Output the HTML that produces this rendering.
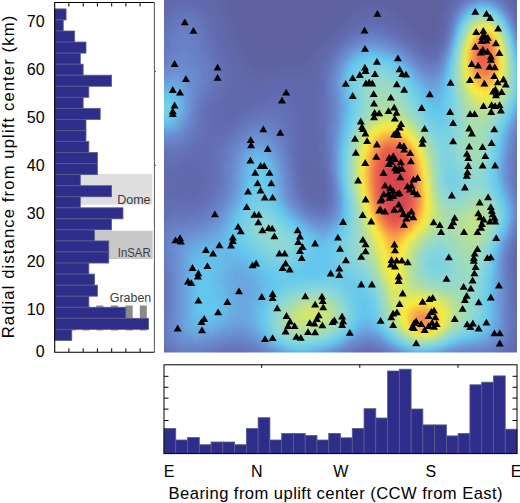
<!DOCTYPE html>
<html><head><meta charset="utf-8"><style>
html,body{margin:0;padding:0;background:#fff;}
svg{display:block;}
text{font-family:"Liberation Sans",sans-serif;fill:#000;}
.tk{font-size:16px;}
.ax{font-size:16.6px;}
.dir{font-size:16px;}
.rg{font-size:13px;fill:#3c3c3c;}
</style></head><body>
<svg width="520" height="503" viewBox="0 0 520 503">
<rect width="520" height="503" fill="#fff"/>
<clipPath id="hc"><rect x="164" y="0" width="353" height="352.5"/></clipPath>
<filter id="bl" x="-0.05" y="-0.05" width="1.1" height="1.1"><feGaussianBlur stdDeviation="1.6"/></filter>
<g clip-path="url(#hc)"><g shape-rendering="crispEdges" filter="url(#bl)">
<rect x="158.0" y="-6.0" width="366" height="366" fill="#5e609e"/>
<g transform="translate(158.0 -6.0)">
<path fill="#5f62a1" d="M0 0m60 0h12v3h-12zm147 0h18v3h-18zm78 0h6v3h-6zm69 0h3v3h-3zm-291 3h12v3h-12zm138 0h30v3h-30zm84 0h3v3h-3zm72 0h3v3h-3zm-291 3h9v3h-9zm129 0h39v3h-39zm87 0h6v3h-6zm75 0h3v3h-3zm-288 3h9v3h-9zm123 0h15v3h-15zm33 0h12v3h-12zm57 0h3v3h-3zm-213 3h9v3h-9zm120 0h12v3h-12zm42 0h9v3h-9zm51 0h3v3h-3zm78 0h3v3h-3zm-288 3h9v3h-9zm114 0h9v3h-9zm48 0h9v3h-9zm48 0h3v3h-3zm78 0h3v3h-3zm-288 3h9v3h-9zm111 0h9v3h-9zm54 0h9v3h-9zm42 0h6v3h-6zm-207 3h9v3h-9zm108 0h9v3h-9zm60 0h9v3h-9zm39 0h3v3h-3zm-204 3h9v3h-9zm102 0h9v3h-9zm66 0h9v3h-9zm36 0h3v3h-3zm84 0h3v3h-3zm-288 3h9v3h-9zm99 0h9v3h-9zm72 0h9v3h-9zm33 0h3v3h-3zm84 0h3v3h-3zm-288 3h9v3h-9zm96 0h9v3h-9zm78 0h9v3h-9zm30 0h3v3h-3zm-204 3h9v3h-9zm93 0h9v3h-9zm87 0h6v3h-6zm24 0h3v3h-3zm-201 3h9v3h-9zm87 0h9v3h-9zm93 0h6v3h-6zm18 0h6v3h-6zm-198 3h9v3h-9zm84 0h9v3h-9zm99 0h6v3h-6zm15 0h3v3h-3zm-198 3h9v3h-9zm81 0h9v3h-9zm105 0h15v3h-15zm-186 3h12v3h-12zm78 0h9v3h-9zm111 0h9v3h-9zm-186 3h9v3h-9zm72 0h9v3h-9zm-72 3h9v3h-9zm69 0h9v3h-9zm-66 3h9v3h-9zm63 0h12v3h-12zm-63 3h12v3h-12zm60 0h12v3h-12zm-57 3h12v3h-12zm48 0h18v3h-18zm-45 3h15v3h-15zm24 0h39v3h-39zm-24 3h60v3h-60zm3 3h51v3h-51zm3 3h21v3h-21zm267 186h3v3h-3zm0 3h3v3h-3zm0 3h3v3h-3zm0 3h3v3h-3zm0 3h3v3h-3zm0 3h3v3h-3zm0 87h3v3h-3zm0 3h3v3h-3z"/>
<path fill="#6065a5" d="M0 0m0 0h9v3h-9zm51 0h9v3h-9zm240 0h3v3h-3zm60 0h3v3h-3zm-351 3h6v3h-6zm54 0h9v3h-9zm234 0h3v3h-3zm66 0h3v3h-3zm-354 3h3v3h-3zm57 0h9v3h-9zm231 0h3v3h-3zm66 0h3v3h-3zm-294 3h9v3h-9zm147 0h18v3h-18zm78 0h3v3h-3zm72 0h3v3h-3zm-294 3h6v3h-6zm138 0h30v3h-30zm84 0h3v3h-3zm72 0h3v3h-3zm-294 3h9v3h-9zm132 0h12v3h-12zm27 0h12v3h-12zm63 0h3v3h-3zm-219 3h6v3h-6zm126 0h9v3h-9zm36 0h9v3h-9zm132 0h3v3h-3zm-294 3h6v3h-6zm123 0h6v3h-6zm42 0h9v3h-9zm51 0h3v3h-3zm78 0h3v3h-3zm-294 3h9v3h-9zm120 0h6v3h-6zm51 0h6v3h-6zm45 0h3v3h-3zm-213 3h6v3h-6zm114 0h6v3h-6zm57 0h6v3h-6zm42 0h3v3h-3zm-213 3h6v3h-6zm111 0h6v3h-6zm63 0h6v3h-6zm39 0h3v3h-3zm81 0h3v3h-3zm-294 3h6v3h-6zm108 0h6v3h-6zm72 0h6v3h-6zm-180 3h9v3h-9zm105 0h6v3h-6zm78 0h6v3h-6zm-180 3h6v3h-6zm99 0h6v3h-6zm84 0h6v3h-6zm24 0h3v3h-3zm-207 3h6v3h-6zm96 0h6v3h-6zm90 0h6v3h-6zm21 0h3v3h-3zm-207 3h6v3h-6zm93 0h6v3h-6zm96 0h6v3h-6zm15 0h3v3h-3zm-201 3h6v3h-6zm87 0h6v3h-6zm105 0h9v3h-9zm-192 3h6v3h-6zm84 0h6v3h-6zm-81 3h6v3h-6zm81 0h6v3h-6zm-81 3h6v3h-6zm78 0h6v3h-6zm-75 3h6v3h-6zm72 0h6v3h-6zm-72 3h9v3h-9zm72 0h6v3h-6zm-69 3h6v3h-6zm66 0h6v3h-6zm-66 3h9v3h-9zm60 0h12v3h-12zm-57 3h9v3h-9zm30 0h36v3h-36zm-30 3h63v3h-63zm3 3h57v3h-57zm3 3h18v3h-18zm63 105h3v3h-3zm0 3h3v3h-3zm207 60h3v3h-3zm0 3h3v3h-3zm0 3h3v3h-3zm-3 3h3v3h-3zm0 3h3v3h-3zm0 3h3v3h-3zm0 3h3v3h-3zm0 3h3v3h-3zm0 3h3v3h-3zm3 3h3v3h-3zm0 3h3v3h-3zm0 3h3v3h-3zm0 3h3v3h-3zm0 3h3v3h-3zm0 63h3v3h-3zm0 3h3v3h-3zm-3 3h6v3h-6zm0 3h3v3h-3zm-3 3h6v3h-6z"/>
<path fill="#6167a8" d="M0 0m9 0h12v3h-12zm30 0h12v3h-12zm255 0h3v3h-3zm54 0h3v3h-3zm-342 3h9v3h-9zm39 0h9v3h-9zm246 0h3v3h-3zm60 0h3v3h-3zm-348 3h6v3h-6zm48 0h6v3h-6zm240 0h3v3h-3zm-291 3h6v3h-6zm54 0h6v3h-6zm234 0h3v3h-3zm66 0h3v3h-3zm-354 3h3v3h-3zm57 0h6v3h-6zm231 0h3v3h-3zm-231 3h6v3h-6zm150 0h15v3h-15zm150 0h3v3h-3zm-297 3h6v3h-6zm141 0h27v3h-27zm84 0h3v3h-3zm-225 3h6v3h-6zm135 0h9v3h-9zm27 0h9v3h-9zm63 0h3v3h-3zm-222 3h3v3h-3zm129 0h6v3h-6zm36 0h9v3h-9zm57 0h3v3h-3zm75 0h3v3h-3zm-297 3h6v3h-6zm126 0h6v3h-6zm45 0h6v3h-6zm-171 3h6v3h-6zm123 0h3v3h-3zm51 0h6v3h-6zm-174 3h6v3h-6zm120 0h3v3h-3zm60 0h6v3h-6zm39 0h3v3h-3zm81 0h3v3h-3zm-297 3h3v3h-3zm114 0h3v3h-3zm66 0h6v3h-6zm36 0h3v3h-3zm81 0h3v3h-3zm-297 3h6v3h-6zm111 0h3v3h-3zm72 0h6v3h-6zm33 0h3v3h-3zm-216 3h6v3h-6zm108 0h3v3h-3zm81 0h3v3h-3zm-189 3h6v3h-6zm105 0h3v3h-3zm87 0h3v3h-3zm21 0h3v3h-3zm-210 3h6v3h-6zm99 0h3v3h-3zm93 0h6v3h-6zm15 0h3v3h-3zm-207 3h6v3h-6zm96 0h6v3h-6zm99 0h15v3h-15zm-192 3h6v3h-6zm93 0h3v3h-3zm-93 3h6v3h-6zm90 0h3v3h-3zm-87 3h6v3h-6zm84 0h6v3h-6zm-84 3h6v3h-6zm84 0h3v3h-3zm-81 3h6v3h-6zm78 0h6v3h-6zm-78 3h6v3h-6zm78 0h3v3h-3zm-75 3h6v3h-6zm72 0h6v3h-6zm-72 3h6v3h-6zm69 0h6v3h-6zm-69 3h9v3h-9zm66 0h9v3h-9zm-63 3h9v3h-9zm27 0h42v3h-42zm-27 3h69v3h-69zm3 3h27v3h-27zm51 0h12v3h-12zm-51 3h18v3h-18zm3 3h6v3h-6zm60 66h6v3h-6zm0 3h6v3h-6zm-3 3h12v3h-12zm0 3h12v3h-12zm0 3h12v3h-12zm0 3h15v3h-15zm-147 3h3v3h-3zm147 0h15v3h-15zm-147 3h3v3h-3zm147 0h15v3h-15zm-147 3h3v3h-3zm147 0h15v3h-15zm-147 3h3v3h-3zm150 0h6v3h-6zm9 0h6v3h-6zm-159 3h3v3h-3zm150 0h6v3h-6zm9 0h6v3h-6zm-159 3h3v3h-3zm150 0h15v3h-15zm-150 3h3v3h-3zm150 0h15v3h-15zm-150 3h3v3h-3zm153 0h12v3h-12zm-153 3h3v3h-3zm156 0h6v3h-6zm207 45h3v3h-3zm-3 6h3v3h-3zm0 3h3v3h-3zm0 21h3v3h-3zm0 3h3v3h-3zm0 3h3v3h-3zm0 3h3v3h-3zm3 6h3v3h-3zm0 3h3v3h-3zm0 3h3v3h-3zm0 3h3v3h-3zm0 3h3v3h-3zm0 3h3v3h-3zm0 3h3v3h-3zm0 3h3v3h-3zm0 3h3v3h-3zm0 3h3v3h-3zm0 3h3v3h-3zm0 3h3v3h-3zm0 3h3v3h-3zm0 3h3v3h-3zm0 3h3v3h-3zm0 3h3v3h-3zm0 3h3v3h-3zm0 3h3v3h-3zm0 3h3v3h-3zm-3 3h6v3h-6zm0 3h3v3h-3zm0 3h3v3h-3zm-3 3h3v3h-3zm-3 3h6v3h-6zm-3 3h6v3h-6z"/>
<path fill="#6169ac" d="M0 0m21 0h18v3h-18zm276 0h3v3h-3zm48 0h3v3h-3zm-330 3h30v3h-30zm279 0h3v3h-3zm54 0h3v3h-3zm-339 3h9v3h-9zm33 0h9v3h-9zm252 0h3v3h-3zm57 0h3v3h-3zm-345 3h6v3h-6zm39 0h9v3h-9zm246 0h3v3h-3zm-288 3h6v3h-6zm48 0h6v3h-6zm303 0h3v3h-3zm-354 3h6v3h-6zm51 0h6v3h-6zm237 0h3v3h-3zm-288 3h3v3h-3zm54 0h6v3h-6zm234 0h3v3h-3zm69 0h3v3h-3zm-357 3h3v3h-3zm57 0h3v3h-3zm147 0h18v3h-18zm153 0h3v3h-3zm-300 3h6v3h-6zm141 0h12v3h-12zm18 0h12v3h-12zm-159 3h6v3h-6zm138 0h6v3h-6zm30 0h9v3h-9zm60 0h3v3h-3zm75 0h3v3h-3zm-300 3h3v3h-3zm129 0h6v3h-6zm42 0h6v3h-6zm54 0h3v3h-3zm75 0h3v3h-3zm-300 3h3v3h-3zm126 0h6v3h-6zm51 0h6v3h-6zm48 0h3v3h-3zm-225 3h6v3h-6zm123 0h6v3h-6zm57 0h6v3h-6zm-180 3h6v3h-6zm120 0h3v3h-3zm66 0h3v3h-3zm117 0h3v3h-3zm-300 3h3v3h-3zm114 0h3v3h-3zm72 0h6v3h-6zm33 0h3v3h-3zm-219 3h3v3h-3zm111 0h6v3h-6zm81 0h3v3h-3zm27 0h3v3h-3zm-219 3h6v3h-6zm108 0h6v3h-6zm87 0h3v3h-3zm21 0h3v3h-3zm-213 3h3v3h-3zm105 0h3v3h-3zm90 0h3v3h-3zm18 0h3v3h-3zm-213 3h6v3h-6zm102 0h3v3h-3zm96 0h15v3h-15zm-195 3h3v3h-3zm96 0h3v3h-3zm105 0h3v3h-3zm-201 3h6v3h-6zm96 0h3v3h-3zm-93 3h3v3h-3zm90 0h3v3h-3zm-90 3h6v3h-6zm90 0h3v3h-3zm-87 3h3v3h-3zm84 0h3v3h-3zm-84 3h6v3h-6zm84 0h3v3h-3zm-84 3h6v3h-6zm81 0h6v3h-6zm-78 3h3v3h-3zm78 0h3v3h-3zm-78 3h6v3h-6zm75 0h6v3h-6zm-75 3h6v3h-6zm75 0h6v3h-6zm-75 3h9v3h-9zm36 0h24v3h-24zm36 0h9v3h-9zm-72 3h9v3h-9zm27 0h51v3h-51zm-27 3h12v3h-12zm18 0h18v3h-18zm36 0h24v3h-24zm-54 3h30v3h-30zm60 0h18v3h-18zm-63 3h27v3h-27zm66 0h15v3h-15zm-66 3h21v3h-21zm66 0h15v3h-15zm-69 3h18v3h-18zm72 0h12v3h-12zm-75 3h15v3h-15zm75 0h12v3h-12zm-75 3h12v3h-12zm75 0h12v3h-12zm-78 3h9v3h-9zm78 0h12v3h-12zm-78 3h6v3h-6zm78 0h12v3h-12zm0 3h12v3h-12zm0 3h9v3h-9zm0 3h9v3h-9zm0 3h12v3h-12zm0 3h12v3h-12zm0 3h12v3h-12zm0 3h12v3h-12zm0 3h12v3h-12zm0 3h12v3h-12zm0 3h15v3h-15zm0 3h15v3h-15zm0 3h15v3h-15zm0 3h15v3h-15zm0 3h6v3h-6zm12 0h6v3h-6zm207 0h3v3h-3zm-219 3h6v3h-6zm12 0h6v3h-6zm207 0h3v3h-3zm-363 3h3v3h-3zm144 0h3v3h-3zm15 0h3v3h-3zm204 0h3v3h-3zm-363 3h3v3h-3zm144 0h3v3h-3zm15 0h3v3h-3zm204 0h3v3h-3zm-363 3h3v3h-3zm144 0h3v3h-3zm15 0h6v3h-6zm204 0h3v3h-3zm-363 3h6v3h-6zm144 0h3v3h-3zm18 0h3v3h-3zm201 0h3v3h-3zm-360 3h3v3h-3zm141 0h3v3h-3zm18 0h3v3h-3zm201 0h3v3h-3zm-360 3h3v3h-3zm24 0h9v3h-9zm117 0h3v3h-3zm18 0h3v3h-3zm201 0h3v3h-3zm-360 3h3v3h-3zm21 0h15v3h-15zm120 0h3v3h-3zm18 0h3v3h-3zm201 0h3v3h-3zm-360 3h3v3h-3zm21 0h15v3h-15zm120 0h6v3h-6zm-141 3h3v3h-3zm21 0h12v3h-12zm123 0h3v3h-3zm18 0h3v3h-3zm-162 3h3v3h-3zm21 0h12v3h-12zm123 0h3v3h-3zm18 0h3v3h-3zm-162 3h3v3h-3zm24 0h6v3h-6zm120 0h3v3h-3zm18 0h3v3h-3zm-162 3h3v3h-3zm147 0h3v3h-3zm15 0h3v3h-3zm-162 3h3v3h-3zm147 0h6v3h-6zm12 0h6v3h-6zm-162 3h6v3h-6zm153 0h12v3h-12zm-153 3h3v3h-3zm0 3h3v3h-3zm0 3h3v3h-3zm363 27h3v3h-3zm0 3h3v3h-3zm-3 3h3v3h-3zm0 3h3v3h-3zm-3 6h3v3h-3zm0 3h3v3h-3zm0 3h3v3h-3zm0 3h3v3h-3zm0 3h3v3h-3zm0 3h3v3h-3zm0 3h3v3h-3zm0 3h3v3h-3zm0 3h3v3h-3zm0 3h3v3h-3zm3 6h3v3h-3zm0 3h3v3h-3zm0 3h3v3h-3zm0 3h3v3h-3zm0 3h3v3h-3zm0 3h3v3h-3zm0 3h3v3h-3zm0 3h3v3h-3zm0 3h3v3h-3zm0 3h3v3h-3zm0 3h3v3h-3zm0 3h3v3h-3zm0 3h3v3h-3zm0 3h3v3h-3zm0 3h3v3h-3zm0 3h3v3h-3zm0 3h3v3h-3zm0 3h3v3h-3zm0 3h3v3h-3zm0 3h3v3h-3zm-3 3h3v3h-3zm0 3h3v3h-3zm-3 3h6v3h-6zm0 3h3v3h-3zm-354 3h3v3h-3zm351 0h3v3h-3zm-351 3h6v3h-6zm198 0h27v3h-27zm147 0h6v3h-6z"/>
<path fill="#626baf" d="M0 0m300 0h3v3h-3zm42 0h3v3h-3zm-45 3h3v3h-3zm-279 3h24v3h-24zm330 0h3v3h-3zm-336 3h9v3h-9zm24 0h9v3h-9zm258 0h3v3h-3zm57 0h3v3h-3zm-342 3h6v3h-6zm33 0h9v3h-9zm249 0h3v3h-3zm-285 3h6v3h-6zm42 0h3v3h-3zm243 0h3v3h-3zm63 0h3v3h-3zm-351 3h6v3h-6zm45 0h6v3h-6zm-45 3h3v3h-3zm48 0h6v3h-6zm237 0h3v3h-3zm-288 3h6v3h-6zm54 0h3v3h-3zm156 0h6v3h-6zm78 0h3v3h-3zm69 0h3v3h-3zm-357 3h3v3h-3zm54 0h3v3h-3zm147 0h24v3h-24zm-201 3h3v3h-3zm54 0h6v3h-6zm141 0h9v3h-9zm30 0h6v3h-6zm-171 3h6v3h-6zm138 0h6v3h-6zm39 0h6v3h-6zm129 0h3v3h-3zm-303 3h3v3h-3zm132 0h3v3h-3zm48 0h3v3h-3zm48 0h3v3h-3zm-228 3h3v3h-3zm126 0h6v3h-6zm57 0h6v3h-6zm45 0h3v3h-3zm-228 3h6v3h-6zm123 0h6v3h-6zm66 0h3v3h-3zm117 0h3v3h-3zm-306 3h6v3h-6zm123 0h3v3h-3zm69 0h6v3h-6zm-189 3h3v3h-3zm117 0h3v3h-3zm78 0h3v3h-3zm27 0h3v3h-3zm-222 3h6v3h-6zm114 0h3v3h-3zm84 0h3v3h-3zm-195 3h3v3h-3zm108 0h3v3h-3zm90 0h3v3h-3zm18 0h3v3h-3zm-216 3h6v3h-6zm105 0h3v3h-3zm96 0h6v3h-6zm9 0h6v3h-6zm-207 3h3v3h-3zm102 0h3v3h-3zm-102 3h6v3h-6zm99 0h3v3h-3zm-96 3h3v3h-3zm96 0h3v3h-3zm-96 3h6v3h-6zm93 0h3v3h-3zm-93 3h6v3h-6zm93 0h3v3h-3zm-90 3h3v3h-3zm90 0h3v3h-3zm-90 3h6v3h-6zm87 0h3v3h-3zm-87 3h6v3h-6zm87 0h3v3h-3zm-87 3h6v3h-6zm87 0h3v3h-3zm-87 3h6v3h-6zm87 0h3v3h-3zm-87 3h6v3h-6zm84 0h6v3h-6zm-87 3h9v3h-9zm45 0h18v3h-18zm42 0h6v3h-6zm-87 3h9v3h-9zm39 0h30v3h-30zm48 0h6v3h-6zm-90 3h9v3h-9zm36 0h15v3h-15zm24 0h15v3h-15zm30 0h6v3h-6zm-93 3h12v3h-12zm33 0h15v3h-15zm36 0h9v3h-9zm24 0h6v3h-6zm-96 3h12v3h-12zm30 0h15v3h-15zm42 0h12v3h-12zm24 0h6v3h-6zm-96 3h9v3h-9zm24 0h15v3h-15zm51 0h9v3h-9zm21 0h6v3h-6zm-99 3h12v3h-12zm24 0h12v3h-12zm54 0h9v3h-9zm21 0h6v3h-6zm-102 3h12v3h-12zm21 0h15v3h-15zm60 0h9v3h-9zm21 0h6v3h-6zm-102 3h12v3h-12zm18 0h12v3h-12zm66 0h6v3h-6zm18 0h6v3h-6zm-102 3h27v3h-27zm84 0h6v3h-6zm18 0h6v3h-6zm-102 3h24v3h-24zm84 0h6v3h-6zm15 0h9v3h-9zm-99 3h21v3h-21zm84 0h6v3h-6zm15 0h9v3h-9zm-99 3h15v3h-15zm84 0h6v3h-6zm18 0h6v3h-6zm-102 3h12v3h-12zm84 0h6v3h-6zm18 0h6v3h-6zm-18 3h6v3h-6zm18 0h6v3h-6zm-18 3h6v3h-6zm18 0h6v3h-6zm-18 3h6v3h-6zm18 0h6v3h-6zm-18 3h6v3h-6zm18 0h6v3h-6zm-18 3h6v3h-6zm21 0h3v3h-3zm204 0h3v3h-3zm-225 3h6v3h-6zm21 0h3v3h-3zm204 0h3v3h-3zm-225 3h6v3h-6zm21 0h3v3h-3zm204 0h3v3h-3zm-225 3h6v3h-6zm21 0h3v3h-3zm204 0h3v3h-3zm-363 3h3v3h-3zm138 0h6v3h-6zm24 0h3v3h-3zm-162 3h3v3h-3zm141 0h3v3h-3zm21 0h3v3h-3zm-159 3h3v3h-3zm27 0h9v3h-9zm111 0h3v3h-3zm21 0h3v3h-3zm-159 3h3v3h-3zm21 0h18v3h-18zm117 0h3v3h-3zm21 0h3v3h-3zm198 0h3v3h-3zm-357 3h6v3h-6zm18 0h24v3h-24zm120 0h3v3h-3zm219 0h3v3h-3zm-354 3h6v3h-6zm12 0h27v3h-27zm123 0h3v3h-3zm24 0h3v3h-3zm195 0h3v3h-3zm-354 3h42v3h-42zm135 0h3v3h-3zm24 0h3v3h-3zm195 0h3v3h-3zm-354 3h21v3h-21zm30 0h12v3h-12zm105 0h3v3h-3zm24 0h3v3h-3zm-159 3h18v3h-18zm33 0h9v3h-9zm102 0h3v3h-3zm24 0h3v3h-3zm-159 3h18v3h-18zm33 0h9v3h-9zm102 0h3v3h-3zm24 0h3v3h-3zm198 0h3v3h-3zm-357 3h18v3h-18zm30 0h12v3h-12zm108 0h3v3h-3zm219 0h3v3h-3zm-357 3h18v3h-18zm30 0h9v3h-9zm108 0h3v3h-3zm219 0h3v3h-3zm-357 3h21v3h-21zm27 0h12v3h-12zm111 0h3v3h-3zm-138 3h36v3h-36zm141 0h3v3h-3zm-141 3h33v3h-33zm141 0h3v3h-3zm-141 3h3v3h-3zm15 0h15v3h-15zm129 0h3v3h-3zm15 0h3v3h-3zm-162 3h6v3h-6zm150 0h15v3h-15zm-150 3h3v3h-3zm156 0h3v3h-3zm-156 3h3v3h-3zm-3 3h3v3h-3zm0 3h3v3h-3zm0 3h3v3h-3zm363 12h3v3h-3zm0 3h3v3h-3zm-3 6h3v3h-3zm-3 6h3v3h-3zm0 3h3v3h-3zm-3 9h3v3h-3zm0 3h3v3h-3zm0 3h3v3h-3zm0 3h3v3h-3zm0 3h3v3h-3zm0 3h3v3h-3zm3 9h3v3h-3zm0 3h3v3h-3zm0 3h3v3h-3zm0 3h3v3h-3zm0 3h3v3h-3zm0 3h3v3h-3zm0 3h3v3h-3zm0 3h3v3h-3zm0 3h3v3h-3zm0 3h3v3h-3zm0 27h3v3h-3zm0 3h3v3h-3zm0 3h3v3h-3zm-3 3h3v3h-3zm0 3h3v3h-3zm-354 3h3v3h-3zm351 0h3v3h-3zm-351 3h3v3h-3zm348 0h6v3h-6zm-345 3h3v3h-3zm195 0h24v3h-24zm147 0h6v3h-6zm-339 3h3v3h-3zm54 0h30v3h-30zm132 0h6v3h-6zm33 0h3v3h-3zm114 0h6v3h-6z"/>
<path fill="#636eb2" d="M0 0m303 0h3v3h-3zm-3 3h3v3h-3zm45 0h3v3h-3zm-48 3h3v3h-3zm-276 3h15v3h-15zm-6 3h12v3h-12zm18 0h9v3h-9zm261 0h3v3h-3zm57 0h3v3h-3zm-339 3h6v3h-6zm27 0h9v3h-9zm-30 3h6v3h-6zm36 0h3v3h-3zm246 0h3v3h-3zm63 0h3v3h-3zm-348 3h6v3h-6zm39 0h6v3h-6zm-39 3h3v3h-3zm42 0h6v3h-6zm-45 3h3v3h-3zm48 0h3v3h-3zm237 0h3v3h-3zm69 0h3v3h-3zm-354 3h3v3h-3zm48 0h3v3h-3zm153 0h21v3h-21zm84 0h3v3h-3zm-288 3h3v3h-3zm51 0h3v3h-3zm147 0h6v3h-6zm27 0h6v3h-6zm-225 3h3v3h-3zm51 0h6v3h-6zm141 0h6v3h-6zm39 0h6v3h-6zm129 0h3v3h-3zm-360 3h3v3h-3zm54 0h3v3h-3zm135 0h3v3h-3zm48 0h3v3h-3zm-237 3h3v3h-3zm54 0h3v3h-3zm132 0h3v3h-3zm57 0h3v3h-3zm42 0h3v3h-3zm-231 3h3v3h-3zm129 0h3v3h-3zm63 0h3v3h-3zm117 0h3v3h-3zm-309 3h6v3h-6zm126 0h3v3h-3zm72 0h3v3h-3zm-195 3h3v3h-3zm120 0h3v3h-3zm78 0h3v3h-3zm27 0h3v3h-3zm-225 3h6v3h-6zm117 0h3v3h-3zm84 0h3v3h-3zm-198 3h3v3h-3zm111 0h3v3h-3zm90 0h3v3h-3zm18 0h3v3h-3zm-219 3h6v3h-6zm111 0h3v3h-3zm93 0h15v3h-15zm-201 3h3v3h-3zm105 0h3v3h-3zm-105 3h6v3h-6zm105 0h3v3h-3zm-105 3h6v3h-6zm102 0h3v3h-3zm-99 3h3v3h-3zm99 0h3v3h-3zm-99 3h6v3h-6zm99 0h3v3h-3zm-99 3h6v3h-6zm96 0h3v3h-3zm-96 3h6v3h-6zm96 0h3v3h-3zm-96 3h6v3h-6zm96 0h3v3h-3zm-96 3h6v3h-6zm96 0h3v3h-3zm-96 3h6v3h-6zm96 0h3v3h-3zm-99 3h6v3h-6zm99 0h3v3h-3zm-102 3h9v3h-9zm102 0h3v3h-3zm-102 3h6v3h-6zm57 0h9v3h-9zm45 0h3v3h-3zm-105 3h6v3h-6zm54 0h21v3h-21zm51 0h3v3h-3zm-108 3h6v3h-6zm51 0h27v3h-27zm57 0h3v3h-3zm-111 3h9v3h-9zm48 0h12v3h-12zm24 0h12v3h-12zm39 0h3v3h-3zm-111 3h6v3h-6zm42 0h12v3h-12zm33 0h9v3h-9zm36 0h3v3h-3zm-111 3h3v3h-3zm39 0h9v3h-9zm39 0h6v3h-6zm33 0h3v3h-3zm-114 3h6v3h-6zm36 0h9v3h-9zm45 0h9v3h-9zm33 0h3v3h-3zm-114 3h6v3h-6zm33 0h9v3h-9zm51 0h6v3h-6zm30 0h3v3h-3zm-114 3h6v3h-6zm30 0h6v3h-6zm54 0h6v3h-6zm30 0h3v3h-3zm-114 3h6v3h-6zm27 0h6v3h-6zm57 0h6v3h-6zm30 0h3v3h-3zm-114 3h6v3h-6zm21 0h9v3h-9zm63 0h6v3h-6zm30 0h3v3h-3zm-114 3h6v3h-6zm18 0h9v3h-9zm66 0h6v3h-6zm30 0h3v3h-3zm-114 3h24v3h-24zm84 0h6v3h-6zm30 0h3v3h-3zm-114 3h21v3h-21zm87 0h3v3h-3zm27 0h3v3h-3zm-117 3h18v3h-18zm90 0h3v3h-3zm27 0h3v3h-3zm201 0h3v3h-3zm-318 3h15v3h-15zm90 0h3v3h-3zm27 0h3v3h-3zm201 0h3v3h-3zm-318 3h12v3h-12zm90 0h3v3h-3zm27 0h3v3h-3zm-120 3h12v3h-12zm93 0h3v3h-3zm27 0h3v3h-3zm-123 3h15v3h-15zm96 0h3v3h-3zm27 0h3v3h-3zm198 0h3v3h-3zm-360 3h3v3h-3zm33 0h21v3h-21zm102 0h3v3h-3zm27 0h3v3h-3zm198 0h3v3h-3zm-357 3h3v3h-3zm24 0h27v3h-27zm108 0h3v3h-3zm225 0h3v3h-3zm-357 3h6v3h-6zm21 0h30v3h-30zm114 0h3v3h-3zm27 0h3v3h-3zm195 0h3v3h-3zm-354 3h6v3h-6zm12 0h12v3h-12zm21 0h15v3h-15zm99 0h3v3h-3zm27 0h3v3h-3zm195 0h3v3h-3zm-354 3h18v3h-18zm36 0h12v3h-12zm96 0h3v3h-3zm27 0h3v3h-3zm-156 3h12v3h-12zm36 0h9v3h-9zm93 0h3v3h-3zm27 0h3v3h-3zm-153 3h6v3h-6zm33 0h9v3h-9zm93 0h3v3h-3zm-90 3h6v3h-6zm90 0h3v3h-3zm-90 3h6v3h-6zm90 0h3v3h-3zm222 0h3v3h-3zm-312 3h6v3h-6zm120 0h3v3h-3zm192 0h3v3h-3zm-312 3h6v3h-6zm120 0h3v3h-3zm192 0h3v3h-3zm-312 3h6v3h-6zm93 0h3v3h-3zm27 0h3v3h-3zm192 0h3v3h-3zm-315 3h6v3h-6zm96 0h3v3h-3zm27 0h3v3h-3zm-123 3h6v3h-6zm96 0h3v3h-3zm27 0h3v3h-3zm195 0h3v3h-3zm-321 3h6v3h-6zm102 0h3v3h-3zm24 0h3v3h-3zm195 0h3v3h-3zm-324 3h9v3h-9zm105 0h3v3h-3zm24 0h3v3h-3zm195 0h3v3h-3zm-354 3h12v3h-12zm27 0h9v3h-9zm111 0h3v3h-3zm21 0h3v3h-3zm-159 3h33v3h-33zm141 0h3v3h-3zm18 0h3v3h-3zm-162 3h33v3h-33zm147 0h6v3h-6zm9 0h6v3h-6zm-156 3h6v3h-6zm153 0h3v3h-3zm-156 3h6v3h-6zm0 3h3v3h-3zm0 3h3v3h-3zm-3 3h3v3h-3zm0 3h3v3h-3zm363 3h3v3h-3zm-3 9h3v3h-3zm-3 6h3v3h-3zm-3 9h3v3h-3zm0 3h3v3h-3zm-354 15h3v3h-3zm0 3h3v3h-3zm0 3h3v3h-3zm354 0h3v3h-3zm-354 3h3v3h-3zm354 0h3v3h-3zm-354 3h3v3h-3zm354 0h3v3h-3zm-354 3h3v3h-3zm354 0h3v3h-3zm-354 3h3v3h-3zm354 0h3v3h-3zm-354 3h3v3h-3zm354 0h3v3h-3zm-354 3h3v3h-3zm0 3h3v3h-3zm0 3h3v3h-3zm0 3h3v3h-3zm0 3h3v3h-3zm0 3h3v3h-3zm0 3h3v3h-3zm357 0h3v3h-3zm-357 3h3v3h-3zm357 0h3v3h-3zm0 3h3v3h-3zm0 3h3v3h-3zm0 3h3v3h-3zm0 3h3v3h-3zm0 3h3v3h-3zm0 3h3v3h-3zm-3 6h3v3h-3zm-354 3h3v3h-3zm354 0h3v3h-3zm-354 3h3v3h-3zm0 3h3v3h-3zm351 0h3v3h-3zm-348 3h3v3h-3zm345 0h3v3h-3zm-345 3h6v3h-6zm198 0h18v3h-18zm144 0h3v3h-3zm-339 3h6v3h-6zm54 0h30v3h-30zm132 0h6v3h-6zm30 0h6v3h-6zm117 0h6v3h-6zm-330 3h6v3h-6zm39 0h12v3h-12zm42 0h9v3h-9zm96 0h6v3h-6zm42 0h6v3h-6zm102 0h9v3h-9z"/>
<path fill="#6470b6" d="M0 0m306 0h6v3h-6zm33 0h3v3h-3zm-36 3h3v3h-3zm39 0h3v3h-3zm-42 3h3v3h-3zm45 0h3v3h-3zm-48 3h3v3h-3zm51 0h3v3h-3zm-321 3h6v3h-6zm-9 3h21v3h-21zm276 0h3v3h-3zm57 0h3v3h-3zm-336 3h6v3h-6zm21 0h9v3h-9zm-24 3h3v3h-3zm30 0h3v3h-3zm249 0h3v3h-3zm63 0h3v3h-3zm-345 3h3v3h-3zm33 0h6v3h-6zm249 0h3v3h-3zm-285 3h6v3h-6zm39 0h6v3h-6zm-39 3h3v3h-3zm39 0h6v3h-6zm312 0h3v3h-3zm-354 3h6v3h-6zm45 0h3v3h-3zm156 0h21v3h-21zm84 0h3v3h-3zm-285 3h3v3h-3zm45 0h3v3h-3zm150 0h6v3h-6zm27 0h6v3h-6zm63 0h3v3h-3zm-285 3h3v3h-3zm45 0h6v3h-6zm144 0h6v3h-6zm39 0h6v3h-6zm129 0h3v3h-3zm-357 3h3v3h-3zm45 0h6v3h-6zm141 0h3v3h-3zm48 0h6v3h-6zm-237 3h6v3h-6zm51 0h3v3h-3zm135 0h3v3h-3zm57 0h3v3h-3zm42 0h3v3h-3zm-285 3h3v3h-3zm51 0h3v3h-3zm132 0h3v3h-3zm63 0h6v3h-6zm39 0h3v3h-3zm78 0h3v3h-3zm-363 3h3v3h-3zm51 0h6v3h-6zm129 0h3v3h-3zm72 0h3v3h-3zm-252 3h3v3h-3zm54 0h3v3h-3zm123 0h3v3h-3zm78 0h3v3h-3zm27 0h3v3h-3zm-282 3h3v3h-3zm54 0h6v3h-6zm120 0h3v3h-3zm84 0h3v3h-3zm-204 3h6v3h-6zm207 0h3v3h-3zm18 0h3v3h-3zm-222 3h6v3h-6zm114 0h3v3h-3zm96 0h12v3h-12zm-210 3h6v3h-6zm3 3h3v3h-3zm108 0h3v3h-3zm-108 3h6v3h-6zm108 0h3v3h-3zm-105 3h3v3h-3zm0 3h3v3h-3zm102 0h3v3h-3zm-102 3h3v3h-3zm102 0h3v3h-3zm-102 3h3v3h-3zm102 0h3v3h-3zm-105 3h6v3h-6zm105 0h3v3h-3zm-105 3h6v3h-6zm105 0h3v3h-3zm-108 3h6v3h-6zm108 0h3v3h-3zm-111 3h6v3h-6zm111 0h3v3h-3zm-111 3h6v3h-6zm111 0h3v3h-3zm-114 3h6v3h-6zm114 0h3v3h-3zm-114 3h3v3h-3zm114 0h3v3h-3zm-117 3h3v3h-3zm63 0h12v3h-12zm54 0h3v3h-3zm-117 3h3v3h-3zm57 0h21v3h-21zm60 0h3v3h-3zm-120 3h6v3h-6zm54 0h30v3h-30zm66 0h3v3h-3zm-120 3h3v3h-3zm48 0h9v3h-9zm30 0h6v3h-6zm42 0h3v3h-3zm-120 3h3v3h-3zm45 0h6v3h-6zm33 0h9v3h-9zm42 0h3v3h-3zm-120 3h3v3h-3zm39 0h6v3h-6zm42 0h6v3h-6zm39 0h3v3h-3zm-123 3h6v3h-6zm39 0h6v3h-6zm45 0h6v3h-6zm39 0h3v3h-3zm-123 3h6v3h-6zm36 0h6v3h-6zm51 0h3v3h-3zm36 0h3v3h-3zm-123 3h6v3h-6zm33 0h3v3h-3zm54 0h3v3h-3zm36 0h3v3h-3zm-123 3h6v3h-6zm30 0h3v3h-3zm57 0h3v3h-3zm36 0h3v3h-3zm198 0h3v3h-3zm-321 3h6v3h-6zm27 0h3v3h-3zm60 0h6v3h-6zm36 0h3v3h-3zm198 0h3v3h-3zm-324 3h6v3h-6zm24 0h9v3h-9zm69 0h3v3h-3zm33 0h3v3h-3zm-126 3h6v3h-6zm21 0h9v3h-9zm72 0h3v3h-3zm33 0h3v3h-3zm195 0h3v3h-3zm-324 3h9v3h-9zm21 0h9v3h-9zm75 0h3v3h-3zm33 0h3v3h-3zm195 0h3v3h-3zm-327 3h9v3h-9zm21 0h9v3h-9zm78 0h3v3h-3zm33 0h3v3h-3zm195 0h3v3h-3zm-360 3h3v3h-3zm27 0h12v3h-12zm27 0h9v3h-9zm78 0h3v3h-3zm33 0h3v3h-3zm-162 3h3v3h-3zm21 0h9v3h-9zm30 0h6v3h-6zm78 0h3v3h-3zm33 0h3v3h-3zm-159 3h6v3h-6zm12 0h9v3h-9zm36 0h6v3h-6zm111 0h3v3h-3zm-156 3h15v3h-15zm45 0h6v3h-6zm81 0h3v3h-3zm222 0h3v3h-3zm-345 3h6v3h-6zm42 0h6v3h-6zm81 0h3v3h-3zm222 0h3v3h-3zm-303 3h6v3h-6zm81 0h3v3h-3zm222 0h3v3h-3zm-303 3h6v3h-6zm81 0h3v3h-3zm33 0h3v3h-3zm189 0h3v3h-3zm-303 3h6v3h-6zm81 0h3v3h-3zm33 0h3v3h-3zm189 0h3v3h-3zm-303 3h6v3h-6zm114 0h3v3h-3zm189 0h3v3h-3zm-303 3h6v3h-6zm114 0h3v3h-3zm189 0h3v3h-3zm-303 3h6v3h-6zm84 0h3v3h-3zm219 0h3v3h-3zm-303 3h6v3h-6zm84 0h3v3h-3zm-84 3h3v3h-3zm84 0h3v3h-3zm-87 3h6v3h-6zm87 0h3v3h-3zm222 0h3v3h-3zm-309 3h6v3h-6zm120 0h3v3h-3zm189 0h3v3h-3zm-312 3h6v3h-6zm93 0h3v3h-3zm30 0h3v3h-3zm-123 3h6v3h-6zm93 0h3v3h-3zm30 0h3v3h-3zm-126 3h6v3h-6zm99 0h3v3h-3zm219 0h3v3h-3zm-321 3h6v3h-6zm105 0h3v3h-3zm216 0h3v3h-3zm-324 3h6v3h-6zm111 0h3v3h-3zm18 0h3v3h-3zm195 0h3v3h-3zm-351 3h30v3h-30zm141 0h6v3h-6zm9 0h6v3h-6zm201 0h3v3h-3zm-354 3h27v3h-27zm-3 3h6v3h-6zm357 0h3v3h-3zm-357 3h3v3h-3zm357 0h3v3h-3zm-360 3h3v3h-3zm360 0h3v3h-3zm-360 3h3v3h-3zm360 0h3v3h-3zm-363 3h3v3h-3zm0 3h3v3h-3zm360 0h3v3h-3zm-360 3h3v3h-3zm360 0h3v3h-3zm-3 6h3v3h-3zm-3 6h3v3h-3zm0 3h3v3h-3zm-354 6h3v3h-3zm0 3h3v3h-3zm351 0h3v3h-3zm-351 3h3v3h-3zm351 0h3v3h-3zm-351 3h3v3h-3zm351 0h3v3h-3zm-351 3h3v3h-3zm351 0h3v3h-3zm0 3h3v3h-3zm0 3h3v3h-3zm-348 3h3v3h-3zm348 0h3v3h-3zm-348 3h3v3h-3zm0 3h3v3h-3zm0 3h3v3h-3zm0 3h3v3h-3zm0 3h3v3h-3zm0 3h3v3h-3zm351 0h3v3h-3zm-351 3h3v3h-3zm351 0h3v3h-3zm-351 3h3v3h-3zm351 0h3v3h-3zm-351 3h3v3h-3zm351 0h3v3h-3zm-351 3h3v3h-3zm351 0h3v3h-3zm-351 3h3v3h-3zm351 0h3v3h-3zm-351 3h3v3h-3zm351 0h3v3h-3zm0 3h3v3h-3zm-354 3h3v3h-3zm354 0h3v3h-3zm-354 3h3v3h-3zm354 0h3v3h-3zm-354 3h3v3h-3zm354 0h3v3h-3zm-354 3h3v3h-3zm354 0h3v3h-3zm-354 3h3v3h-3zm354 0h3v3h-3zm-354 3h3v3h-3zm354 0h3v3h-3zm-354 3h3v3h-3zm354 0h3v3h-3zm-354 3h3v3h-3zm351 3h3v3h-3zm-348 3h3v3h-3zm348 0h3v3h-3zm-348 3h3v3h-3zm345 0h3v3h-3zm-342 3h3v3h-3zm198 0h12v3h-12zm141 0h3v3h-3zm-336 3h3v3h-3zm51 0h30v3h-30zm135 0h6v3h-6zm24 0h6v3h-6zm123 0h3v3h-3zm-330 3h3v3h-3zm39 0h9v3h-9zm39 0h9v3h-9zm99 0h3v3h-3zm39 0h3v3h-3zm105 0h6v3h-6zm-318 3h9v3h-9zm21 0h12v3h-12zm63 0h6v3h-6zm81 0h6v3h-6zm54 0h3v3h-3zm66 0h30v3h-30z"/>
<path fill="#6574ba" d="M0 0m312 0h3v3h-3zm21 0h6v3h-6zm-27 3h3v3h-3zm33 0h3v3h-3zm-39 6h3v3h-3zm-3 3h3v3h-3zm51 0h3v3h-3zm-327 6h15v3h-15zm273 0h3v3h-3zm-279 3h12v3h-12zm15 0h12v3h-12zm-18 3h6v3h-6zm24 0h6v3h-6zm318 0h3v3h-3zm-342 3h3v3h-3zm27 0h6v3h-6zm252 0h3v3h-3zm-282 3h6v3h-6zm33 0h3v3h-3zm-33 3h3v3h-3zm33 0h6v3h-6zm-36 3h6v3h-6zm39 0h3v3h-3zm159 0h21v3h-21zm-198 3h3v3h-3zm39 0h3v3h-3zm153 0h3v3h-3zm27 0h6v3h-6zm63 0h3v3h-3zm-282 3h3v3h-3zm39 0h3v3h-3zm147 0h3v3h-3zm42 0h3v3h-3zm-228 3h3v3h-3zm39 0h6v3h-6zm144 0h3v3h-3zm51 0h3v3h-3zm-237 3h6v3h-6zm42 0h6v3h-6zm141 0h3v3h-3zm57 0h3v3h-3zm-240 3h3v3h-3zm45 0h3v3h-3zm135 0h3v3h-3zm66 0h3v3h-3zm36 0h3v3h-3zm78 0h3v3h-3zm-360 3h3v3h-3zm45 0h6v3h-6zm132 0h3v3h-3zm72 0h3v3h-3zm-249 3h3v3h-3zm45 0h6v3h-6zm129 0h3v3h-3zm78 0h3v3h-3zm27 0h3v3h-3zm-282 3h3v3h-3zm51 0h3v3h-3zm123 0h3v3h-3zm84 0h3v3h-3zm-258 3h3v3h-3zm51 0h6v3h-6zm123 0h3v3h-3zm90 0h3v3h-3zm15 0h3v3h-3zm-279 3h3v3h-3zm54 0h3v3h-3zm117 0h3v3h-3zm96 0h12v3h-12zm-213 3h6v3h-6zm117 0h3v3h-3zm-114 3h3v3h-3zm0 3h6v3h-6zm111 0h3v3h-3zm-111 3h6v3h-6zm111 0h3v3h-3zm-111 3h6v3h-6zm111 0h3v3h-3zm-111 3h6v3h-6zm-3 3h6v3h-6zm0 3h6v3h-6zm-3 3h6v3h-6zm0 3h3v3h-3zm-3 3h6v3h-6zm0 3h3v3h-3zm120 0h3v3h-3zm-123 3h6v3h-6zm123 0h3v3h-3zm-123 3h3v3h-3zm123 0h3v3h-3zm-123 3h3v3h-3zm123 0h3v3h-3zm-126 3h3v3h-3zm126 0h3v3h-3zm-126 3h3v3h-3zm60 0h21v3h-21zm66 0h3v3h-3zm-126 3h3v3h-3zm54 0h27v3h-27zm72 0h3v3h-3zm-126 3h3v3h-3zm48 0h9v3h-9zm27 0h9v3h-9zm51 0h3v3h-3zm-129 3h3v3h-3zm48 0h6v3h-6zm33 0h6v3h-6zm48 0h3v3h-3zm-129 3h3v3h-3zm45 0h3v3h-3zm39 0h6v3h-6zm240 0h3v3h-3zm-324 3h3v3h-3zm39 0h6v3h-6zm45 0h6v3h-6zm240 0h3v3h-3zm-324 3h3v3h-3zm36 0h6v3h-6zm51 0h3v3h-3zm-90 3h6v3h-6zm36 0h6v3h-6zm54 0h3v3h-3zm234 0h3v3h-3zm-327 3h6v3h-6zm39 0h3v3h-3zm54 0h6v3h-6zm234 0h3v3h-3zm-327 3h6v3h-6zm36 0h3v3h-3zm60 0h3v3h-3zm-99 3h6v3h-6zm36 0h6v3h-6zm63 0h3v3h-3zm-129 3h3v3h-3zm24 0h9v3h-9zm39 0h6v3h-6zm66 0h3v3h-3zm228 0h3v3h-3zm-354 3h3v3h-3zm18 0h6v3h-6zm42 0h3v3h-3zm66 0h3v3h-3zm228 0h3v3h-3zm-351 3h18v3h-18zm54 0h6v3h-6zm108 0h3v3h-3zm189 0h3v3h-3zm-345 3h6v3h-6zm48 0h6v3h-6zm72 0h3v3h-3zm36 0h3v3h-3zm189 0h3v3h-3zm-297 3h6v3h-6zm72 0h3v3h-3zm36 0h3v3h-3zm-108 3h3v3h-3zm72 0h3v3h-3zm36 0h3v3h-3zm-108 3h3v3h-3zm72 0h3v3h-3zm36 0h3v3h-3zm-108 3h3v3h-3zm0 3h3v3h-3zm0 3h3v3h-3zm75 0h3v3h-3zm-75 3h3v3h-3zm75 0h3v3h-3zm-75 3h3v3h-3zm75 0h3v3h-3zm36 0h3v3h-3zm-111 3h3v3h-3zm75 0h3v3h-3zm36 0h3v3h-3zm186 0h3v3h-3zm-300 3h6v3h-6zm78 0h3v3h-3zm36 0h3v3h-3zm186 0h3v3h-3zm-300 3h3v3h-3zm114 0h3v3h-3zm186 0h3v3h-3zm-300 3h3v3h-3zm81 0h3v3h-3zm-84 3h6v3h-6zm84 0h3v3h-3zm222 0h3v3h-3zm-306 3h3v3h-3zm306 0h3v3h-3zm-309 3h3v3h-3zm90 0h3v3h-3zm30 0h3v3h-3zm189 0h3v3h-3zm-312 3h6v3h-6zm96 0h3v3h-3zm27 0h3v3h-3zm-126 3h6v3h-6zm102 0h3v3h-3zm24 0h3v3h-3zm-129 3h6v3h-6zm108 0h3v3h-3zm18 0h3v3h-3zm-132 3h9v3h-9zm120 0h12v3h-12zm207 0h3v3h-3zm-351 3h27v3h-27zm-3 3h6v3h-6zm-3 3h3v3h-3zm0 3h3v3h-3zm-3 3h3v3h-3zm357 0h3v3h-3zm-357 3h3v3h-3zm-3 6h3v3h-3zm357 0h3v3h-3zm-357 3h3v3h-3zm0 3h3v3h-3zm354 0h3v3h-3zm-354 3h3v3h-3zm0 3h3v3h-3zm0 3h3v3h-3zm351 0h3v3h-3zm0 3h3v3h-3zm-348 6h3v3h-3zm0 3h3v3h-3zm0 3h3v3h-3zm0 3h3v3h-3zm0 3h3v3h-3zm348 6h3v3h-3zm-345 3h3v3h-3zm345 0h3v3h-3zm-345 3h3v3h-3zm345 0h3v3h-3zm-345 3h3v3h-3zm345 0h3v3h-3zm-345 3h3v3h-3zm345 0h3v3h-3zm-345 3h3v3h-3zm345 0h3v3h-3zm-345 3h3v3h-3zm345 0h3v3h-3zm-345 3h3v3h-3zm345 0h3v3h-3zm-345 3h3v3h-3zm345 0h3v3h-3zm-345 3h3v3h-3zm345 0h3v3h-3zm0 3h3v3h-3zm-348 6h3v3h-3zm0 3h3v3h-3zm0 3h3v3h-3zm0 3h3v3h-3zm0 3h3v3h-3zm0 3h3v3h-3zm348 0h3v3h-3zm-348 3h3v3h-3zm348 0h3v3h-3zm-348 3h3v3h-3zm348 0h3v3h-3zm-348 3h3v3h-3zm348 0h3v3h-3zm-348 3h3v3h-3zm345 0h3v3h-3zm-342 3h3v3h-3zm342 0h3v3h-3zm-342 3h3v3h-3zm339 0h3v3h-3zm-336 3h3v3h-3zm54 0h24v3h-24zm135 0h6v3h-6zm18 0h6v3h-6zm126 0h3v3h-3zm-330 3h6v3h-6zm39 0h9v3h-9zm39 0h6v3h-6zm102 0h3v3h-3zm33 0h3v3h-3zm111 0h6v3h-6zm-321 3h9v3h-9zm24 0h12v3h-12zm60 0h3v3h-3zm84 0h6v3h-6zm48 0h3v3h-3zm87 0h15v3h-15zm-294 3h12v3h-12zm81 0h6v3h-6zm69 0h6v3h-6zm63 0h6v3h-6zm54 0h9v3h-9z"/>
<path fill="#6679be" d="M0 0m315 0h6v3h-6zm12 0h6v3h-6zm-18 3h3v3h-3zm27 0h3v3h-3zm-33 3h3v3h-3zm39 0h3v3h-3zm3 3h3v3h-3zm-48 6h3v3h-3zm54 3h3v3h-3zm-324 3h3v3h-3zm267 0h3v3h-3zm-276 3h18v3h-18zm-3 3h9v3h-9zm15 0h9v3h-9zm-15 3h6v3h-6zm21 0h6v3h-6zm255 0h3v3h-3zm-279 3h6v3h-6zm24 0h6v3h-6zm255 0h3v3h-3zm66 0h3v3h-3zm-345 3h3v3h-3zm27 0h6v3h-6zm-30 3h6v3h-6zm30 0h6v3h-6zm162 0h9v3h-9zm15 0h9v3h-9zm-207 3h3v3h-3zm30 0h6v3h-6zm156 0h6v3h-6zm33 0h6v3h-6zm60 0h3v3h-3zm72 0h3v3h-3zm-351 3h3v3h-3zm33 0h3v3h-3zm150 0h3v3h-3zm42 0h6v3h-6zm54 0h3v3h-3zm-279 3h3v3h-3zm33 0h3v3h-3zm147 0h3v3h-3zm51 0h3v3h-3zm-234 3h6v3h-6zm36 0h6v3h-6zm204 0h3v3h-3zm-240 3h3v3h-3zm36 0h6v3h-6zm141 0h3v3h-3zm66 0h3v3h-3zm36 0h3v3h-3zm78 0h3v3h-3zm-357 3h3v3h-3zm39 0h3v3h-3zm135 0h3v3h-3zm72 0h3v3h-3zm-249 3h3v3h-3zm42 0h6v3h-6zm132 0h3v3h-3zm78 0h3v3h-3zm27 0h3v3h-3zm-279 3h3v3h-3zm45 0h3v3h-3zm213 0h3v3h-3zm-258 3h3v3h-3zm45 0h6v3h-6zm126 0h3v3h-3zm90 0h3v3h-3zm-264 3h3v3h-3zm51 0h3v3h-3zm216 0h9v3h-9zm-216 3h6v3h-6zm120 0h3v3h-3zm-120 3h6v3h-6zm120 0h3v3h-3zm-120 3h6v3h-6zm0 3h6v3h-6zm0 3h6v3h-6zm117 0h3v3h-3zm-117 3h3v3h-3zm117 0h3v3h-3zm-120 3h6v3h-6zm120 0h3v3h-3zm-120 3h3v3h-3zm120 0h3v3h-3zm-123 3h6v3h-6zm123 0h3v3h-3zm-123 3h3v3h-3zm123 0h3v3h-3zm-123 3h3v3h-3zm-3 3h3v3h-3zm0 3h3v3h-3zm0 3h3v3h-3zm-3 3h3v3h-3zm0 3h3v3h-3zm0 3h3v3h-3zm0 3h3v3h-3zm60 0h18v3h-18zm-6 3h9v3h-9zm18 0h9v3h-9zm252 0h3v3h-3zm-327 3h3v3h-3zm51 0h9v3h-9zm30 0h6v3h-6zm51 0h3v3h-3zm-132 3h3v3h-3zm48 0h6v3h-6zm36 0h3v3h-3zm48 0h3v3h-3zm-135 3h6v3h-6zm48 0h3v3h-3zm39 0h6v3h-6zm48 0h3v3h-3zm192 0h3v3h-3zm-327 3h3v3h-3zm45 0h3v3h-3zm45 0h3v3h-3zm45 0h3v3h-3zm-138 3h3v3h-3zm45 0h3v3h-3zm48 0h3v3h-3zm45 0h3v3h-3zm-141 3h6v3h-6zm45 0h6v3h-6zm54 0h3v3h-3zm42 0h3v3h-3zm189 0h3v3h-3zm-357 3h3v3h-3zm24 0h6v3h-6zm48 0h3v3h-3zm54 0h3v3h-3zm42 0h3v3h-3zm189 0h3v3h-3zm-354 3h6v3h-6zm18 0h3v3h-3zm48 0h3v3h-3zm57 0h3v3h-3zm42 0h3v3h-3zm-162 3h15v3h-15zm60 0h6v3h-6zm102 0h3v3h-3zm-102 3h3v3h-3zm63 0h3v3h-3zm-63 3h3v3h-3zm63 0h3v3h-3zm225 0h3v3h-3zm-288 3h3v3h-3zm63 0h3v3h-3zm225 0h3v3h-3zm-291 3h6v3h-6zm291 0h3v3h-3zm-291 3h3v3h-3zm291 0h3v3h-3zm-291 3h3v3h-3zm69 0h3v3h-3zm222 0h3v3h-3zm-291 3h3v3h-3zm69 0h3v3h-3zm39 0h3v3h-3zm183 0h3v3h-3zm-291 3h3v3h-3zm69 0h3v3h-3zm39 0h3v3h-3zm183 0h3v3h-3zm-291 3h3v3h-3zm69 0h3v3h-3zm39 0h3v3h-3zm183 0h3v3h-3zm-291 3h3v3h-3zm69 0h3v3h-3zm222 0h3v3h-3zm-291 3h3v3h-3zm291 0h3v3h-3zm-291 3h3v3h-3zm-3 3h3v3h-3zm75 0h3v3h-3zm-75 3h3v3h-3zm75 0h3v3h-3zm222 0h3v3h-3zm-297 3h3v3h-3zm297 0h3v3h-3zm-300 3h3v3h-3zm81 0h3v3h-3zm-84 3h6v3h-6zm84 0h3v3h-3zm-84 3h3v3h-3zm87 0h3v3h-3zm219 0h3v3h-3zm-309 3h3v3h-3zm93 0h3v3h-3zm216 0h3v3h-3zm-312 3h3v3h-3zm99 0h3v3h-3zm24 0h3v3h-3zm189 0h3v3h-3zm-315 3h3v3h-3zm105 0h6v3h-6zm18 0h3v3h-3zm-129 3h6v3h-6zm117 0h12v3h-12zm204 0h3v3h-3zm-345 3h27v3h-27zm345 0h3v3h-3zm-351 3h21v3h-21zm351 0h3v3h-3zm-351 3h3v3h-3zm351 0h3v3h-3zm-354 3h3v3h-3zm0 3h3v3h-3zm351 0h3v3h-3zm-354 3h3v3h-3zm354 0h3v3h-3zm-354 3h3v3h-3zm0 3h3v3h-3zm351 0h3v3h-3zm-351 3h3v3h-3zm0 3h3v3h-3zm348 0h3v3h-3zm-348 3h3v3h-3zm348 0h3v3h-3zm-348 3h3v3h-3zm0 3h3v3h-3zm0 3h3v3h-3zm345 0h3v3h-3zm0 3h3v3h-3zm-342 3h3v3h-3zm342 0h3v3h-3zm-342 3h3v3h-3zm342 0h3v3h-3zm-342 3h3v3h-3zm342 0h3v3h-3zm-342 3h3v3h-3zm342 0h3v3h-3zm-342 3h3v3h-3zm342 0h3v3h-3zm-342 3h3v3h-3zm342 0h3v3h-3zm0 3h3v3h-3zm-342 27h3v3h-3zm0 3h3v3h-3zm345 0h3v3h-3zm-345 3h3v3h-3zm345 0h3v3h-3zm-345 3h3v3h-3zm345 0h3v3h-3zm-345 3h3v3h-3zm345 0h3v3h-3zm-345 3h3v3h-3zm345 0h3v3h-3zm-345 3h3v3h-3zm345 0h3v3h-3zm-345 3h3v3h-3zm0 3h3v3h-3zm0 3h3v3h-3zm342 0h3v3h-3zm-342 3h3v3h-3zm342 0h3v3h-3zm-342 3h3v3h-3zm3 3h3v3h-3zm336 0h3v3h-3zm-336 3h6v3h-6zm57 0h21v3h-21zm135 0h18v3h-18zm141 0h3v3h-3zm-330 3h6v3h-6zm42 0h9v3h-9zm33 0h6v3h-6zm108 0h3v3h-3zm27 0h3v3h-3zm114 0h6v3h-6zm-318 3h6v3h-6zm24 0h9v3h-9zm54 0h6v3h-6zm90 0h6v3h-6zm42 0h3v3h-3zm99 0h9v3h-9zm-303 3h15v3h-15zm78 0h6v3h-6zm78 0h3v3h-3zm54 0h3v3h-3zm66 0h18v3h-18zm-189 3h6v3h-6zm60 0h3v3h-3zm72 0h3v3h-3zm42 0h6v3h-6z"/>
<path fill="#677dc2" d="M0 0m321 0h6v3h-6zm-9 3h3v3h-3zm21 0h3v3h-3zm-27 3h3v3h-3zm33 0h3v3h-3zm-36 3h3v3h-3zm-3 3h3v3h-3zm45 0h3v3h-3zm3 3h3v3h-3zm-51 3h3v3h-3zm54 3h3v3h-3zm-57 3h3v3h-3zm-270 3h6v3h-6zm330 0h3v3h-3zm-333 3h15v3h-15zm-3 3h18v3h-18zm-3 3h9v3h-9zm15 0h9v3h-9zm261 0h3v3h-3zm66 0h3v3h-3zm-342 3h6v3h-6zm18 0h6v3h-6zm177 0h6v3h-6zm-198 3h9v3h-9zm21 0h6v3h-6zm168 0h6v3h-6zm21 0h6v3h-6zm-210 3h6v3h-6zm21 0h9v3h-9zm162 0h3v3h-3zm36 0h3v3h-3zm129 0h3v3h-3zm-348 3h6v3h-6zm24 0h6v3h-6zm156 0h3v3h-3zm45 0h3v3h-3zm51 0h3v3h-3zm-276 3h3v3h-3zm24 0h6v3h-6zm150 0h3v3h-3zm57 0h3v3h-3zm-234 3h6v3h-6zm27 0h6v3h-6zm210 0h3v3h-3zm-237 3h3v3h-3zm30 0h6v3h-6zm210 0h3v3h-3zm36 0h3v3h-3zm78 0h3v3h-3zm-357 3h6v3h-6zm33 0h6v3h-6zm141 0h3v3h-3zm-174 3h3v3h-3zm36 0h6v3h-6zm135 0h3v3h-3zm81 0h3v3h-3zm24 0h3v3h-3zm-276 3h3v3h-3zm36 0h6v3h-6zm219 0h3v3h-3zm18 0h3v3h-3zm-276 3h3v3h-3zm42 0h6v3h-6zm129 0h3v3h-3zm90 0h3v3h-3zm12 0h3v3h-3zm-276 3h3v3h-3zm45 0h6v3h-6zm129 0h3v3h-3zm96 0h6v3h-6zm-270 3h3v3h-3zm45 0h6v3h-6zm0 3h6v3h-6zm126 0h3v3h-3zm-126 3h6v3h-6zm126 0h3v3h-3zm-126 3h6v3h-6zm126 0h3v3h-3zm-126 3h6v3h-6zm126 0h3v3h-3zm-126 3h3v3h-3zm126 0h3v3h-3zm-129 3h6v3h-6zm129 0h3v3h-3zm-129 3h3v3h-3zm129 0h3v3h-3zm-129 3h3v3h-3zm129 0h3v3h-3zm-132 3h6v3h-6zm132 0h3v3h-3zm-132 3h3v3h-3zm132 0h3v3h-3zm-132 3h3v3h-3zm132 0h3v3h-3zm-132 3h3v3h-3zm132 0h3v3h-3zm0 3h3v3h-3zm-135 3h3v3h-3zm135 0h3v3h-3zm-135 3h3v3h-3zm135 0h3v3h-3zm-135 3h3v3h-3zm135 0h3v3h-3zm192 0h3v3h-3zm-327 3h3v3h-3zm66 0h9v3h-9zm69 0h3v3h-3zm-138 3h3v3h-3zm63 0h21v3h-21zm75 0h3v3h-3zm189 0h3v3h-3zm-327 3h3v3h-3zm57 0h6v3h-6zm24 0h6v3h-6zm57 0h3v3h-3zm189 0h3v3h-3zm-330 3h3v3h-3zm54 0h6v3h-6zm33 0h3v3h-3zm54 0h3v3h-3zm-141 3h3v3h-3zm51 0h6v3h-6zm39 0h3v3h-3zm51 0h3v3h-3zm186 0h3v3h-3zm-330 3h3v3h-3zm51 0h6v3h-6zm42 0h3v3h-3zm51 0h3v3h-3zm186 0h3v3h-3zm-357 3h3v3h-3zm24 0h3v3h-3zm54 0h3v3h-3zm45 0h3v3h-3zm48 0h3v3h-3zm-168 3h3v3h-3zm15 0h6v3h-6zm57 0h3v3h-3zm48 0h3v3h-3zm48 0h3v3h-3zm-162 3h12v3h-12zm63 0h3v3h-3zm51 0h3v3h-3zm48 0h3v3h-3zm183 0h3v3h-3zm-282 3h3v3h-3zm54 0h3v3h-3zm45 0h3v3h-3zm183 0h3v3h-3zm-285 3h3v3h-3zm57 0h3v3h-3zm45 0h3v3h-3zm183 0h3v3h-3zm-285 3h3v3h-3zm57 0h3v3h-3zm45 0h3v3h-3zm-102 3h3v3h-3zm102 0h3v3h-3zm-102 3h3v3h-3zm60 0h3v3h-3zm42 0h3v3h-3zm-105 3h3v3h-3zm63 0h3v3h-3zm42 0h3v3h-3zm-105 3h3v3h-3zm63 0h3v3h-3zm42 0h3v3h-3zm-105 3h3v3h-3zm63 0h3v3h-3zm-63 3h3v3h-3zm0 3h3v3h-3zm0 3h3v3h-3zm0 3h3v3h-3zm66 0h3v3h-3zm-66 3h3v3h-3zm66 0h3v3h-3zm42 0h3v3h-3zm180 0h3v3h-3zm-291 3h3v3h-3zm69 0h3v3h-3zm42 0h3v3h-3zm180 0h3v3h-3zm-291 3h3v3h-3zm111 0h3v3h-3zm-111 3h3v3h-3zm72 0h3v3h-3zm39 0h3v3h-3zm-114 3h3v3h-3zm75 0h3v3h-3zm39 0h3v3h-3zm183 0h3v3h-3zm-297 3h3v3h-3zm114 0h3v3h-3zm183 0h3v3h-3zm-300 3h3v3h-3zm81 0h3v3h-3zm36 0h3v3h-3zm-120 3h6v3h-6zm87 0h3v3h-3zm33 0h3v3h-3zm-123 3h6v3h-6zm93 0h3v3h-3zm-96 3h6v3h-6zm99 0h3v3h-3zm24 0h3v3h-3zm189 0h3v3h-3zm-315 3h6v3h-6zm108 0h3v3h-3zm15 0h3v3h-3zm-126 3h6v3h-6zm117 0h6v3h-6zm-129 3h12v3h-12zm-18 3h21v3h-21zm-3 3h6v3h-6zm348 0h3v3h-3zm-348 3h3v3h-3zm-3 3h3v3h-3zm0 3h3v3h-3zm348 0h3v3h-3zm-348 3h3v3h-3zm0 3h3v3h-3zm345 0h3v3h-3zm-345 3h3v3h-3zm0 3h3v3h-3zm0 3h3v3h-3zm342 0h3v3h-3zm-342 3h3v3h-3zm342 0h3v3h-3zm-342 3h3v3h-3zm0 3h3v3h-3zm3 9h3v3h-3zm0 3h3v3h-3zm0 3h3v3h-3zm0 3h3v3h-3zm0 3h3v3h-3zm0 3h3v3h-3zm339 0h3v3h-3zm-339 3h3v3h-3zm339 0h3v3h-3zm-339 3h3v3h-3zm339 0h3v3h-3zm-339 3h3v3h-3zm339 0h3v3h-3zm-339 3h3v3h-3zm339 0h3v3h-3zm-339 3h3v3h-3zm339 0h3v3h-3zm-339 3h3v3h-3zm339 0h3v3h-3zm-339 3h3v3h-3zm339 0h3v3h-3zm-339 3h3v3h-3zm339 0h3v3h-3zm-339 3h3v3h-3zm339 0h3v3h-3zm-339 3h3v3h-3zm339 0h3v3h-3zm-339 3h3v3h-3zm339 0h3v3h-3zm-339 3h3v3h-3zm339 0h3v3h-3zm0 3h3v3h-3zm0 3h3v3h-3zm0 3h3v3h-3zm-339 3h3v3h-3zm339 0h3v3h-3zm-339 3h3v3h-3zm0 3h3v3h-3zm336 0h3v3h-3zm-336 3h3v3h-3zm336 0h3v3h-3zm-333 3h3v3h-3zm57 0h15v3h-15zm135 0h12v3h-12zm138 0h3v3h-3zm-327 3h3v3h-3zm42 0h9v3h-9zm30 0h6v3h-6zm111 0h3v3h-3zm21 0h3v3h-3zm120 0h3v3h-3zm-321 3h6v3h-6zm27 0h9v3h-9zm48 0h6v3h-6zm99 0h3v3h-3zm33 0h3v3h-3zm108 0h3v3h-3zm-309 3h18v3h-18zm78 0h3v3h-3zm81 0h3v3h-3zm48 0h3v3h-3zm81 0h15v3h-15zm-204 3h3v3h-3zm69 0h3v3h-3zm60 0h6v3h-6zm54 0h9v3h-9zm-174 3h3v3h-3zm48 0h6v3h-6zm81 0h6v3h-6zm33 0h6v3h-6z"/>
<path fill="#6882c6" d="M0 0m315 3h3v3h-3zm15 0h3v3h-3zm-21 3h3v3h-3zm33 3h3v3h-3zm-42 6h3v3h-3zm48 3h3v3h-3zm-54 9h3v3h-3zm60 3h3v3h-3zm-330 6h6v3h-6zm-3 3h12v3h-12zm270 0h3v3h-3zm66 0h3v3h-3zm-336 3h12v3h-12zm186 0h15v3h-15zm-189 3h15v3h-15zm180 0h6v3h-6zm27 0h6v3h-6zm-207 3h18v3h-18zm177 0h3v3h-3zm36 0h6v3h-6zm129 0h3v3h-3zm-345 3h21v3h-21zm174 0h3v3h-3zm48 0h6v3h-6zm51 0h3v3h-3zm-273 3h21v3h-21zm171 0h3v3h-3zm57 0h3v3h-3zm-231 3h9v3h-9zm15 0h12v3h-12zm156 0h3v3h-3zm-171 3h6v3h-6zm18 0h9v3h-9zm222 0h3v3h-3zm111 0h3v3h-3zm-354 3h6v3h-6zm24 0h9v3h-9zm147 0h3v3h-3zm75 0h3v3h-3zm-246 3h3v3h-3zm27 0h6v3h-6zm141 0h3v3h-3zm81 0h3v3h-3zm24 0h3v3h-3zm-276 3h3v3h-3zm30 0h9v3h-9zm141 0h3v3h-3zm84 0h3v3h-3zm18 0h3v3h-3zm-276 3h3v3h-3zm36 0h6v3h-6zm225 0h6v3h-6zm12 0h3v3h-3zm-273 3h3v3h-3zm36 0h6v3h-6zm135 0h3v3h-3zm96 0h6v3h-6zm-270 3h3v3h-3zm42 0h3v3h-3zm132 0h3v3h-3zm-132 3h3v3h-3zm0 3h3v3h-3zm0 3h3v3h-3zm-3 3h6v3h-6zm0 3h3v3h-3zm0 3h3v3h-3zm0 3h3v3h-3zm135 3h3v3h-3zm-138 3h3v3h-3zm138 0h3v3h-3zm-138 3h3v3h-3zm138 0h3v3h-3zm-138 3h3v3h-3zm138 0h3v3h-3zm-138 3h3v3h-3zm138 0h3v3h-3zm0 3h3v3h-3zm-141 3h3v3h-3zm141 0h3v3h-3zm189 0h3v3h-3zm-330 3h3v3h-3zm141 0h3v3h-3zm-141 3h3v3h-3zm141 0h3v3h-3zm186 0h3v3h-3zm-330 6h3v3h-3zm66 0h18v3h-18zm-69 3h3v3h-3zm63 0h6v3h-6zm21 0h6v3h-6zm246 0h3v3h-3zm-330 3h3v3h-3zm60 0h3v3h-3zm27 0h6v3h-6zm-114 3h3v3h-3zm24 0h3v3h-3zm60 0h3v3h-3zm33 0h3v3h-3zm-114 3h3v3h-3zm15 0h6v3h-6zm63 0h3v3h-3zm39 0h3v3h-3zm234 0h3v3h-3zm-348 3h12v3h-12zm72 0h3v3h-3zm42 0h3v3h-3zm234 0h3v3h-3zm-279 3h3v3h-3zm0 3h3v3h-3zm48 0h3v3h-3zm-51 3h3v3h-3zm51 0h3v3h-3zm-51 3h3v3h-3zm279 0h3v3h-3zm-279 3h3v3h-3zm54 0h3v3h-3zm225 0h3v3h-3zm-225 3h3v3h-3zm225 0h3v3h-3zm-282 3h3v3h-3zm57 0h3v3h-3zm225 0h3v3h-3zm-282 3h3v3h-3zm282 0h3v3h-3zm-282 3h3v3h-3zm282 0h3v3h-3zm-282 3h3v3h-3zm60 0h3v3h-3zm222 0h3v3h-3zm-282 3h3v3h-3zm60 0h3v3h-3zm45 0h3v3h-3zm177 0h3v3h-3zm-282 3h3v3h-3zm60 0h3v3h-3zm45 0h3v3h-3zm177 0h3v3h-3zm-282 3h3v3h-3zm60 0h3v3h-3zm45 0h3v3h-3zm177 0h3v3h-3zm-285 6h3v3h-3zm0 3h3v3h-3zm66 0h3v3h-3zm222 0h3v3h-3zm-288 3h3v3h-3zm66 0h3v3h-3zm222 0h3v3h-3zm-291 3h3v3h-3zm0 3h3v3h-3zm72 0h3v3h-3zm-75 3h3v3h-3zm297 0h3v3h-3zm-297 3h3v3h-3zm78 0h3v3h-3zm219 0h3v3h-3zm-300 3h3v3h-3zm84 0h3v3h-3zm33 0h3v3h-3zm-120 3h3v3h-3zm90 0h3v3h-3zm-93 3h3v3h-3zm99 0h3v3h-3zm21 0h3v3h-3zm-123 3h3v3h-3zm105 0h6v3h-6zm12 0h6v3h-6zm-123 3h6v3h-6zm315 0h3v3h-3zm-324 3h9v3h-9zm324 0h3v3h-3zm-342 3h18v3h-18zm-3 3h6v3h-6zm-3 3h6v3h-6zm345 0h3v3h-3zm-345 3h3v3h-3zm0 3h3v3h-3zm342 0h3v3h-3zm-342 3h3v3h-3zm339 6h3v3h-3zm-339 3h3v3h-3zm0 3h3v3h-3zm0 3h3v3h-3zm0 3h3v3h-3zm0 3h3v3h-3zm336 0h3v3h-3zm-336 3h3v3h-3zm336 0h3v3h-3zm0 3h3v3h-3zm0 3h3v3h-3zm-333 3h3v3h-3zm333 0h3v3h-3zm-333 3h3v3h-3zm333 0h3v3h-3zm-333 3h3v3h-3zm333 0h3v3h-3zm-333 3h3v3h-3zm0 3h3v3h-3zm0 3h3v3h-3zm0 3h3v3h-3zm0 3h3v3h-3zm0 3h3v3h-3zm0 3h3v3h-3zm0 3h3v3h-3zm0 3h3v3h-3zm0 3h3v3h-3zm-3 12h3v3h-3zm0 3h3v3h-3zm0 3h3v3h-3zm336 3h3v3h-3zm-333 3h3v3h-3zm333 0h3v3h-3zm-333 3h3v3h-3zm0 3h6v3h-6zm60 0h12v3h-12zm270 0h3v3h-3zm-327 3h3v3h-3zm42 0h12v3h-12zm27 0h9v3h-9zm117 0h3v3h-3zm15 0h3v3h-3zm123 0h3v3h-3zm-321 3h6v3h-6zm30 0h9v3h-9zm45 0h6v3h-6zm102 0h3v3h-3zm27 0h3v3h-3zm111 0h6v3h-6zm-309 3h21v3h-21zm75 0h3v3h-3zm87 0h6v3h-6zm42 0h3v3h-3zm96 0h9v3h-9zm-219 3h3v3h-3zm75 0h3v3h-3zm54 0h3v3h-3zm66 0h12v3h-12zm-189 3h6v3h-6zm60 0h6v3h-6zm72 0h3v3h-3zm45 0h3v3h-3zm-168 3h6v3h-6zm39 0h6v3h-6zm93 0h6v3h-6zm21 0h6v3h-6z"/>
<path fill="#6a87cb" d="M0 0m318 3h12v3h-12zm-6 3h3v3h-3zm24 0h3v3h-3zm-30 3h3v3h-3zm33 0h3v3h-3zm-36 3h3v3h-3zm42 3h3v3h-3zm-48 6h3v3h-3zm54 3h3v3h-3zm-57 6h3v3h-3zm-3 12h3v3h-3zm66 0h3v3h-3zm-153 3h21v3h-21zm-6 3h3v3h-3zm30 0h3v3h-3zm-36 3h3v3h-3zm42 0h3v3h-3zm126 0h3v3h-3zm-171 3h3v3h-3zm51 0h3v3h-3zm48 0h3v3h-3zm-267 3h6v3h-6zm165 0h3v3h-3zm60 0h3v3h-3zm-228 3h12v3h-12zm165 0h3v3h-3zm66 0h3v3h-3zm36 0h3v3h-3zm-270 3h18v3h-18zm237 0h3v3h-3zm111 0h3v3h-3zm-351 3h24v3h-24zm168 0h3v3h-3zm75 0h3v3h-3zm-246 3h6v3h-6zm18 0h9v3h-9zm231 0h3v3h-3zm24 0h3v3h-3zm-276 3h6v3h-6zm24 0h9v3h-9zm147 0h3v3h-3zm84 0h3v3h-3zm18 0h3v3h-3zm-273 3h3v3h-3zm27 0h6v3h-6zm231 0h6v3h-6zm12 0h3v3h-3zm-273 3h3v3h-3zm33 0h6v3h-6zm234 0h6v3h-6zm-270 3h3v3h-3zm36 0h6v3h-6zm138 0h3v3h-3zm-138 3h6v3h-6zm138 0h3v3h-3zm-138 3h6v3h-6zm138 0h3v3h-3zm-138 3h3v3h-3zm138 0h3v3h-3zm-138 3h3v3h-3zm138 0h3v3h-3zm-138 3h3v3h-3zm138 0h3v3h-3zm-138 3h3v3h-3zm138 0h3v3h-3zm-138 3h3v3h-3zm-3 9h3v3h-3zm0 3h3v3h-3zm330 0h3v3h-3zm-330 3h3v3h-3zm330 0h3v3h-3zm-3 6h3v3h-3zm-330 3h3v3h-3zm0 3h3v3h-3zm144 0h3v3h-3zm183 0h3v3h-3zm-330 3h3v3h-3zm147 0h3v3h-3zm183 0h3v3h-3zm-261 3h15v3h-15zm78 0h3v3h-3zm-150 3h3v3h-3zm66 0h9v3h-9zm18 0h6v3h-6zm66 0h3v3h-3zm180 0h3v3h-3zm-351 3h3v3h-3zm15 0h6v3h-6zm69 0h3v3h-3zm27 0h3v3h-3zm60 0h3v3h-3zm180 0h3v3h-3zm-348 3h12v3h-12zm78 0h3v3h-3zm33 0h3v3h-3zm57 0h3v3h-3zm-93 3h3v3h-3zm36 0h3v3h-3zm-39 3h3v3h-3zm42 0h3v3h-3zm231 0h3v3h-3zm-273 3h3v3h-3zm42 0h3v3h-3zm231 0h3v3h-3zm-276 3h3v3h-3zm276 0h3v3h-3zm-276 3h3v3h-3zm48 0h3v3h-3zm51 0h3v3h-3zm-51 3h3v3h-3zm51 0h3v3h-3zm-102 3h3v3h-3zm102 0h3v3h-3zm-102 3h3v3h-3zm102 0h3v3h-3zm-102 3h3v3h-3zm54 0h3v3h-3zm48 0h3v3h-3zm-102 3h3v3h-3zm54 0h3v3h-3zm48 0h3v3h-3zm-102 3h3v3h-3zm54 0h3v3h-3zm48 0h3v3h-3zm-102 3h3v3h-3zm0 3h3v3h-3zm-3 6h3v3h-3zm60 0h3v3h-3zm222 0h3v3h-3zm-282 3h3v3h-3zm60 0h3v3h-3zm222 0h3v3h-3zm-282 3h3v3h-3zm60 0h3v3h-3zm-60 3h3v3h-3zm108 0h3v3h-3zm-111 3h3v3h-3zm66 0h3v3h-3zm45 0h3v3h-3zm177 0h3v3h-3zm-288 3h3v3h-3zm66 0h3v3h-3zm45 0h3v3h-3zm-114 3h3v3h-3zm72 0h3v3h-3zm42 0h3v3h-3zm-114 3h3v3h-3zm-3 3h3v3h-3zm78 0h3v3h-3zm219 0h3v3h-3zm-300 3h3v3h-3zm84 0h3v3h-3zm33 0h3v3h-3zm183 0h3v3h-3zm-303 3h6v3h-6zm93 0h3v3h-3zm210 0h3v3h-3zm-306 3h6v3h-6zm99 0h3v3h-3zm21 0h3v3h-3zm186 0h3v3h-3zm-309 3h6v3h-6zm108 0h15v3h-15zm-114 3h6v3h-6zm-9 3h9v3h-9zm321 0h3v3h-3zm-336 3h18v3h-18zm336 0h3v3h-3zm-339 3h9v3h-9zm-3 3h6v3h-6zm339 0h3v3h-3zm-339 3h3v3h-3zm0 3h3v3h-3zm-3 3h6v3h-6zm339 0h3v3h-3zm-339 3h3v3h-3zm3 6h3v3h-3zm333 0h3v3h-3zm-333 3h3v3h-3zm333 0h3v3h-3zm-333 3h3v3h-3zm333 0h3v3h-3zm-333 3h3v3h-3zm0 3h3v3h-3zm0 3h3v3h-3zm0 3h3v3h-3zm3 9h3v3h-3zm0 3h3v3h-3zm330 0h3v3h-3zm-330 3h3v3h-3zm330 0h3v3h-3zm-330 3h3v3h-3zm330 0h3v3h-3zm-330 3h3v3h-3zm330 0h3v3h-3zm-330 3h3v3h-3zm330 0h3v3h-3zm-330 3h3v3h-3zm330 0h3v3h-3zm-330 3h3v3h-3zm330 0h3v3h-3zm-330 3h3v3h-3zm330 0h3v3h-3zm0 3h3v3h-3zm0 3h3v3h-3zm-333 3h3v3h-3zm333 0h3v3h-3zm-333 3h3v3h-3zm333 0h3v3h-3zm-333 3h3v3h-3zm333 0h3v3h-3zm-333 3h3v3h-3zm333 0h3v3h-3zm-333 3h3v3h-3zm333 0h3v3h-3zm-333 3h3v3h-3zm333 0h3v3h-3zm-333 3h3v3h-3zm3 3h3v3h-3zm327 0h3v3h-3zm-327 3h3v3h-3zm57 0h12v3h-12zm270 0h3v3h-3zm-324 3h3v3h-3zm42 0h12v3h-12zm24 0h6v3h-6zm120 0h15v3h-15zm135 0h3v3h-3zm-321 3h6v3h-6zm33 0h6v3h-6zm42 0h3v3h-3zm102 0h6v3h-6zm24 0h6v3h-6zm117 0h3v3h-3zm-312 3h24v3h-24zm75 0h3v3h-3zm90 0h6v3h-6zm36 0h3v3h-3zm105 0h3v3h-3zm-228 3h6v3h-6zm81 0h3v3h-3zm48 0h3v3h-3zm81 0h12v3h-12zm-204 3h6v3h-6zm69 0h3v3h-3zm60 0h3v3h-3zm57 0h6v3h-6zm-177 3h3v3h-3zm51 0h3v3h-3zm78 0h3v3h-3zm36 0h6v3h-6zm-156 3h9v3h-9zm24 0h9v3h-9zm108 0h15v3h-15z"/>
<path fill="#6b8bcf" d="M0 0m315 6h3v3h-3zm18 0h3v3h-3zm-24 3h3v3h-3zm33 3h3v3h-3zm-42 6h3v3h-3zm48 3h3v3h-3zm-51 3h3v3h-3zm54 3h3v3h-3zm-57 6h3v3h-3zm60 0h3v3h-3zm-63 12h3v3h-3zm-90 3h6v3h-6zm21 0h6v3h-6zm-27 3h3v3h-3zm36 0h3v3h-3zm-39 3h3v3h-3zm45 0h3v3h-3zm123 0h3v3h-3zm-171 3h3v3h-3zm54 0h3v3h-3zm-57 3h3v3h-3zm60 0h3v3h-3zm-63 3h3v3h-3zm66 0h3v3h-3zm36 0h3v3h-3zm-33 3h3v3h-3zm111 0h3v3h-3zm-348 3h12v3h-12zm165 0h3v3h-3zm75 0h3v3h-3zm-243 3h18v3h-18zm246 0h3v3h-3zm24 0h3v3h-3zm-273 3h6v3h-6zm15 0h9v3h-9zm153 0h3v3h-3zm84 0h3v3h-3zm18 0h3v3h-3zm-273 3h3v3h-3zm21 0h9v3h-9zm150 0h3v3h-3zm90 0h3v3h-3zm9 0h3v3h-3zm-273 3h3v3h-3zm27 0h6v3h-6zm-30 3h3v3h-3zm33 0h3v3h-3zm0 3h3v3h-3zm0 3h3v3h-3zm0 3h3v3h-3zm0 3h3v3h-3zm0 3h3v3h-3zm144 0h3v3h-3zm-144 3h3v3h-3zm144 0h3v3h-3zm-144 3h3v3h-3zm144 0h3v3h-3zm-144 3h3v3h-3zm144 0h3v3h-3zm0 3h3v3h-3zm186 0h3v3h-3zm-186 3h3v3h-3zm-147 3h3v3h-3zm147 0h3v3h-3zm-147 3h3v3h-3zm147 0h3v3h-3zm183 0h3v3h-3zm-330 3h3v3h-3zm147 0h3v3h-3zm-150 3h3v3h-3zm150 0h3v3h-3zm180 0h3v3h-3zm-330 3h3v3h-3zm150 0h3v3h-3zm-153 3h3v3h-3zm0 3h3v3h-3zm330 0h3v3h-3zm-354 3h3v3h-3zm18 0h6v3h-6zm81 0h9v3h-9zm-93 3h12v3h-12zm84 0h9v3h-9zm15 0h9v3h-9zm-18 3h6v3h-6zm24 0h6v3h-6zm240 0h3v3h-3zm-267 3h3v3h-3zm30 0h3v3h-3zm60 0h3v3h-3zm177 0h3v3h-3zm-270 3h3v3h-3zm36 0h3v3h-3zm57 0h3v3h-3zm-93 3h3v3h-3zm36 0h3v3h-3zm57 0h3v3h-3zm-96 3h3v3h-3zm42 0h3v3h-3zm54 0h3v3h-3zm-96 3h3v3h-3zm42 0h3v3h-3zm-45 3h3v3h-3zm273 0h3v3h-3zm-273 3h3v3h-3zm48 0h3v3h-3zm225 0h3v3h-3zm-273 3h3v3h-3zm48 0h3v3h-3zm225 0h3v3h-3zm-273 3h3v3h-3zm48 0h3v3h-3zm225 0h3v3h-3zm-273 3h3v3h-3zm273 0h3v3h-3zm0 3h3v3h-3zm-222 3h3v3h-3zm222 0h3v3h-3zm-222 3h3v3h-3zm222 0h3v3h-3zm-276 3h3v3h-3zm54 0h3v3h-3zm222 0h3v3h-3zm-276 3h3v3h-3zm54 0h3v3h-3zm51 0h3v3h-3zm-105 3h3v3h-3zm105 0h3v3h-3zm-105 3h3v3h-3zm105 0h3v3h-3zm174 0h3v3h-3zm-222 3h3v3h-3zm-60 3h3v3h-3zm60 0h3v3h-3zm-60 3h3v3h-3zm285 0h3v3h-3zm-288 3h3v3h-3zm66 0h3v3h-3zm222 0h3v3h-3zm-219 3h3v3h-3zm42 0h3v3h-3zm-114 3h3v3h-3zm114 0h3v3h-3zm-117 3h3v3h-3zm0 3h3v3h-3zm84 0h3v3h-3zm30 0h3v3h-3zm-117 3h3v3h-3zm90 0h3v3h-3zm-93 3h3v3h-3zm99 0h3v3h-3zm18 0h3v3h-3zm-123 3h6v3h-6zm111 0h9v3h-9zm195 0h3v3h-3zm-312 3h9v3h-9zm-6 3h9v3h-9zm-12 3h12v3h-12zm327 0h3v3h-3zm-333 3h9v3h-9zm-3 3h6v3h-6zm0 3h3v3h-3zm333 0h3v3h-3zm-333 3h3v3h-3zm-3 3h6v3h-6zm0 3h6v3h-6zm333 0h3v3h-3zm-330 3h3v3h-3zm0 3h3v3h-3zm0 3h3v3h-3zm0 3h3v3h-3zm0 3h3v3h-3zm0 3h3v3h-3zm0 3h3v3h-3zm0 3h3v3h-3zm0 3h3v3h-3zm0 30h3v3h-3zm0 3h3v3h-3zm0 3h3v3h-3zm0 3h3v3h-3zm0 3h3v3h-3zm0 3h3v3h-3zm0 3h3v3h-3zm0 3h3v3h-3zm327 0h3v3h-3zm-327 3h3v3h-3zm327 0h3v3h-3zm-324 3h3v3h-3zm57 0h9v3h-9zm-57 3h3v3h-3zm45 0h9v3h-9zm21 0h6v3h-6zm123 0h6v3h-6zm132 0h3v3h-3zm-318 3h3v3h-3zm30 0h9v3h-9zm39 0h6v3h-6zm108 0h6v3h-6zm21 0h3v3h-3zm117 0h3v3h-3zm-312 3h27v3h-27zm72 0h3v3h-3zm96 0h3v3h-3zm141 0h3v3h-3zm-231 3h3v3h-3zm84 0h3v3h-3zm42 0h3v3h-3zm96 0h6v3h-6zm-216 3h3v3h-3zm72 0h3v3h-3zm54 0h3v3h-3zm69 0h9v3h-9zm-189 3h3v3h-3zm60 0h3v3h-3zm66 0h3v3h-3zm51 0h3v3h-3zm-171 3h6v3h-6zm42 0h6v3h-6zm87 0h3v3h-3zm30 0h3v3h-3zm-144 3h15v3h-15z"/>
<path fill="#6c90d3" d="M0 0m318 6h3v3h-3zm9 0h6v3h-6zm9 3h3v3h-3zm-30 3h3v3h-3zm-3 3h3v3h-3zm42 3h3v3h-3zm-48 9h3v3h-3zm-3 9h3v3h-3zm60 0h3v3h-3zm3 9h3v3h-3zm-150 3h15v3h-15zm84 0h3v3h-3zm-93 3h6v3h-6zm27 0h6v3h-6zm-30 3h3v3h-3zm39 0h3v3h-3zm6 3h3v3h-3zm48 0h3v3h-3zm72 0h3v3h-3zm-117 3h3v3h-3zm-57 3h3v3h-3zm60 0h3v3h-3zm-63 3h3v3h-3zm102 0h3v3h-3zm78 3h3v3h-3zm-183 3h3v3h-3zm-165 3h9v3h-9zm267 0h3v3h-3zm-273 3h18v3h-18zm255 0h3v3h-3zm15 0h3v3h-3zm-273 3h6v3h-6zm18 0h6v3h-6zm153 0h3v3h-3zm90 0h12v3h-12zm-264 3h3v3h-3zm24 0h6v3h-6zm150 0h3v3h-3zm96 0h3v3h-3zm-273 3h3v3h-3zm27 0h6v3h-6zm150 0h3v3h-3zm-147 3h3v3h-3zm147 0h3v3h-3zm-147 3h3v3h-3zm147 0h3v3h-3zm-147 3h3v3h-3zm147 0h3v3h-3zm-147 3h3v3h-3zm0 3h3v3h-3zm0 3h3v3h-3zm0 3h3v3h-3zm333 0h3v3h-3zm-333 3h3v3h-3zm0 3h3v3h-3zm150 0h3v3h-3zm180 3h3v3h-3zm-333 6h3v3h-3zm330 0h3v3h-3zm-333 6h3v3h-3zm153 3h3v3h-3zm177 0h3v3h-3zm-354 3h3v3h-3zm21 0h3v3h-3zm156 0h3v3h-3zm-174 3h3v3h-3zm12 0h3v3h-3zm162 0h3v3h-3zm174 0h3v3h-3zm-252 3h6v3h-6zm78 0h3v3h-3zm174 0h3v3h-3zm-258 3h6v3h-6zm9 0h9v3h-9zm-15 3h6v3h-6zm24 0h3v3h-3zm-27 3h6v3h-6zm30 0h3v3h-3zm-30 3h3v3h-3zm30 0h3v3h-3zm234 0h3v3h-3zm-267 3h3v3h-3zm36 0h3v3h-3zm231 0h3v3h-3zm-267 3h3v3h-3zm267 0h3v3h-3zm-270 3h3v3h-3zm42 0h3v3h-3zm-42 3h3v3h-3zm42 0h3v3h-3zm-42 3h3v3h-3zm45 6h3v3h-3zm-48 3h3v3h-3zm48 0h3v3h-3zm-48 3h3v3h-3zm48 0h3v3h-3zm54 0h3v3h-3zm-102 3h3v3h-3zm102 0h3v3h-3zm-102 3h3v3h-3zm102 0h3v3h-3zm-102 3h3v3h-3zm273 0h3v3h-3zm-273 3h3v3h-3zm51 0h3v3h-3zm222 0h3v3h-3zm-222 3h3v3h-3zm-54 3h3v3h-3zm54 0h3v3h-3zm225 0h3v3h-3zm-279 3h3v3h-3zm279 0h3v3h-3zm-222 3h3v3h-3zm-60 3h3v3h-3zm-3 3h3v3h-3zm66 0h3v3h-3zm222 0h3v3h-3zm-288 3h3v3h-3zm69 0h3v3h-3zm219 0h3v3h-3zm-291 3h3v3h-3zm75 0h3v3h-3zm39 0h3v3h-3zm177 0h3v3h-3zm-291 3h3v3h-3zm78 0h3v3h-3zm36 0h3v3h-3zm177 0h3v3h-3zm-294 3h3v3h-3zm84 0h3v3h-3zm30 0h3v3h-3zm180 0h3v3h-3zm-297 3h3v3h-3zm93 0h3v3h-3zm204 0h3v3h-3zm-300 3h3v3h-3zm102 0h3v3h-3zm12 0h3v3h-3zm-117 3h3v3h-3zm-6 3h6v3h-6zm306 0h3v3h-3zm-315 3h9v3h-9zm-9 3h9v3h-9zm-6 3h9v3h-9zm327 0h3v3h-3zm-330 3h6v3h-6zm0 3h3v3h-3zm327 0h3v3h-3zm-327 3h3v3h-3zm327 0h3v3h-3zm-327 3h3v3h-3zm0 3h3v3h-3zm0 3h3v3h-3zm324 0h3v3h-3zm-324 3h3v3h-3zm324 0h3v3h-3zm-324 3h3v3h-3zm324 0h3v3h-3zm-324 3h3v3h-3zm324 0h3v3h-3zm-324 3h3v3h-3zm324 0h3v3h-3zm-324 3h3v3h-3zm324 0h3v3h-3zm-324 3h3v3h-3zm324 0h3v3h-3zm-324 3h3v3h-3zm324 0h3v3h-3zm-324 3h3v3h-3zm324 0h3v3h-3zm-324 3h3v3h-3zm324 0h3v3h-3zm-324 3h3v3h-3zm324 0h3v3h-3zm-324 3h3v3h-3zm324 0h3v3h-3zm-324 3h3v3h-3zm324 0h3v3h-3zm-324 3h3v3h-3zm324 0h3v3h-3zm-324 3h3v3h-3zm324 0h3v3h-3zm-324 3h3v3h-3zm324 0h3v3h-3zm-324 3h3v3h-3zm324 0h3v3h-3zm-324 3h3v3h-3zm324 0h3v3h-3zm-324 3h3v3h-3zm324 0h3v3h-3zm-324 3h3v3h-3zm324 0h3v3h-3zm-324 3h3v3h-3zm324 0h3v3h-3zm-324 3h3v3h-3zm324 0h3v3h-3zm-324 3h3v3h-3zm324 0h3v3h-3zm-324 3h3v3h-3zm324 0h3v3h-3zm-324 3h3v3h-3zm0 3h3v3h-3zm57 0h9v3h-9zm264 0h3v3h-3zm-318 3h3v3h-3zm42 0h12v3h-12zm21 0h6v3h-6zm255 0h3v3h-3zm-318 3h6v3h-6zm33 0h9v3h-9zm36 0h6v3h-6zm111 0h6v3h-6zm12 0h6v3h-6zm123 0h3v3h-3zm-312 3h9v3h-9zm18 0h9v3h-9zm54 0h3v3h-3zm99 0h3v3h-3zm27 0h3v3h-3zm111 0h3v3h-3zm-234 3h6v3h-6zm90 0h3v3h-3zm36 0h3v3h-3zm102 0h6v3h-6zm-222 3h3v3h-3zm126 0h3v3h-3zm81 0h12v3h-12zm-201 3h3v3h-3zm66 0h3v3h-3zm60 0h3v3h-3zm60 0h6v3h-6zm-180 3h3v3h-3zm51 0h6v3h-6zm75 0h3v3h-3zm42 0h6v3h-6zm-159 3h6v3h-6zm30 0h6v3h-6zm96 0h6v3h-6zm21 0h6v3h-6z"/>
<path fill="#6b97d7" d="M0 0m321 6h6v3h-6zm-9 3h3v3h-3zm21 0h3v3h-3zm6 3h3v3h-3zm3 3h3v3h-3zm-42 6h3v3h-3zm48 3h3v3h-3zm3 6h3v3h-3zm-57 9h3v3h-3zm63 9h3v3h-3zm-153 3h6v3h-6zm12 0h9v3h-9zm75 0h3v3h-3zm-93 3h3v3h-3zm30 0h6v3h-6zm-36 3h3v3h-3zm42 0h6v3h-6zm-45 3h3v3h-3zm51 0h3v3h-3zm48 0h3v3h-3zm72 0h3v3h-3zm-111 6h3v3h-3zm-66 3h3v3h-3zm69 0h3v3h-3zm33 0h3v3h-3zm-30 3h3v3h-3zm108 0h3v3h-3zm-183 3h3v3h-3zm78 0h3v3h-3zm105 0h3v3h-3zm-183 3h3v3h-3zm81 0h3v3h-3zm21 0h3v3h-3zm-270 3h12v3h-12zm168 0h3v3h-3zm84 0h3v3h-3zm15 0h3v3h-3zm-273 3h6v3h-6zm15 0h6v3h-6zm246 0h6v3h-6zm9 0h3v3h-3zm-273 3h3v3h-3zm21 0h3v3h-3zm249 0h3v3h-3zm-273 3h3v3h-3zm27 0h3v3h-3zm0 3h3v3h-3zm0 3h3v3h-3zm153 0h3v3h-3zm-153 3h3v3h-3zm153 0h3v3h-3zm-153 3h3v3h-3zm153 0h3v3h-3zm183 0h3v3h-3zm-183 3h3v3h-3zm183 0h3v3h-3zm-183 3h3v3h-3zm-153 3h3v3h-3zm153 0h3v3h-3zm-153 3h3v3h-3zm333 0h3v3h-3zm-333 3h3v3h-3zm153 0h3v3h-3zm-153 3h3v3h-3zm153 0h3v3h-3zm177 0h3v3h-3zm-177 3h3v3h-3zm-156 3h3v3h-3zm156 0h3v3h-3zm-159 3h3v3h-3zm159 0h3v3h-3zm174 0h3v3h-3zm-354 3h3v3h-3zm21 0h3v3h-3zm-18 3h3v3h-3zm12 0h6v3h-6zm336 0h3v3h-3zm-345 3h9v3h-9zm93 6h3v3h-3zm78 0h3v3h-3zm-84 3h18v3h-18zm84 0h3v3h-3zm171 0h3v3h-3zm-258 3h3v3h-3zm18 0h6v3h-6zm69 0h3v3h-3zm171 0h3v3h-3zm-261 3h3v3h-3zm24 0h3v3h-3zm66 0h3v3h-3zm-93 3h3v3h-3zm30 0h3v3h-3zm63 0h3v3h-3zm-60 3h3v3h-3zm60 0h3v3h-3zm-96 3h3v3h-3zm36 0h3v3h-3zm60 0h3v3h-3zm-96 3h3v3h-3zm96 0h3v3h-3zm168 0h3v3h-3zm-225 3h3v3h-3zm57 0h3v3h-3zm168 0h3v3h-3zm-267 3h3v3h-3zm42 0h3v3h-3zm57 0h3v3h-3zm168 0h3v3h-3zm-267 3h3v3h-3zm42 0h3v3h-3zm57 0h3v3h-3zm168 0h3v3h-3zm-267 3h3v3h-3zm99 0h3v3h-3zm168 0h3v3h-3zm-267 3h3v3h-3zm267 0h3v3h-3zm-267 3h3v3h-3zm45 0h3v3h-3zm222 0h3v3h-3zm-267 3h3v3h-3zm45 0h3v3h-3zm222 0h3v3h-3zm-222 3h3v3h-3zm0 3h3v3h-3zm-48 3h3v3h-3zm273 0h3v3h-3zm-273 3h3v3h-3zm105 0h3v3h-3zm-54 3h3v3h-3zm54 0h3v3h-3zm-108 3h3v3h-3zm54 0h3v3h-3zm54 0h3v3h-3zm171 0h3v3h-3zm-279 3h3v3h-3zm57 0h3v3h-3zm51 0h3v3h-3zm-111 3h3v3h-3zm111 0h3v3h-3zm-111 3h3v3h-3zm63 0h3v3h-3zm48 0h3v3h-3zm-114 3h3v3h-3zm69 0h3v3h-3zm3 3h3v3h-3zm-75 3h3v3h-3zm78 0h3v3h-3zm36 0h3v3h-3zm-117 3h3v3h-3zm87 0h3v3h-3zm27 0h3v3h-3zm-117 3h6v3h-6zm93 0h6v3h-6zm21 0h3v3h-3zm-117 3h6v3h-6zm102 0h15v3h-15zm195 0h3v3h-3zm-300 3h6v3h-6zm-6 3h6v3h-6zm-9 3h9v3h-9zm312 0h3v3h-3zm-318 3h9v3h-9zm-6 3h9v3h-9zm321 0h3v3h-3zm-324 3h6v3h-6zm0 3h6v3h-6zm0 3h3v3h-3zm0 3h3v3h-3zm321 0h3v3h-3zm-321 3h3v3h-3zm0 3h3v3h-3zm0 3h3v3h-3zm0 3h3v3h-3zm0 3h3v3h-3zm0 3h3v3h-3zm0 3h3v3h-3zm0 3h3v3h-3zm0 3h3v3h-3zm0 3h3v3h-3zm0 3h3v3h-3zm0 3h3v3h-3zm0 3h3v3h-3zm0 3h3v3h-3zm318 0h3v3h-3zm-318 3h3v3h-3zm318 0h3v3h-3zm-318 3h3v3h-3zm318 0h3v3h-3zm-318 3h3v3h-3zm0 3h3v3h-3zm0 3h3v3h-3zm0 3h3v3h-3zm0 3h3v3h-3zm0 3h3v3h-3zm0 3h3v3h-3zm0 3h3v3h-3zm318 0h3v3h-3zm-318 3h3v3h-3zm51 0h15v3h-15zm267 0h3v3h-3zm-318 3h6v3h-6zm42 0h12v3h-12zm21 0h9v3h-9zm-60 3h3v3h-3zm33 0h6v3h-6zm33 0h6v3h-6zm114 0h12v3h-12zm132 0h3v3h-3zm-309 3h9v3h-9zm18 0h9v3h-9zm51 0h3v3h-3zm102 0h3v3h-3zm21 0h3v3h-3zm114 0h3v3h-3zm-300 3h9v3h-9zm66 0h3v3h-3zm93 0h3v3h-3zm138 0h3v3h-3zm-225 3h3v3h-3zm123 0h3v3h-3zm93 0h6v3h-6zm-213 3h3v3h-3zm75 0h3v3h-3zm120 0h9v3h-9zm-189 3h3v3h-3zm60 0h3v3h-3zm117 0h6v3h-6zm-171 3h3v3h-3zm45 0h3v3h-3zm81 0h3v3h-3zm36 0h3v3h-3zm-150 3h24v3h-24zm126 0h15v3h-15z"/>
<path fill="#6a9fdb" d="M0 0m315 9h3v3h-3zm-6 3h3v3h-3zm-3 3h3v3h-3zm-3 3h3v3h-3zm-3 6h3v3h-3zm-3 6h3v3h-3zm57 9h3v3h-3zm-60 3h3v3h-3zm-84 9h6v3h-6zm147 0h3v3h-3zm-156 3h3v3h-3zm21 0h6v3h-6zm69 0h3v3h-3zm-96 3h3v3h-3zm36 0h3v3h-3zm-39 3h3v3h-3zm45 0h3v3h-3zm-48 3h3v3h-3zm54 0h3v3h-3zm45 0h3v3h-3zm72 0h3v3h-3zm-174 3h3v3h-3zm60 0h3v3h-3zm3 3h3v3h-3zm-66 3h3v3h-3zm69 0h3v3h-3zm33 0h3v3h-3zm-102 3h3v3h-3zm72 0h3v3h-3zm3 3h3v3h-3zm105 0h3v3h-3zm-102 3h3v3h-3zm21 0h3v3h-3zm81 0h3v3h-3zm-351 3h9v3h-9zm168 0h3v3h-3zm84 0h3v3h-3zm15 0h3v3h-3zm84 0h3v3h-3zm-357 3h6v3h-6zm12 0h6v3h-6zm162 0h3v3h-3zm87 0h6v3h-6zm9 0h6v3h-6zm-273 3h3v3h-3zm18 0h6v3h-6zm159 0h3v3h-3zm90 0h9v3h-9zm-270 3h3v3h-3zm24 0h3v3h-3zm156 0h3v3h-3zm183 0h3v3h-3zm-339 3h3v3h-3zm339 0h3v3h-3zm0 3h3v3h-3zm-336 6h3v3h-3zm0 3h3v3h-3zm156 0h3v3h-3zm0 3h3v3h-3zm177 0h3v3h-3zm-177 3h3v3h-3zm0 3h3v3h-3zm174 0h3v3h-3zm-333 3h3v3h-3zm0 3h3v3h-3zm-3 3h3v3h-3zm333 0h3v3h-3zm-336 6h3v3h-3zm162 0h3v3h-3zm171 0h3v3h-3zm-345 3h9v3h-9zm174 0h3v3h-3zm0 3h3v3h-3zm168 3h3v3h-3zm0 3h3v3h-3zm-255 6h15v3h-15zm-3 3h3v3h-3zm18 0h3v3h-3zm-21 3h3v3h-3zm24 0h3v3h-3zm234 0h3v3h-3zm-261 3h3v3h-3zm30 0h3v3h-3zm231 0h3v3h-3zm-261 3h3v3h-3zm30 0h3v3h-3zm231 0h3v3h-3zm-228 3h3v3h-3zm-36 3h3v3h-3zm36 0h3v3h-3zm-36 3h3v3h-3zm0 3h3v3h-3zm0 3h3v3h-3zm39 0h3v3h-3zm0 3h3v3h-3zm0 3h3v3h-3zm0 3h3v3h-3zm-42 3h3v3h-3zm267 0h3v3h-3zm-267 3h3v3h-3zm102 0h3v3h-3zm-102 3h3v3h-3zm45 0h3v3h-3zm57 0h3v3h-3zm-102 3h3v3h-3zm45 0h3v3h-3zm225 0h3v3h-3zm-273 3h3v3h-3zm48 0h3v3h-3zm-48 3h3v3h-3zm51 3h3v3h-3zm225 0h3v3h-3zm-279 3h3v3h-3zm57 0h3v3h-3zm222 0h3v3h-3zm-282 6h3v3h-3zm63 0h3v3h-3zm48 0h3v3h-3zm-114 3h3v3h-3zm69 0h3v3h-3zm45 0h3v3h-3zm-114 3h3v3h-3zm-3 3h3v3h-3zm81 0h3v3h-3zm33 0h3v3h-3zm174 0h3v3h-3zm-288 3h3v3h-3zm84 0h3v3h-3zm27 0h3v3h-3zm177 0h3v3h-3zm-291 3h3v3h-3zm93 0h3v3h-3zm18 0h3v3h-3zm-114 3h3v3h-3zm102 0h12v3h-12zm-108 3h6v3h-6zm297 0h3v3h-3zm-303 3h9v3h-9zm-6 3h9v3h-9zm-6 3h6v3h-6zm-6 3h9v3h-9zm0 3h3v3h-3zm315 0h3v3h-3zm-318 3h6v3h-6zm318 0h3v3h-3zm-318 3h3v3h-3zm0 3h3v3h-3zm0 3h3v3h-3zm0 3h3v3h-3zm315 0h3v3h-3zm-315 3h3v3h-3zm315 0h3v3h-3zm-315 3h3v3h-3zm315 0h3v3h-3zm-315 3h3v3h-3zm315 0h3v3h-3zm-315 3h3v3h-3zm315 0h3v3h-3zm-315 3h3v3h-3zm315 0h3v3h-3zm-315 3h3v3h-3zm315 0h3v3h-3zm-315 3h3v3h-3zm315 0h3v3h-3zm-315 3h3v3h-3zm315 0h3v3h-3zm-315 3h3v3h-3zm315 0h3v3h-3zm-315 3h3v3h-3zm315 0h3v3h-3zm-315 3h3v3h-3zm0 3h3v3h-3zm0 3h3v3h-3zm0 3h3v3h-3zm315 0h3v3h-3zm-315 3h3v3h-3zm315 0h3v3h-3zm-315 3h3v3h-3zm315 0h3v3h-3zm-315 3h3v3h-3zm315 0h3v3h-3zm-315 3h3v3h-3zm315 0h3v3h-3zm-315 3h3v3h-3zm315 0h3v3h-3zm-315 3h3v3h-3zm51 0h12v3h-12zm264 0h3v3h-3zm-315 3h3v3h-3zm45 0h21v3h-21zm-45 3h3v3h-3zm39 0h9v3h-9zm24 0h6v3h-6zm249 0h3v3h-3zm-309 3h3v3h-3zm30 0h6v3h-6zm36 0h3v3h-3zm111 0h9v3h-9zm132 0h3v3h-3zm-309 3h9v3h-9zm18 0h12v3h-12zm51 0h3v3h-3zm102 0h6v3h-6zm18 0h3v3h-3zm117 0h3v3h-3zm-297 3h9v3h-9zm63 0h3v3h-3zm96 0h3v3h-3zm27 0h3v3h-3zm108 0h3v3h-3zm-228 3h3v3h-3zm87 0h3v3h-3zm36 0h3v3h-3zm99 0h6v3h-6zm-138 3h3v3h-3zm126 0h9v3h-9zm-201 3h3v3h-3zm69 0h3v3h-3zm54 0h3v3h-3zm66 0h3v3h-3zm-183 3h3v3h-3zm54 0h3v3h-3zm69 0h3v3h-3zm48 0h3v3h-3zm-165 3h6v3h-6zm36 0h6v3h-6zm90 0h3v3h-3zm30 0h3v3h-3z"/>
<path fill="#69a7de" d="M0 0m318 9h3v3h-3zm9 0h6v3h-6zm9 3h3v3h-3zm3 3h3v3h-3zm3 3h3v3h-3zm3 3h3v3h-3zm3 6h3v3h-3zm-51 6h3v3h-3zm54 0h3v3h-3zm3 9h3v3h-3zm-60 3h3v3h-3zm-90 9h18v3h-18zm153 0h3v3h-3zm-159 3h3v3h-3zm30 0h3v3h-3zm63 0h3v3h-3zm-96 3h3v3h-3zm39 0h3v3h-3zm-42 3h3v3h-3zm48 0h3v3h-3zm-51 3h3v3h-3zm54 0h3v3h-3zm45 0h3v3h-3zm72 0h3v3h-3zm-174 3h3v3h-3zm60 0h3v3h-3zm-60 3h3v3h-3zm63 0h3v3h-3zm3 3h3v3h-3zm33 0h3v3h-3zm-102 3h3v3h-3zm72 0h3v3h-3zm30 0h3v3h-3zm-102 3h3v3h-3zm75 0h3v3h-3zm3 3h3v3h-3zm21 0h3v3h-3zm-270 3h6v3h-6zm252 0h3v3h-3zm99 0h3v3h-3zm-357 3h15v3h-15zm261 0h3v3h-3zm12 0h3v3h-3zm84 0h3v3h-3zm-360 3h3v3h-3zm18 0h3v3h-3zm249 0h9v3h-9zm-270 3h3v3h-3zm21 0h3v3h-3zm162 0h3v3h-3zm-159 3h3v3h-3zm159 0h3v3h-3zm-159 3h3v3h-3zm159 0h3v3h-3zm-159 3h3v3h-3zm159 0h3v3h-3zm177 0h3v3h-3zm-336 3h3v3h-3zm336 0h3v3h-3zm-336 3h3v3h-3zm0 3h3v3h-3zm333 0h3v3h-3zm-333 3h3v3h-3zm159 3h3v3h-3zm-162 3h3v3h-3zm162 0h3v3h-3zm171 0h3v3h-3zm-171 3h3v3h-3zm-183 3h3v3h-3zm18 0h3v3h-3zm333 0h3v3h-3zm-348 3h3v3h-3zm9 0h6v3h-6zm336 3h3v3h-3zm0 3h3v3h-3zm-168 3h3v3h-3zm0 3h3v3h-3zm0 3h3v3h-3zm165 0h3v3h-3zm-165 3h3v3h-3zm165 0h3v3h-3zm-252 3h15v3h-15zm252 0h3v3h-3zm-255 3h6v3h-6zm18 0h3v3h-3zm-21 3h3v3h-3zm24 0h3v3h-3zm-24 3h3v3h-3zm24 0h3v3h-3zm-27 3h3v3h-3zm30 0h3v3h-3zm-30 3h3v3h-3zm30 0h3v3h-3zm-30 3h3v3h-3zm33 0h3v3h-3zm225 0h3v3h-3zm-225 3h3v3h-3zm225 0h3v3h-3zm-225 3h3v3h-3zm225 0h3v3h-3zm-261 3h3v3h-3zm261 0h3v3h-3zm-261 3h3v3h-3zm99 0h3v3h-3zm162 0h3v3h-3zm-261 3h3v3h-3zm99 0h3v3h-3zm-99 3h3v3h-3zm39 0h3v3h-3zm60 0h3v3h-3zm-99 3h3v3h-3zm39 0h3v3h-3zm225 0h3v3h-3zm-264 3h3v3h-3zm39 0h3v3h-3zm225 0h3v3h-3zm-267 6h3v3h-3zm270 0h3v3h-3zm-270 3h3v3h-3zm45 0h3v3h-3zm225 0h3v3h-3zm-273 3h3v3h-3zm0 3h3v3h-3zm51 0h3v3h-3zm-54 3h3v3h-3zm57 0h3v3h-3zm222 0h3v3h-3zm-279 3h3v3h-3zm279 0h3v3h-3zm-282 3h3v3h-3zm282 0h3v3h-3zm-282 3h3v3h-3zm69 0h3v3h-3zm42 0h3v3h-3zm171 0h3v3h-3zm-285 3h3v3h-3zm75 0h3v3h-3zm-75 3h3v3h-3zm78 0h3v3h-3zm33 0h3v3h-3zm-114 3h3v3h-3zm87 0h3v3h-3zm24 0h3v3h-3zm-114 3h3v3h-3zm93 0h6v3h-6zm18 0h3v3h-3zm177 0h3v3h-3zm-291 3h6v3h-6zm102 0h9v3h-9zm-105 3h6v3h-6zm-6 3h6v3h-6zm297 0h3v3h-3zm-306 3h9v3h-9zm-3 3h6v3h-6zm306 0h3v3h-3zm-312 3h6v3h-6zm0 3h3v3h-3zm-3 3h6v3h-6zm0 3h3v3h-3zm312 0h3v3h-3zm-312 3h3v3h-3zm312 0h3v3h-3zm-312 3h3v3h-3zm0 3h3v3h-3zm0 3h3v3h-3zm0 3h3v3h-3zm51 0h3v3h-3zm-51 3h3v3h-3zm48 0h12v3h-12zm-48 3h3v3h-3zm48 0h15v3h-15zm-48 3h3v3h-3zm48 0h18v3h-18zm-48 3h3v3h-3zm48 0h18v3h-18zm-48 3h3v3h-3zm48 0h18v3h-18zm-48 3h3v3h-3zm48 0h18v3h-18zm-48 3h3v3h-3zm48 0h18v3h-18zm261 0h3v3h-3zm-309 3h3v3h-3zm51 0h15v3h-15zm258 0h3v3h-3zm-309 3h3v3h-3zm51 0h15v3h-15zm258 0h3v3h-3zm-309 3h3v3h-3zm51 0h12v3h-12zm258 0h3v3h-3zm-309 3h3v3h-3zm54 0h9v3h-9zm255 0h3v3h-3zm-309 3h3v3h-3zm54 0h9v3h-9zm255 0h3v3h-3zm-309 3h3v3h-3zm51 0h12v3h-12zm-51 3h3v3h-3zm51 0h12v3h-12zm-51 3h3v3h-3zm48 0h15v3h-15zm-48 3h3v3h-3zm45 0h21v3h-21zm264 0h3v3h-3zm-309 3h3v3h-3zm42 0h6v3h-6zm18 0h6v3h-6zm249 0h3v3h-3zm-309 3h3v3h-3zm36 0h6v3h-6zm27 0h6v3h-6zm246 0h3v3h-3zm-309 3h6v3h-6zm30 0h6v3h-6zm36 0h3v3h-3zm114 0h6v3h-6zm-177 3h9v3h-9zm15 0h12v3h-12zm51 0h3v3h-3zm105 0h3v3h-3zm12 0h6v3h-6zm120 0h3v3h-3zm-297 3h9v3h-9zm63 0h3v3h-3zm120 0h3v3h-3zm111 0h3v3h-3zm-228 3h3v3h-3zm90 0h3v3h-3zm135 0h3v3h-3zm-222 3h3v3h-3zm123 0h3v3h-3zm93 0h3v3h-3zm-213 3h3v3h-3zm75 0h3v3h-3zm48 0h3v3h-3zm75 0h6v3h-6zm-192 3h3v3h-3zm63 0h3v3h-3zm60 0h3v3h-3zm57 0h6v3h-6zm-174 3h3v3h-3zm48 0h3v3h-3zm75 0h3v3h-3zm42 0h3v3h-3zm-156 3h6v3h-6zm24 0h6v3h-6zm99 0h3v3h-3zm21 0h6v3h-6z"/>
<path fill="#68aee2" d="M0 0m321 9h6v3h-6zm-9 3h3v3h-3zm21 0h3v3h-3zm-24 3h3v3h-3zm-3 3h3v3h-3zm-3 3h3v3h-3zm-3 6h3v3h-3zm-3 9h3v3h-3zm57 9h3v3h-3zm-60 3h3v3h-3zm-93 9h6v3h-6zm21 0h6v3h-6zm135 0h3v3h-3zm-159 3h3v3h-3zm33 0h3v3h-3zm60 0h3v3h-3zm-54 3h3v3h-3zm3 3h3v3h-3zm-51 3h3v3h-3zm99 0h3v3h-3zm72 0h3v3h-3zm0 3h3v3h-3zm-174 3h3v3h-3zm69 6h3v3h-3zm30 0h3v3h-3zm-102 3h3v3h-3zm75 0h3v3h-3zm-75 3h3v3h-3zm78 0h3v3h-3zm21 0h3v3h-3zm-99 3h3v3h-3zm81 0h3v3h-3zm18 0h3v3h-3zm-276 3h3v3h-3zm6 0h9v3h-9zm171 0h3v3h-3zm84 0h3v3h-3zm12 0h3v3h-3zm-276 3h3v3h-3zm15 0h3v3h-3zm252 0h12v3h-12zm-270 3h3v3h-3zm21 0h3v3h-3zm252 0h6v3h-6zm-252 3h3v3h-3zm339 0h3v3h-3zm-339 3h3v3h-3zm165 3h3v3h-3zm0 3h3v3h-3zm171 0h3v3h-3zm-336 3h3v3h-3zm165 0h3v3h-3zm-165 3h3v3h-3zm165 0h3v3h-3zm-165 3h3v3h-3zm333 0h3v3h-3zm-336 3h3v3h-3zm-18 3h3v3h-3zm18 0h3v3h-3zm333 0h3v3h-3zm-336 3h3v3h-3zm168 0h3v3h-3zm-177 3h6v3h-6zm177 0h3v3h-3zm165 0h3v3h-3zm-165 3h3v3h-3zm162 6h3v3h-3zm0 3h3v3h-3zm-165 9h3v3h-3zm-84 3h12v3h-12zm84 0h3v3h-3zm-90 3h6v3h-6zm15 0h6v3h-6zm75 0h3v3h-3zm162 0h3v3h-3zm-252 3h3v3h-3zm18 0h3v3h-3zm72 0h3v3h-3zm162 0h3v3h-3zm-255 3h3v3h-3zm24 0h3v3h-3zm69 0h3v3h-3zm162 0h3v3h-3zm-255 3h3v3h-3zm93 0h3v3h-3zm162 0h3v3h-3zm-228 3h3v3h-3zm66 0h3v3h-3zm-96 3h3v3h-3zm30 0h3v3h-3zm66 0h3v3h-3zm-96 3h3v3h-3zm96 0h3v3h-3zm-96 3h3v3h-3zm33 0h3v3h-3zm63 0h3v3h-3zm-96 3h3v3h-3zm33 0h3v3h-3zm-33 3h3v3h-3zm33 0h3v3h-3zm225 0h3v3h-3zm-258 3h3v3h-3zm33 0h3v3h-3zm225 0h3v3h-3zm-225 3h3v3h-3zm-36 6h3v3h-3zm39 0h3v3h-3zm225 0h3v3h-3zm-264 3h3v3h-3zm39 0h3v3h-3zm63 0h3v3h-3zm0 3h3v3h-3zm-105 3h3v3h-3zm45 0h3v3h-3zm60 0h3v3h-3zm165 0h3v3h-3zm-165 3h3v3h-3zm-108 3h3v3h-3zm51 0h3v3h-3zm57 0h3v3h-3zm-54 3h3v3h-3zm54 0h3v3h-3zm-111 3h3v3h-3zm60 0h3v3h-3zm3 3h3v3h-3zm-66 3h3v3h-3zm69 0h3v3h-3zm42 0h3v3h-3zm-111 3h3v3h-3zm72 0h3v3h-3zm-75 3h3v3h-3zm81 0h3v3h-3zm30 0h3v3h-3zm171 0h3v3h-3zm-285 3h6v3h-6zm87 0h3v3h-3zm24 0h3v3h-3zm-111 3h3v3h-3zm93 0h3v3h-3zm12 0h6v3h-6zm-108 3h6v3h-6zm102 0h6v3h-6zm183 0h3v3h-3zm-291 3h9v3h-9zm-6 3h12v3h-12zm294 0h3v3h-3zm-300 3h12v3h-12zm-6 3h9v3h-9zm-3 3h9v3h-9zm306 0h3v3h-3zm-306 3h6v3h-6zm306 0h3v3h-3zm-309 3h6v3h-6zm0 3h3v3h-3zm0 3h3v3h-3zm0 3h3v3h-3zm42 0h15v3h-15zm-42 3h3v3h-3zm39 0h21v3h-21zm-39 3h3v3h-3zm39 0h9v3h-9zm12 0h12v3h-12zm255 0h3v3h-3zm-306 3h3v3h-3zm36 0h9v3h-9zm21 0h9v3h-9zm249 0h3v3h-3zm-306 3h3v3h-3zm36 0h9v3h-9zm24 0h9v3h-9zm246 0h3v3h-3zm-306 3h3v3h-3zm36 0h9v3h-9zm27 0h6v3h-6zm243 0h3v3h-3zm-306 3h3v3h-3zm36 0h9v3h-9zm27 0h6v3h-6zm243 0h3v3h-3zm-306 3h3v3h-3zm36 0h9v3h-9zm27 0h9v3h-9zm243 0h3v3h-3zm-306 3h3v3h-3zm39 0h6v3h-6zm24 0h9v3h-9zm243 0h3v3h-3zm-306 3h3v3h-3zm39 0h6v3h-6zm24 0h6v3h-6zm-63 3h3v3h-3zm39 0h9v3h-9zm24 0h6v3h-6zm-63 3h3v3h-3zm39 0h9v3h-9zm24 0h6v3h-6zm-63 3h3v3h-3zm42 0h6v3h-6zm18 0h9v3h-9zm-60 3h3v3h-3zm42 0h9v3h-9zm18 0h6v3h-6zm-60 3h3v3h-3zm42 0h9v3h-9zm18 0h6v3h-6zm-60 3h3v3h-3zm42 0h6v3h-6zm18 0h6v3h-6zm246 0h3v3h-3zm-306 3h3v3h-3zm39 0h9v3h-9zm21 0h6v3h-6zm246 0h3v3h-3zm-306 3h3v3h-3zm39 0h6v3h-6zm21 0h6v3h-6zm246 0h3v3h-3zm-306 3h3v3h-3zm36 0h6v3h-6zm27 0h3v3h-3zm-63 3h3v3h-3zm30 0h9v3h-9zm33 0h6v3h-6zm-63 3h6v3h-6zm24 0h9v3h-9zm42 0h3v3h-3zm111 0h3v3h-3zm126 0h3v3h-3zm-300 3h24v3h-24zm63 0h3v3h-3zm105 0h6v3h-6zm12 0h3v3h-3zm120 0h3v3h-3zm-294 3h6v3h-6zm60 0h3v3h-3zm99 0h3v3h-3zm132 0h3v3h-3zm-228 3h3v3h-3zm93 0h3v3h-3zm27 0h3v3h-3zm105 0h3v3h-3zm-222 3h3v3h-3zm84 0h3v3h-3zm36 0h3v3h-3zm99 0h3v3h-3zm-216 3h3v3h-3zm78 0h3v3h-3zm129 0h6v3h-6zm-204 3h3v3h-3zm69 0h3v3h-3zm54 0h3v3h-3zm66 0h6v3h-6zm-183 3h3v3h-3zm57 0h3v3h-3zm117 0h3v3h-3zm-168 3h3v3h-3zm39 0h6v3h-6zm84 0h3v3h-3zm36 0h3v3h-3zm-147 3h18v3h-18zm120 0h18v3h-18z"/>
<path fill="#67b6e6" d="M0 0m315 12h3v3h-3zm30 12h3v3h-3zm3 6h3v3h-3zm3 6h3v3h-3zm-54 3h3v3h-3zm-90 18h15v3h-15zm-6 3h3v3h-3zm24 0h6v3h-6zm132 0h3v3h-3zm-162 3h3v3h-3zm39 0h3v3h-3zm-42 3h3v3h-3zm45 0h3v3h-3zm6 3h3v3h-3zm-54 3h3v3h-3zm57 0h3v3h-3zm42 0h3v3h-3zm-39 3h3v3h-3zm39 0h3v3h-3zm72 0h3v3h-3zm-174 3h3v3h-3zm66 0h3v3h-3zm108 0h3v3h-3zm-174 3h3v3h-3zm69 3h3v3h-3zm30 0h3v3h-3zm-27 3h3v3h-3zm27 0h3v3h-3zm-24 3h3v3h-3zm-252 3h3v3h-3zm177 0h3v3h-3zm78 0h3v3h-3zm18 0h3v3h-3zm-276 3h3v3h-3zm6 0h6v3h-6zm174 0h3v3h-3zm78 0h6v3h-6zm18 0h3v3h-3zm78 0h3v3h-3zm-342 3h3v3h-3zm168 0h3v3h-3zm81 0h6v3h-6zm12 0h3v3h-3zm81 0h3v3h-3zm-360 3h3v3h-3zm18 0h3v3h-3zm168 0h3v3h-3zm84 0h12v3h-12zm-84 3h3v3h-3zm87 0h6v3h-6zm-252 3h3v3h-3zm336 0h3v3h-3zm-336 3h3v3h-3zm-3 6h3v3h-3zm336 0h3v3h-3zm-336 3h3v3h-3zm168 0h3v3h-3zm-186 3h3v3h-3zm186 0h3v3h-3zm165 0h3v3h-3zm-336 3h3v3h-3zm171 0h3v3h-3zm-183 3h3v3h-3zm6 0h6v3h-6zm339 0h3v3h-3zm-165 9h3v3h-3zm162 0h3v3h-3zm-162 3h3v3h-3zm159 9h3v3h-3zm0 3h3v3h-3zm0 3h3v3h-3zm-246 3h9v3h-9zm-3 3h6v3h-6zm9 0h6v3h-6zm-12 3h6v3h-6zm18 0h3v3h-3zm-18 3h3v3h-3zm21 0h3v3h-3zm-24 3h3v3h-3zm24 0h3v3h-3zm-24 3h3v3h-3zm252 0h3v3h-3zm-252 3h3v3h-3zm27 0h3v3h-3zm225 0h3v3h-3zm-252 3h3v3h-3zm27 0h3v3h-3zm225 0h3v3h-3zm-252 3h3v3h-3zm27 0h3v3h-3zm0 3h3v3h-3zm-30 6h3v3h-3zm258 0h3v3h-3zm-258 3h3v3h-3zm33 0h3v3h-3zm66 0h3v3h-3zm-99 3h3v3h-3zm33 0h3v3h-3zm66 0h3v3h-3zm-66 3h3v3h-3zm228 0h3v3h-3zm-264 3h3v3h-3zm39 0h3v3h-3zm-39 3h3v3h-3zm39 0h3v3h-3zm-42 3h3v3h-3zm45 0h3v3h-3zm225 0h3v3h-3zm-270 3h3v3h-3zm270 0h3v3h-3zm-273 3h3v3h-3zm51 0h3v3h-3zm-51 3h3v3h-3zm54 0h3v3h-3zm54 0h3v3h-3zm-111 3h3v3h-3zm60 0h3v3h-3zm51 0h3v3h-3zm-111 3h3v3h-3zm63 0h3v3h-3zm213 0h3v3h-3zm-168 3h3v3h-3zm168 0h3v3h-3zm-279 3h3v3h-3zm75 0h3v3h-3zm-75 3h3v3h-3zm78 0h3v3h-3zm30 0h3v3h-3zm-111 3h3v3h-3zm84 0h6v3h-6zm24 0h3v3h-3zm171 0h3v3h-3zm-279 3h3v3h-3zm90 0h6v3h-6zm12 0h6v3h-6zm-105 3h6v3h-6zm96 0h9v3h-9zm183 0h3v3h-3zm-282 3h6v3h-6zm-6 3h12v3h-12zm-9 3h21v3h-21zm294 0h3v3h-3zm-297 3h18v3h-18zm-3 3h6v3h-6zm27 0h6v3h-6zm-30 3h6v3h-6zm30 0h15v3h-15zm-33 3h6v3h-6zm30 0h21v3h-21zm273 0h3v3h-3zm-303 3h6v3h-6zm30 0h27v3h-27zm273 0h3v3h-3zm-303 3h3v3h-3zm30 0h9v3h-9zm24 0h6v3h-6zm249 0h3v3h-3zm-303 3h3v3h-3zm30 0h6v3h-6zm27 0h6v3h-6zm246 0h3v3h-3zm-303 3h3v3h-3zm27 0h9v3h-9zm33 0h6v3h-6zm-60 3h3v3h-3zm27 0h6v3h-6zm36 0h6v3h-6zm-63 3h3v3h-3zm27 0h6v3h-6zm39 0h3v3h-3zm-66 3h3v3h-3zm27 0h6v3h-6zm39 0h6v3h-6zm-66 3h3v3h-3zm27 0h6v3h-6zm39 0h6v3h-6zm-66 3h3v3h-3zm30 0h3v3h-3zm39 0h3v3h-3zm-69 3h3v3h-3zm30 0h6v3h-6zm39 0h3v3h-3zm-69 3h3v3h-3zm30 0h6v3h-6zm36 0h6v3h-6zm234 0h3v3h-3zm-300 3h3v3h-3zm30 0h6v3h-6zm36 0h6v3h-6zm234 0h3v3h-3zm-300 3h3v3h-3zm33 0h3v3h-3zm33 0h3v3h-3zm234 0h3v3h-3zm-300 3h3v3h-3zm33 0h6v3h-6zm33 0h3v3h-3zm234 0h3v3h-3zm-300 3h3v3h-3zm33 0h6v3h-6zm30 0h6v3h-6zm237 0h3v3h-3zm-300 3h3v3h-3zm33 0h6v3h-6zm30 0h3v3h-3zm237 0h3v3h-3zm-300 3h3v3h-3zm33 0h6v3h-6zm30 0h3v3h-3zm237 0h3v3h-3zm-300 3h3v3h-3zm30 0h6v3h-6zm33 0h3v3h-3zm237 0h3v3h-3zm-300 3h3v3h-3zm27 0h9v3h-9zm36 0h3v3h-3zm237 0h3v3h-3zm-300 3h6v3h-6zm24 0h9v3h-9zm39 0h3v3h-3zm237 0h3v3h-3zm-300 3h9v3h-9zm18 0h9v3h-9zm153 0h9v3h-9zm129 0h3v3h-3zm-297 3h18v3h-18zm63 0h3v3h-3zm102 0h6v3h-6zm9 0h6v3h-6zm-111 3h3v3h-3zm99 0h3v3h-3zm18 0h3v3h-3zm114 0h3v3h-3zm-228 3h3v3h-3zm93 0h3v3h-3zm24 0h3v3h-3zm-114 3h3v3h-3zm87 0h3v3h-3zm132 0h3v3h-3zm-6 3h6v3h-6zm-135 3h3v3h-3zm48 0h3v3h-3zm78 0h6v3h-6zm-195 3h3v3h-3zm63 0h3v3h-3zm120 0h3v3h-3zm-177 3h3v3h-3zm51 0h3v3h-3zm69 0h3v3h-3zm48 0h3v3h-3zm-162 3h3v3h-3zm33 0h3v3h-3zm90 0h3v3h-3zm30 0h3v3h-3z"/>
<path fill="#65bee9" d="M0 0m318 12h3v3h-3zm12 0h3v3h-3zm-18 3h3v3h-3zm24 0h3v3h-3zm3 3h3v3h-3zm3 3h3v3h-3zm-39 3h3v3h-3zm-3 6h3v3h-3zm51 9h3v3h-3zm3 9h3v3h-3zm-60 3h3v3h-3zm-90 9h6v3h-6zm12 0h9v3h-9zm-18 3h3v3h-3zm30 0h6v3h-6zm63 0h3v3h-3zm66 0h3v3h-3zm-162 3h3v3h-3zm39 0h3v3h-3zm-42 3h3v3h-3zm48 0h3v3h-3zm3 3h3v3h-3zm-54 3h3v3h-3zm57 0h3v3h-3zm3 3h3v3h-3zm39 0h3v3h-3zm-36 3h3v3h-3zm108 0h3v3h-3zm-174 3h3v3h-3zm174 0h3v3h-3zm-174 3h3v3h-3zm69 0h3v3h-3zm105 0h3v3h-3zm-174 3h3v3h-3zm72 0h3v3h-3zm27 0h3v3h-3zm75 0h3v3h-3zm-99 3h3v3h-3zm24 0h3v3h-3zm75 0h3v3h-3zm-351 3h3v3h-3zm252 0h3v3h-3zm-258 3h3v3h-3zm9 0h6v3h-6zm252 0h3v3h-3zm18 0h3v3h-3zm-267 3h3v3h-3zm252 0h3v3h-3zm15 0h3v3h-3zm-282 3h3v3h-3zm18 0h3v3h-3zm171 0h3v3h-3zm78 0h6v3h-6zm12 0h6v3h-6zm78 0h3v3h-3zm-357 3h3v3h-3zm18 0h3v3h-3zm171 0h3v3h-3zm81 0h12v3h-12zm-252 3h3v3h-3zm171 0h3v3h-3zm84 0h9v3h-9zm-255 3h3v3h-3zm171 0h3v3h-3zm165 0h3v3h-3zm-354 3h3v3h-3zm189 0h3v3h-3zm-189 3h3v3h-3zm15 0h3v3h-3zm336 0h3v3h-3zm-336 3h3v3h-3zm-12 3h3v3h-3zm9 0h3v3h-3zm336 0h3v3h-3zm-342 3h3v3h-3zm180 0h3v3h-3zm0 3h3v3h-3zm159 3h3v3h-3zm-162 9h3v3h-3zm159 0h3v3h-3zm-159 3h3v3h-3zm159 0h3v3h-3zm-159 3h3v3h-3zm-84 12h3v3h-3zm-3 3h12v3h-12zm243 0h3v3h-3zm-246 3h3v3h-3zm12 0h6v3h-6zm234 0h3v3h-3zm-249 3h6v3h-6zm18 0h3v3h-3zm231 0h3v3h-3zm-249 3h3v3h-3zm21 0h3v3h-3zm-21 3h3v3h-3zm21 0h3v3h-3zm-21 3h3v3h-3zm21 0h3v3h-3zm0 3h3v3h-3zm228 0h3v3h-3zm-252 3h3v3h-3zm96 0h3v3h-3zm156 0h3v3h-3zm-252 3h3v3h-3zm27 0h3v3h-3zm69 0h3v3h-3zm156 0h3v3h-3zm-252 3h3v3h-3zm27 0h3v3h-3zm69 0h3v3h-3zm-96 3h3v3h-3zm27 0h3v3h-3zm228 0h3v3h-3zm-255 3h3v3h-3zm27 0h3v3h-3zm228 0h3v3h-3zm-258 3h3v3h-3zm0 3h3v3h-3zm33 0h3v3h-3zm228 0h3v3h-3zm-264 6h3v3h-3zm39 0h3v3h-3zm3 3h3v3h-3zm-45 3h3v3h-3zm270 0h3v3h-3zm-222 3h3v3h-3zm222 0h3v3h-3zm-273 3h3v3h-3zm54 0h3v3h-3zm219 0h3v3h-3zm-273 3h3v3h-3zm108 0h3v3h-3zm-111 3h3v3h-3zm66 0h3v3h-3zm-66 3h3v3h-3zm69 0h3v3h-3zm39 0h3v3h-3zm-108 3h3v3h-3zm72 0h3v3h-3zm201 0h3v3h-3zm-276 3h3v3h-3zm78 0h3v3h-3zm30 0h3v3h-3zm-108 3h3v3h-3zm81 0h6v3h-6zm24 0h3v3h-3zm168 0h3v3h-3zm-273 3h3v3h-3zm87 0h3v3h-3zm12 0h6v3h-6zm-102 3h6v3h-6zm93 0h12v3h-12zm-93 3h9v3h-9zm96 0h3v3h-3zm177 0h3v3h-3zm-273 3h9v3h-9zm-6 3h21v3h-21zm-15 3h21v3h-21zm27 0h12v3h-12zm264 0h3v3h-3zm-294 3h24v3h-24zm39 0h6v3h-6zm255 0h3v3h-3zm-297 3h24v3h-24zm45 0h6v3h-6zm-45 3h9v3h-9zm12 0h12v3h-12zm39 0h6v3h-6zm-54 3h9v3h-9zm18 0h9v3h-9zm39 0h6v3h-6zm-57 3h6v3h-6zm18 0h9v3h-9zm42 0h6v3h-6zm-60 3h6v3h-6zm18 0h6v3h-6zm45 0h6v3h-6zm-63 3h6v3h-6zm18 0h6v3h-6zm48 0h6v3h-6zm-66 3h6v3h-6zm18 0h6v3h-6zm48 0h6v3h-6zm231 0h3v3h-3zm-297 3h6v3h-6zm18 0h6v3h-6zm51 0h6v3h-6zm228 0h3v3h-3zm-297 3h6v3h-6zm18 0h6v3h-6zm51 0h6v3h-6zm228 0h3v3h-3zm-297 3h3v3h-3zm18 0h9v3h-9zm51 0h6v3h-6zm228 0h3v3h-3zm-297 3h3v3h-3zm21 0h6v3h-6zm48 0h6v3h-6zm228 0h3v3h-3zm-297 3h3v3h-3zm21 0h6v3h-6zm48 0h3v3h-3zm-69 3h3v3h-3zm21 0h6v3h-6zm48 0h3v3h-3zm-69 3h3v3h-3zm21 0h9v3h-9zm45 0h6v3h-6zm-66 3h3v3h-3zm24 0h6v3h-6zm42 0h3v3h-3zm-66 3h3v3h-3zm24 0h6v3h-6zm42 0h3v3h-3zm-66 3h3v3h-3zm24 0h6v3h-6zm39 0h6v3h-6zm-63 3h3v3h-3zm21 0h9v3h-9zm42 0h3v3h-3zm-63 3h6v3h-6zm21 0h6v3h-6zm42 0h3v3h-3zm-63 3h9v3h-9zm15 0h9v3h-9zm48 0h3v3h-3zm-60 3h18v3h-18zm60 0h3v3h-3zm105 0h9v3h-9zm-162 3h9v3h-9zm57 0h3v3h-3zm102 0h3v3h-3zm12 0h3v3h-3zm117 0h3v3h-3zm-228 3h3v3h-3zm96 0h3v3h-3zm18 0h3v3h-3zm114 0h3v3h-3zm-228 3h3v3h-3zm93 0h3v3h-3zm24 0h3v3h-3zm-114 3h3v3h-3zm87 0h3v3h-3zm30 0h3v3h-3zm105 0h3v3h-3zm-138 3h3v3h-3zm36 0h3v3h-3zm96 0h3v3h-3zm-213 3h3v3h-3zm78 0h3v3h-3zm42 0h3v3h-3zm87 0h3v3h-3zm-204 3h3v3h-3zm69 0h3v3h-3zm123 0h6v3h-6zm-186 3h3v3h-3zm57 0h3v3h-3zm63 0h3v3h-3zm57 0h3v3h-3zm-171 3h3v3h-3zm42 0h6v3h-6zm78 0h3v3h-3zm-114 3h6v3h-6zm24 0h6v3h-6zm99 0h3v3h-3zm24 0h3v3h-3z"/>
<path fill="#64c6ed" d="M0 0m321 12h9v3h-9zm-12 6h3v3h-3zm-3 3h3v3h-3zm39 6h3v3h-3zm-45 6h3v3h-3zm48 0h3v3h-3zm-51 9h3v3h-3zm57 9h3v3h-3zm-60 3h3v3h-3zm-84 6h6v3h-6zm-9 3h6v3h-6zm21 0h6v3h-6zm-24 3h3v3h-3zm33 0h3v3h-3zm60 0h3v3h-3zm66 0h3v3h-3zm-162 3h3v3h-3zm42 0h3v3h-3zm54 0h3v3h-3zm-99 3h3v3h-3zm48 0h3v3h-3zm3 3h3v3h-3zm-54 3h3v3h-3zm57 0h3v3h-3zm-57 3h3v3h-3zm60 0h3v3h-3zm39 0h3v3h-3zm-99 3h3v3h-3zm63 0h3v3h-3zm36 0h3v3h-3zm-33 6h3v3h-3zm-66 3h3v3h-3zm69 0h3v3h-3zm-69 3h3v3h-3zm96 0h3v3h-3zm-279 3h6v3h-6zm183 0h3v3h-3zm72 0h3v3h-3zm24 0h3v3h-3zm-282 3h3v3h-3zm9 0h3v3h-3zm177 0h3v3h-3zm75 0h3v3h-3zm21 0h3v3h-3zm72 0h3v3h-3zm-342 3h3v3h-3zm249 0h3v3h-3zm21 0h3v3h-3zm-270 3h3v3h-3zm252 0h3v3h-3zm15 0h3v3h-3zm-282 3h3v3h-3zm15 0h3v3h-3zm255 0h3v3h-3zm12 0h3v3h-3zm72 0h3v3h-3zm-354 3h3v3h-3zm15 0h3v3h-3zm258 0h12v3h-12zm-258 3h3v3h-3zm261 0h6v3h-6zm-87 3h3v3h-3zm-186 3h3v3h-3zm9 0h3v3h-3zm177 0h3v3h-3zm-183 3h6v3h-6zm183 0h3v3h-3zm156 6h3v3h-3zm-159 3h3v3h-3zm0 3h3v3h-3zm156 0h3v3h-3zm0 3h3v3h-3zm-159 12h3v3h-3zm0 3h3v3h-3zm156 0h3v3h-3zm-156 3h3v3h-3zm156 0h3v3h-3zm-156 3h3v3h-3zm156 0h3v3h-3zm-156 3h3v3h-3zm-87 3h9v3h-9zm87 0h3v3h-3zm-87 3h12v3h-12zm87 0h3v3h-3zm-90 3h6v3h-6zm12 0h6v3h-6zm78 0h3v3h-3zm-90 3h3v3h-3zm15 0h3v3h-3zm75 0h3v3h-3zm-90 3h3v3h-3zm15 0h3v3h-3zm75 0h3v3h-3zm-93 3h6v3h-6zm18 0h3v3h-3zm75 0h3v3h-3zm-93 3h3v3h-3zm21 0h3v3h-3zm-21 3h3v3h-3zm21 0h3v3h-3zm-21 3h3v3h-3zm21 0h3v3h-3zm228 0h3v3h-3zm-249 3h3v3h-3zm21 0h3v3h-3zm-21 3h3v3h-3zm21 0h3v3h-3zm-24 3h3v3h-3zm27 0h3v3h-3zm228 0h3v3h-3zm-255 3h3v3h-3zm27 0h3v3h-3zm72 0h3v3h-3zm-102 3h3v3h-3zm33 0h3v3h-3zm69 0h3v3h-3zm159 0h3v3h-3zm-261 3h3v3h-3zm33 0h3v3h-3zm69 0h3v3h-3zm159 0h3v3h-3zm-264 3h3v3h-3zm39 0h3v3h-3zm66 0h3v3h-3zm-105 3h3v3h-3zm42 0h3v3h-3zm63 0h3v3h-3zm-108 3h3v3h-3zm108 0h3v3h-3zm-108 3h3v3h-3zm54 3h3v3h-3zm-57 3h3v3h-3zm60 0h3v3h-3zm48 0h3v3h-3zm162 0h3v3h-3zm-270 3h3v3h-3zm63 0h3v3h-3zm45 0h3v3h-3zm162 0h3v3h-3zm-270 3h3v3h-3zm66 0h3v3h-3zm39 0h3v3h-3zm-108 3h6v3h-6zm72 0h3v3h-3zm-72 3h6v3h-6zm75 0h3v3h-3zm30 0h3v3h-3zm-105 3h6v3h-6zm78 0h6v3h-6zm24 0h3v3h-3zm-102 3h6v3h-6zm81 0h6v3h-6zm18 0h3v3h-3zm168 0h3v3h-3zm-264 3h6v3h-6zm81 0h6v3h-6zm9 0h9v3h-9zm-90 3h6v3h-6zm81 0h15v3h-15zm-75 3h6v3h-6zm75 0h15v3h-15zm180 0h3v3h-3zm-252 3h6v3h-6zm72 0h15v3h-15zm-69 3h6v3h-6zm66 0h18v3h-18zm-63 3h6v3h-6zm63 0h18v3h-18zm-105 3h3v3h-3zm48 0h3v3h-3zm54 0h21v3h-21zm-105 3h9v3h-9zm54 0h3v3h-3zm48 0h24v3h-24zm186 0h3v3h-3zm-291 3h12v3h-12zm60 0h3v3h-3zm45 0h21v3h-21zm186 0h3v3h-3zm-291 3h12v3h-12zm63 0h6v3h-6zm39 0h24v3h-24zm189 0h3v3h-3zm-291 3h12v3h-12zm66 0h6v3h-6zm42 0h6v3h-6zm183 0h3v3h-3zm-291 3h12v3h-12zm66 0h6v3h-6zm-66 3h12v3h-12zm69 0h6v3h-6zm-69 3h12v3h-12zm69 0h6v3h-6zm-72 3h15v3h-15zm72 0h6v3h-6zm-72 3h18v3h-18zm72 0h3v3h-3zm-72 3h18v3h-18zm69 0h6v3h-6zm222 0h3v3h-3zm-291 3h18v3h-18zm69 0h3v3h-3zm222 0h3v3h-3zm-291 3h18v3h-18zm69 0h3v3h-3zm222 0h3v3h-3zm-291 3h21v3h-21zm66 0h3v3h-3zm96 0h6v3h-6zm129 0h3v3h-3zm-291 3h21v3h-21zm66 0h3v3h-3zm99 0h3v3h-3zm126 0h3v3h-3zm-291 3h21v3h-21zm165 0h6v3h-6zm126 0h3v3h-3zm-291 3h18v3h-18zm63 0h3v3h-3zm102 0h6v3h-6zm126 0h3v3h-3zm-288 3h15v3h-15zm60 0h3v3h-3zm99 0h12v3h-12zm129 0h3v3h-3zm-285 3h6v3h-6zm57 0h3v3h-3zm99 0h12v3h-12zm129 0h3v3h-3zm-228 3h3v3h-3zm99 0h3v3h-3zm12 0h3v3h-3zm117 0h3v3h-3zm-228 3h3v3h-3zm96 0h3v3h-3zm18 0h3v3h-3zm-21 3h3v3h-3zm24 0h3v3h-3zm108 0h3v3h-3zm-222 3h3v3h-3zm222 0h3v3h-3zm-3 3h3v3h-3zm-216 3h3v3h-3zm210 0h3v3h-3zm-207 3h3v3h-3zm72 0h3v3h-3zm126 0h6v3h-6zm-195 3h3v3h-3zm120 0h3v3h-3zm66 0h3v3h-3zm-129 3h3v3h-3zm120 0h3v3h-3zm-165 3h3v3h-3zm36 0h3v3h-3zm123 0h3v3h-3zm-150 3h18v3h-18zm120 0h3v3h-3zm18 0h3v3h-3z"/>
<path fill="#68c9ec" d="M0 0m315 15h3v3h-3zm18 0h3v3h-3zm-30 12h3v3h-3zm48 15h3v3h-3zm-54 3h3v3h-3zm57 9h3v3h-3zm-60 3h3v3h-3zm-87 6h15v3h-15zm-6 3h3v3h-3zm24 0h6v3h-6zm-27 3h3v3h-3zm36 0h3v3h-3zm123 0h3v3h-3zm-162 3h3v3h-3zm42 0h3v3h-3zm54 0h3v3h-3zm66 0h3v3h-3zm-165 3h3v3h-3zm48 0h3v3h-3zm-48 3h3v3h-3zm54 3h3v3h-3zm3 3h3v3h-3zm-60 3h3v3h-3zm63 0h3v3h-3zm36 0h3v3h-3zm-99 3h3v3h-3zm99 0h3v3h-3zm-33 3h3v3h-3zm33 0h3v3h-3zm-30 3h3v3h-3zm30 0h3v3h-3zm-30 3h3v3h-3zm30 0h3v3h-3zm69 0h3v3h-3zm-351 3h6v3h-6zm186 0h3v3h-3zm69 0h3v3h-3zm-258 3h3v3h-3zm9 0h3v3h-3zm180 0h3v3h-3zm-180 3h3v3h-3zm180 0h3v3h-3zm72 0h3v3h-3zm21 0h3v3h-3zm69 0h3v3h-3zm-342 3h3v3h-3zm180 0h3v3h-3zm75 0h3v3h-3zm18 0h3v3h-3zm-273 3h3v3h-3zm180 0h3v3h-3zm75 0h6v3h-6zm18 0h3v3h-3zm-273 3h3v3h-3zm180 0h3v3h-3zm78 0h6v3h-6zm12 0h6v3h-6zm69 0h3v3h-3zm-348 3h3v3h-3zm9 0h3v3h-3zm261 0h12v3h-12zm-264 3h3v3h-3zm267 0h9v3h-9zm72 0h3v3h-3zm-159 6h3v3h-3zm156 0h3v3h-3zm-3 6h3v3h-3zm-156 6h3v3h-3zm0 3h3v3h-3zm153 3h3v3h-3zm0 3h3v3h-3zm0 3h3v3h-3zm-3 15h3v3h-3zm0 3h3v3h-3zm-237 3h6v3h-6zm237 0h3v3h-3zm-240 3h12v3h-12zm240 0h3v3h-3zm-240 3h12v3h-12zm240 0h3v3h-3zm-240 3h12v3h-12zm240 0h3v3h-3zm-243 3h6v3h-6zm12 0h6v3h-6zm231 0h3v3h-3zm-243 3h6v3h-6zm12 0h6v3h-6zm231 0h3v3h-3zm-243 3h6v3h-6zm15 0h3v3h-3zm-15 3h3v3h-3zm15 0h3v3h-3zm231 0h3v3h-3zm-246 3h3v3h-3zm15 0h3v3h-3zm78 0h3v3h-3zm-96 3h3v3h-3zm21 0h3v3h-3zm75 0h3v3h-3zm-96 3h3v3h-3zm21 0h3v3h-3zm231 0h3v3h-3zm-255 3h3v3h-3zm27 0h3v3h-3zm-27 3h3v3h-3zm-3 3h3v3h-3zm33 0h3v3h-3zm228 0h3v3h-3zm-225 3h3v3h-3zm225 0h3v3h-3zm-264 3h3v3h-3zm42 0h3v3h-3zm222 0h3v3h-3zm-264 3h3v3h-3zm45 0h3v3h-3zm60 0h3v3h-3zm159 0h3v3h-3zm-267 3h3v3h-3zm51 0h3v3h-3zm57 0h3v3h-3zm159 0h3v3h-3zm-267 3h3v3h-3zm54 0h3v3h-3zm-54 3h3v3h-3zm57 0h3v3h-3zm-57 3h3v3h-3zm60 0h3v3h-3zm45 0h3v3h-3zm-105 3h3v3h-3zm63 0h3v3h-3zm39 0h3v3h-3zm162 0h3v3h-3zm-264 3h3v3h-3zm66 0h3v3h-3zm36 0h3v3h-3zm-102 3h3v3h-3zm69 0h3v3h-3zm30 0h3v3h-3zm162 0h3v3h-3zm-261 3h3v3h-3zm72 0h3v3h-3zm24 0h6v3h-6zm-93 3h3v3h-3zm69 0h6v3h-6zm24 0h3v3h-3zm-93 3h6v3h-6zm69 0h6v3h-6zm21 0h6v3h-6zm165 0h3v3h-3zm-249 3h3v3h-3zm63 0h6v3h-6zm21 0h3v3h-3zm-81 3h3v3h-3zm60 0h6v3h-6zm21 0h3v3h-3zm-78 3h3v3h-3zm54 0h6v3h-6zm24 0h3v3h-3zm162 0h3v3h-3zm-237 3h6v3h-6zm51 0h6v3h-6zm24 0h3v3h-3zm162 0h3v3h-3zm-234 3h6v3h-6zm45 0h6v3h-6zm27 0h6v3h-6zm162 0h3v3h-3zm-231 3h6v3h-6zm39 0h6v3h-6zm30 0h6v3h-6zm-66 3h6v3h-6zm33 0h9v3h-9zm30 0h9v3h-9zm-57 3h6v3h-6zm24 0h9v3h-9zm33 0h9v3h-9zm-54 3h9v3h-9zm15 0h21v3h-21zm27 0h18v3h-18zm-42 3h48v3h-48zm3 3h12v3h-12zm213 0h3v3h-3zm-213 3h6v3h-6zm213 0h3v3h-3zm-213 3h6v3h-6zm78 0h6v3h-6zm135 0h3v3h-3zm-216 3h6v3h-6zm81 0h9v3h-9zm135 0h3v3h-3zm-216 3h3v3h-3zm81 0h12v3h-12zm-84 3h3v3h-3zm84 0h15v3h-15zm-84 3h3v3h-3zm84 0h15v3h-15zm-87 3h3v3h-3zm90 0h3v3h-3zm9 0h6v3h-6zm-99 3h3v3h-3zm90 0h6v3h-6zm9 0h6v3h-6zm-102 3h3v3h-3zm93 0h6v3h-6zm12 0h3v3h-3zm-105 3h3v3h-3zm93 0h6v3h-6zm12 0h6v3h-6zm-105 3h3v3h-3zm93 0h3v3h-3zm15 0h3v3h-3zm-108 3h3v3h-3zm93 0h3v3h-3zm15 0h3v3h-3zm-108 3h3v3h-3zm93 0h3v3h-3zm18 0h3v3h-3zm111 0h3v3h-3zm-222 3h3v3h-3zm90 0h3v3h-3zm132 0h3v3h-3zm-222 3h3v3h-3zm87 3h3v3h-3zm30 0h3v3h-3zm102 0h3v3h-3zm-216 3h3v3h-3zm81 0h3v3h-3zm36 0h3v3h-3zm96 0h3v3h-3zm-210 3h3v3h-3zm75 0h3v3h-3zm42 0h3v3h-3zm84 0h6v3h-6zm-81 3h3v3h-3zm75 0h3v3h-3zm-189 3h3v3h-3zm60 0h3v3h-3zm120 0h3v3h-3zm-177 3h3v3h-3zm48 0h3v3h-3zm72 0h3v3h-3zm-111 3h3v3h-3zm27 0h6v3h-6zm90 0h3v3h-3zm36 0h3v3h-3zm-24 3h15v3h-15z"/>
<path fill="#6ecce8" d="M0 0m318 15h3v3h-3zm12 0h3v3h-3zm-18 3h3v3h-3zm24 0h3v3h-3zm3 3h3v3h-3zm-33 3h3v3h-3zm36 0h3v3h-3zm-42 12h3v3h-3zm48 0h3v3h-3zm-51 12h3v3h-3zm57 9h3v3h-3zm-60 3h3v3h-3zm-90 6h6v3h-6zm15 0h6v3h-6zm-18 3h3v3h-3zm27 0h6v3h-6zm-30 3h3v3h-3zm36 0h3v3h-3zm-39 3h3v3h-3zm42 0h3v3h-3zm54 0h3v3h-3zm66 0h3v3h-3zm-114 3h3v3h-3zm48 0h3v3h-3zm66 0h3v3h-3zm-165 3h3v3h-3zm0 3h3v3h-3zm0 3h3v3h-3zm57 0h3v3h-3zm-57 3h3v3h-3zm60 0h3v3h-3zm105 0h3v3h-3zm-165 3h3v3h-3zm165 0h3v3h-3zm-165 3h3v3h-3zm63 0h3v3h-3zm102 0h3v3h-3zm-165 3h3v3h-3zm66 3h3v3h-3zm30 0h3v3h-3zm-282 3h6v3h-6zm255 0h3v3h-3zm27 0h3v3h-3zm66 0h3v3h-3zm-351 3h3v3h-3zm258 0h3v3h-3zm27 0h3v3h-3zm-285 3h3v3h-3zm261 0h3v3h-3zm24 0h3v3h-3zm-285 3h3v3h-3zm285 0h3v3h-3zm63 0h3v3h-3zm-348 3h3v3h-3zm264 0h3v3h-3zm21 0h3v3h-3zm-279 3h3v3h-3zm183 0h3v3h-3zm78 0h3v3h-3zm15 0h3v3h-3zm63 0h3v3h-3zm-342 3h3v3h-3zm186 0h3v3h-3zm81 0h3v3h-3zm12 0h3v3h-3zm-9 3h12v3h-12zm69 0h3v3h-3zm-66 3h6v3h-6zm-90 3h3v3h-3zm153 0h3v3h-3zm-153 3h3v3h-3zm150 6h3v3h-3zm0 3h3v3h-3zm-153 3h3v3h-3zm0 3h3v3h-3zm150 9h3v3h-3zm0 3h3v3h-3zm0 3h3v3h-3zm-237 21h6v3h-6zm0 3h6v3h-6zm0 3h9v3h-9zm87 0h3v3h-3zm150 0h3v3h-3zm-240 3h12v3h-12zm90 0h3v3h-3zm-90 3h12v3h-12zm243 0h3v3h-3zm-246 3h6v3h-6zm12 0h6v3h-6zm-12 3h3v3h-3zm15 0h3v3h-3zm-18 3h3v3h-3zm21 0h3v3h-3zm231 0h3v3h-3zm-252 3h3v3h-3zm24 0h3v3h-3zm-27 3h3v3h-3zm27 0h3v3h-3zm-30 3h3v3h-3zm33 0h3v3h-3zm-33 3h3v3h-3zm36 0h3v3h-3zm3 3h3v3h-3zm-42 3h3v3h-3zm45 0h3v3h-3zm-45 3h3v3h-3zm48 0h3v3h-3zm57 0h3v3h-3zm-105 3h3v3h-3zm51 0h3v3h-3zm54 0h3v3h-3zm-105 3h3v3h-3zm54 0h3v3h-3zm207 0h3v3h-3zm-261 3h3v3h-3zm57 0h3v3h-3zm45 0h3v3h-3zm-102 3h3v3h-3zm60 0h3v3h-3zm198 0h3v3h-3zm-258 3h3v3h-3zm63 0h3v3h-3zm36 0h3v3h-3zm-99 3h6v3h-6zm66 0h3v3h-3zm33 0h3v3h-3zm-96 3h6v3h-6zm63 0h3v3h-3zm30 0h3v3h-3zm159 0h3v3h-3zm-249 3h6v3h-6zm60 0h3v3h-3zm30 0h3v3h-3zm-87 3h6v3h-6zm57 0h3v3h-3zm27 0h6v3h-6zm-81 3h6v3h-6zm51 0h6v3h-6zm30 0h6v3h-6zm159 0h3v3h-3zm-237 3h6v3h-6zm48 0h3v3h-3zm30 0h6v3h-6zm-72 3h3v3h-3zm39 0h6v3h-6zm33 0h6v3h-6zm-69 3h3v3h-3zm33 0h6v3h-6zm39 0h3v3h-3zm-69 3h6v3h-6zm27 0h6v3h-6zm42 0h6v3h-6zm-66 3h27v3h-27zm66 0h6v3h-6zm153 0h3v3h-3zm-213 3h18v3h-18zm60 0h9v3h-9zm153 0h3v3h-3zm-207 3h6v3h-6zm51 0h15v3h-15zm156 0h3v3h-3zm-168 3h30v3h-30zm168 0h3v3h-3zm-201 3h33v3h-33zm48 0h21v3h-21zm-54 3h15v3h-15zm60 0h21v3h-21zm-60 3h6v3h-6zm63 0h9v3h-9zm15 0h6v3h-6zm-81 3h3v3h-3zm69 0h6v3h-6zm15 0h6v3h-6zm123 0h3v3h-3zm-210 3h3v3h-3zm72 0h6v3h-6zm18 0h3v3h-3zm120 0h3v3h-3zm-213 3h3v3h-3zm78 0h3v3h-3zm18 0h3v3h-3zm117 0h3v3h-3zm-213 3h3v3h-3zm78 0h3v3h-3zm18 0h3v3h-3zm117 0h3v3h-3zm-216 3h3v3h-3zm84 0h3v3h-3zm18 0h3v3h-3zm114 0h3v3h-3zm-132 3h3v3h-3zm18 0h3v3h-3zm114 0h3v3h-3zm-219 3h3v3h-3zm87 0h3v3h-3zm18 0h3v3h-3zm114 0h3v3h-3zm-219 3h3v3h-3zm87 0h3v3h-3zm132 0h3v3h-3zm-132 3h3v3h-3zm21 0h3v3h-3zm111 0h3v3h-3zm-132 3h3v3h-3zm21 0h3v3h-3zm111 0h3v3h-3zm-132 3h3v3h-3zm24 3h3v3h-3zm105 0h3v3h-3zm-216 3h3v3h-3zm84 0h3v3h-3zm30 0h3v3h-3zm102 0h3v3h-3zm-216 3h3v3h-3zm81 0h3v3h-3zm132 0h3v3h-3zm-135 3h3v3h-3zm129 0h6v3h-6zm-132 3h3v3h-3zm126 0h3v3h-3zm-195 3h3v3h-3zm66 0h3v3h-3zm123 0h3v3h-3zm-129 3h3v3h-3zm63 0h3v3h-3zm57 0h3v3h-3zm-171 3h3v3h-3zm42 0h3v3h-3zm78 0h3v3h-3zm45 0h3v3h-3zm-156 3h6v3h-6zm18 0h6v3h-6zm99 0h3v3h-3zm30 0h3v3h-3z"/>
<path fill="#73cee5" d="M0 0m321 15h9v3h-9zm-12 6h3v3h-3zm-6 9h3v3h-3zm42 0h3v3h-3zm-45 9h3v3h-3zm51 6h3v3h-3zm3 15h3v3h-3zm-60 3h3v3h-3zm-84 3h9v3h-9zm-6 3h3v3h-3zm18 0h6v3h-6zm-21 3h3v3h-3zm30 0h3v3h-3zm-33 3h3v3h-3zm36 0h3v3h-3zm-39 3h3v3h-3zm45 0h3v3h-3zm-45 3h3v3h-3zm48 0h3v3h-3zm48 0h3v3h-3zm66 0h3v3h-3zm-111 3h3v3h-3zm45 0h3v3h-3zm66 0h3v3h-3zm-66 3h3v3h-3zm66 0h3v3h-3zm-108 3h3v3h-3zm42 0h3v3h-3zm-39 3h3v3h-3zm39 0h3v3h-3zm-39 3h3v3h-3zm39 0h3v3h-3zm-96 3h3v3h-3zm60 0h3v3h-3zm36 0h3v3h-3zm-96 3h3v3h-3zm96 0h3v3h-3zm63 0h3v3h-3zm-159 3h3v3h-3zm63 0h3v3h-3zm33 0h3v3h-3zm-285 3h6v3h-6zm189 0h3v3h-3zm96 0h3v3h-3zm-282 3h3v3h-3zm186 0h3v3h-3zm66 0h3v3h-3zm30 0h3v3h-3zm60 0h3v3h-3zm-342 3h3v3h-3zm186 0h3v3h-3zm69 0h3v3h-3zm27 0h3v3h-3zm-282 3h3v3h-3zm186 0h3v3h-3zm69 0h3v3h-3zm84 0h3v3h-3zm-342 3h3v3h-3zm261 0h3v3h-3zm21 0h3v3h-3zm-18 3h3v3h-3zm18 0h3v3h-3zm57 0h3v3h-3zm-153 3h3v3h-3zm78 0h6v3h-6zm18 0h3v3h-3zm-96 3h3v3h-3zm81 0h6v3h-6zm12 0h6v3h-6zm57 0h3v3h-3zm-66 3h12v3h-12zm3 3h9v3h-9zm60 0h3v3h-3zm-150 3h3v3h-3zm150 0h3v3h-3zm-3 12h3v3h-3zm-150 3h3v3h-3zm150 0h3v3h-3zm-150 3h3v3h-3zm150 0h3v3h-3zm-150 3h3v3h-3zm0 3h3v3h-3zm147 6h3v3h-3zm0 3h3v3h-3zm0 3h3v3h-3zm0 3h3v3h-3zm0 3h3v3h-3zm-147 3h3v3h-3zm147 0h3v3h-3zm-147 3h3v3h-3zm147 0h3v3h-3zm-147 3h3v3h-3zm147 0h3v3h-3zm3 6h3v3h-3zm-237 6h6v3h-6zm240 0h3v3h-3zm-243 3h12v3h-12zm243 0h3v3h-3zm-246 3h9v3h-9zm12 0h6v3h-6zm84 0h3v3h-3zm-96 3h3v3h-3zm15 0h6v3h-6zm81 0h3v3h-3zm153 0h3v3h-3zm-252 3h3v3h-3zm21 0h3v3h-3zm78 0h3v3h-3zm153 0h3v3h-3zm-255 3h3v3h-3zm27 0h3v3h-3zm75 0h3v3h-3zm-102 3h3v3h-3zm30 0h3v3h-3zm72 0h3v3h-3zm-105 3h3v3h-3zm36 0h3v3h-3zm69 0h3v3h-3zm-105 3h3v3h-3zm39 0h3v3h-3zm66 0h3v3h-3zm-105 3h3v3h-3zm42 0h3v3h-3zm216 0h3v3h-3zm-213 3h3v3h-3zm213 0h3v3h-3zm-210 3h3v3h-3zm54 0h3v3h-3zm-102 3h3v3h-3zm51 0h3v3h-3zm51 0h3v3h-3zm153 0h3v3h-3zm-255 3h3v3h-3zm54 0h3v3h-3zm45 0h3v3h-3zm-99 3h3v3h-3zm57 0h3v3h-3zm42 0h3v3h-3zm-96 3h3v3h-3zm57 0h3v3h-3zm192 0h3v3h-3zm-246 3h3v3h-3zm54 0h3v3h-3zm36 0h3v3h-3zm-87 3h3v3h-3zm51 0h3v3h-3zm36 0h3v3h-3zm-84 3h3v3h-3zm48 0h3v3h-3zm36 0h3v3h-3zm153 0h3v3h-3zm-234 3h3v3h-3zm42 0h3v3h-3zm39 0h3v3h-3zm-78 3h3v3h-3zm36 0h6v3h-6zm42 0h3v3h-3zm-75 3h6v3h-6zm30 0h6v3h-6zm45 0h3v3h-3zm-72 3h9v3h-9zm24 0h6v3h-6zm48 0h6v3h-6zm150 0h3v3h-3zm-216 3h21v3h-21zm69 0h3v3h-3zm147 0h3v3h-3zm-147 3h6v3h-6zm3 3h6v3h-6zm3 3h9v3h-9zm3 3h9v3h-9zm-30 3h15v3h-15zm36 0h6v3h-6zm129 0h3v3h-3zm-189 3h15v3h-15zm36 0h9v3h-9zm30 0h3v3h-3zm123 0h3v3h-3zm-198 3h9v3h-9zm51 0h6v3h-6zm27 0h3v3h-3zm120 0h3v3h-3zm-204 3h6v3h-6zm60 0h6v3h-6zm27 0h3v3h-3zm-90 3h6v3h-6zm66 0h3v3h-3zm24 0h3v3h-3zm-93 3h3v3h-3zm72 0h3v3h-3zm24 0h3v3h-3zm-96 3h3v3h-3zm72 0h3v3h-3zm24 0h3v3h-3zm111 0h3v3h-3zm-210 3h3v3h-3zm78 0h3v3h-3zm132 0h3v3h-3zm-213 3h3v3h-3zm81 0h3v3h-3zm132 0h3v3h-3zm-213 3h3v3h-3zm81 0h3v3h-3zm24 0h3v3h-3zm108 0h3v3h-3zm-108 3h3v3h-3zm108 0h3v3h-3zm-216 3h3v3h-3zm216 0h3v3h-3zm-216 3h3v3h-3zm111 0h3v3h-3zm105 0h3v3h-3zm-216 3h3v3h-3zm84 0h3v3h-3zm27 0h3v3h-3zm105 0h3v3h-3zm-216 3h3v3h-3zm84 0h3v3h-3zm129 3h3v3h-3zm-210 3h3v3h-3zm114 0h3v3h-3zm93 0h3v3h-3zm-207 3h3v3h-3zm117 0h3v3h-3zm84 0h3v3h-3zm-198 3h3v3h-3zm117 0h3v3h-3zm75 0h3v3h-3zm-189 3h3v3h-3zm60 0h3v3h-3zm57 0h3v3h-3zm66 0h3v3h-3zm-180 3h3v3h-3zm51 0h3v3h-3zm120 0h3v3h-3zm-165 3h3v3h-3zm33 0h6v3h-6zm126 0h3v3h-3zm-147 3h12v3h-12zm114 0h3v3h-3zm24 0h3v3h-3z"/>
<path fill="#79d0e2" d="M0 0m315 18h3v3h-3zm18 0h3v3h-3zm9 9h3v3h-3zm6 12h3v3h-3zm3 9h3v3h-3zm-54 3h3v3h-3zm57 12h3v3h-3zm-60 3h3v3h-3zm-87 3h15v3h-15zm-3 3h3v3h-3zm21 0h6v3h-6zm-24 3h3v3h-3zm30 0h3v3h-3zm-33 3h3v3h-3zm39 0h3v3h-3zm3 3h3v3h-3zm-45 3h3v3h-3zm48 0h3v3h-3zm-48 3h3v3h-3zm51 0h3v3h-3zm-51 3h3v3h-3zm0 3h3v3h-3zm54 0h3v3h-3zm-54 3h3v3h-3zm57 3h3v3h-3zm102 0h3v3h-3zm-99 3h3v3h-3zm0 3h3v3h-3zm3 3h3v3h-3zm93 0h3v3h-3zm-345 3h3v3h-3zm252 0h3v3h-3zm-252 3h3v3h-3zm255 0h3v3h-3zm87 0h3v3h-3zm-342 3h3v3h-3zm285 0h3v3h-3zm-96 3h3v3h-3zm69 0h3v3h-3zm27 0h3v3h-3zm54 0h3v3h-3zm-150 3h3v3h-3zm72 0h3v3h-3zm24 0h3v3h-3zm0 3h3v3h-3zm51 0h3v3h-3zm-72 3h3v3h-3zm21 0h3v3h-3zm-99 3h3v3h-3zm81 0h3v3h-3zm15 0h3v3h-3zm51 0h3v3h-3zm-63 3h3v3h-3zm12 0h3v3h-3zm-9 3h12v3h-12zm-90 3h3v3h-3zm93 0h6v3h-6zm54 0h3v3h-3zm-147 3h3v3h-3zm147 0h3v3h-3zm0 3h3v3h-3zm-3 15h3v3h-3zm-147 3h3v3h-3zm147 0h3v3h-3zm-147 3h3v3h-3zm0 3h3v3h-3zm0 3h3v3h-3zm102 0h6v3h-6zm-102 3h3v3h-3zm102 0h9v3h-9zm42 0h3v3h-3zm-144 3h3v3h-3zm102 0h12v3h-12zm42 0h3v3h-3zm-42 3h12v3h-12zm42 0h3v3h-3zm-42 3h12v3h-12zm42 0h3v3h-3zm-39 3h9v3h-9zm3 3h3v3h-3zm39 0h3v3h-3zm3 6h3v3h-3zm-147 3h3v3h-3zm0 3h3v3h-3zm-87 3h3v3h-3zm237 0h3v3h-3zm-243 3h12v3h-12zm-3 3h6v3h-6zm15 0h3v3h-3zm-18 3h6v3h-6zm21 0h3v3h-3zm231 0h3v3h-3zm-252 3h3v3h-3zm24 0h3v3h-3zm228 0h3v3h-3zm-255 3h3v3h-3zm30 0h3v3h-3zm225 0h3v3h-3zm-255 3h3v3h-3zm33 0h3v3h-3zm222 0h3v3h-3zm-255 3h3v3h-3zm36 0h3v3h-3zm66 0h3v3h-3zm-105 3h3v3h-3zm42 0h3v3h-3zm63 0h3v3h-3zm-105 3h3v3h-3zm45 0h3v3h-3zm60 0h3v3h-3zm150 0h3v3h-3zm-252 3h3v3h-3zm45 0h3v3h-3zm-45 3h3v3h-3zm48 0h3v3h-3zm51 0h3v3h-3zm-99 3h6v3h-6zm51 0h3v3h-3zm48 0h3v3h-3zm150 0h3v3h-3zm-246 3h3v3h-3zm48 0h6v3h-6zm45 0h3v3h-3zm-90 3h3v3h-3zm48 0h3v3h-3zm42 0h3v3h-3zm150 0h3v3h-3zm-237 3h3v3h-3zm45 0h3v3h-3zm42 0h3v3h-3zm150 0h3v3h-3zm-234 3h3v3h-3zm39 0h6v3h-6zm45 0h3v3h-3zm-81 3h6v3h-6zm36 0h3v3h-3zm45 0h3v3h-3zm-78 3h6v3h-6zm30 0h3v3h-3zm48 0h3v3h-3zm147 0h3v3h-3zm-219 3h6v3h-6zm18 0h6v3h-6zm54 0h6v3h-6zm147 0h3v3h-3zm-213 3h15v3h-15zm69 0h3v3h-3zm90 0h6v3h-6zm-90 3h6v3h-6zm90 0h6v3h-6zm-87 3h6v3h-6zm3 3h6v3h-6zm135 0h3v3h-3zm-129 3h3v3h-3zm129 0h3v3h-3zm-126 3h3v3h-3zm126 0h3v3h-3zm-123 3h3v3h-3zm-51 3h21v3h-21zm54 0h3v3h-3zm-69 3h9v3h-9zm36 0h6v3h-6zm36 0h3v3h-3zm114 0h3v3h-3zm-195 3h6v3h-6zm51 0h3v3h-3zm144 0h3v3h-3zm-198 3h3v3h-3zm57 0h3v3h-3zm30 0h3v3h-3zm111 0h3v3h-3zm-204 3h6v3h-6zm66 0h3v3h-3zm138 0h3v3h-3zm-108 3h3v3h-3zm-99 3h3v3h-3zm72 0h3v3h-3zm27 0h3v3h-3zm-102 3h3v3h-3zm75 0h3v3h-3zm27 0h3v3h-3zm-105 6h3v3h-3zm81 0h3v3h-3zm-81 3h3v3h-3zm81 0h3v3h-3zm27 0h3v3h-3zm-108 3h3v3h-3zm81 0h3v3h-3zm129 0h3v3h-3zm-210 3h3v3h-3zm210 0h3v3h-3zm-210 3h3v3h-3zm78 0h3v3h-3zm33 0h3v3h-3zm99 0h3v3h-3zm-210 3h3v3h-3zm78 0h3v3h-3zm36 0h3v3h-3zm93 0h3v3h-3zm-132 3h3v3h-3zm129 0h3v3h-3zm-201 3h3v3h-3zm69 0h3v3h-3zm126 0h3v3h-3zm-129 3h3v3h-3zm123 0h3v3h-3zm-129 3h3v3h-3zm123 0h3v3h-3zm-174 3h3v3h-3zm45 0h3v3h-3zm72 0h3v3h-3zm-111 3h6v3h-6zm27 0h3v3h-3zm90 0h3v3h-3zm36 0h3v3h-3zm-27 3h3v3h-3zm18 0h3v3h-3z"/>
<path fill="#7ed2df" d="M0 0m336 21h3v3h-3zm3 3h3v3h-3zm-33 3h3v3h-3zm-3 6h3v3h-3zm42 0h3v3h-3zm-45 9h3v3h-3zm51 9h3v3h-3zm-54 3h3v3h-3zm57 12h3v3h-3zm-60 3h3v3h-3zm60 0h3v3h-3zm-147 3h18v3h-18zm87 0h3v3h-3zm-90 3h3v3h-3zm21 0h6v3h-6zm-24 3h3v3h-3zm30 0h6v3h-6zm-33 3h3v3h-3zm39 0h3v3h-3zm-39 3h3v3h-3zm42 0h3v3h-3zm-42 3h3v3h-3zm45 0h3v3h-3zm-45 3h3v3h-3zm48 0h3v3h-3zm-48 3h3v3h-3zm48 0h3v3h-3zm-48 3h3v3h-3zm51 0h3v3h-3zm105 0h3v3h-3zm-156 3h3v3h-3zm96 0h3v3h-3zm-96 3h3v3h-3zm54 0h3v3h-3zm42 0h3v3h-3zm-96 3h3v3h-3zm96 0h3v3h-3zm57 0h3v3h-3zm-153 3h3v3h-3zm57 0h3v3h-3zm39 0h3v3h-3zm-96 3h3v3h-3zm96 0h3v3h-3zm-96 3h3v3h-3zm60 0h3v3h-3zm36 0h3v3h-3zm-96 3h3v3h-3zm63 0h3v3h-3zm33 0h3v3h-3zm0 3h3v3h-3zm-30 3h3v3h-3zm30 0h3v3h-3zm48 0h3v3h-3zm-147 3h3v3h-3zm72 0h3v3h-3zm27 0h3v3h-3zm0 3h3v3h-3zm45 0h3v3h-3zm-69 3h3v3h-3zm21 0h3v3h-3zm-99 3h3v3h-3zm81 0h3v3h-3zm18 0h3v3h-3zm-15 3h3v3h-3zm15 0h3v3h-3zm45 0h3v3h-3zm-57 3h3v3h-3zm9 0h6v3h-6zm-9 3h12v3h-12zm-90 3h3v3h-3zm93 0h9v3h-9zm-93 3h3v3h-3zm96 0h6v3h-6zm48 0h3v3h-3zm-48 3h6v3h-6zm48 0h3v3h-3zm-45 3h3v3h-3zm45 0h3v3h-3zm-45 3h3v3h-3zm45 0h3v3h-3zm-45 3h6v3h-6zm-3 3h9v3h-9zm0 3h12v3h-12zm45 0h3v3h-3zm-45 3h12v3h-12zm45 0h3v3h-3zm-45 3h3v3h-3zm9 0h6v3h-6zm36 0h3v3h-3zm-45 3h3v3h-3zm12 0h3v3h-3zm-12 3h3v3h-3zm15 0h3v3h-3zm-15 3h3v3h-3zm15 0h3v3h-3zm-15 3h3v3h-3zm15 0h3v3h-3zm-12 3h3v3h-3zm12 0h3v3h-3zm30 0h3v3h-3zm-42 3h6v3h-6zm9 0h6v3h-6zm33 0h3v3h-3zm-141 3h3v3h-3zm102 0h9v3h-9zm42 0h3v3h-3zm-144 3h3v3h-3zm144 0h3v3h-3zm3 3h3v3h-3zm3 9h3v3h-3zm-240 3h9v3h-9zm-3 3h15v3h-15zm-3 3h3v3h-3zm18 0h3v3h-3zm81 0h3v3h-3zm-102 3h3v3h-3zm24 0h3v3h-3zm78 0h3v3h-3zm-102 3h3v3h-3zm27 0h3v3h-3zm-27 3h3v3h-3zm30 0h3v3h-3zm-33 3h6v3h-6zm36 0h3v3h-3zm216 0h3v3h-3zm-252 3h6v3h-6zm39 0h3v3h-3zm-36 3h3v3h-3zm39 0h3v3h-3zm60 0h3v3h-3zm-99 3h3v3h-3zm42 0h3v3h-3zm57 0h3v3h-3zm147 0h3v3h-3zm-243 3h3v3h-3zm42 0h3v3h-3zm-42 3h6v3h-6zm42 0h3v3h-3zm51 0h3v3h-3zm147 0h3v3h-3zm-237 3h6v3h-6zm39 0h6v3h-6zm51 0h3v3h-3zm-87 3h6v3h-6zm36 0h6v3h-6zm51 0h3v3h-3zm-84 3h6v3h-6zm33 0h3v3h-3zm51 0h3v3h-3zm144 0h3v3h-3zm-222 3h3v3h-3zm24 0h6v3h-6zm54 0h3v3h-3zm144 0h3v3h-3zm-219 3h9v3h-9zm15 0h9v3h-9zm60 0h3v3h-3zm87 0h12v3h-12zm-156 3h12v3h-12zm72 0h3v3h-3zm84 0h12v3h-12zm-84 3h6v3h-6zm81 0h6v3h-6zm12 0h6v3h-6zm45 0h3v3h-3zm-135 3h3v3h-3zm78 0h6v3h-6zm12 0h6v3h-6zm45 0h3v3h-3zm-132 3h3v3h-3zm78 0h15v3h-15zm54 0h3v3h-3zm-129 3h3v3h-3zm78 0h9v3h-9zm-75 3h3v3h-3zm3 3h3v3h-3zm120 0h3v3h-3zm-117 3h3v3h-3zm117 0h3v3h-3zm-114 3h3v3h-3zm114 0h3v3h-3zm-177 3h27v3h-27zm-12 3h6v3h-6zm42 0h3v3h-3zm36 0h3v3h-3zm108 0h3v3h-3zm-192 3h3v3h-3zm51 0h3v3h-3zm141 0h3v3h-3zm-195 3h3v3h-3zm57 0h3v3h-3zm33 0h3v3h-3zm105 0h3v3h-3zm-201 3h3v3h-3zm66 0h3v3h-3zm135 0h3v3h-3zm-135 3h3v3h-3zm135 0h3v3h-3zm-204 3h3v3h-3zm204 0h3v3h-3zm-207 3h3v3h-3zm75 0h3v3h-3zm30 0h3v3h-3zm102 0h3v3h-3zm-207 3h3v3h-3zm75 0h3v3h-3zm30 0h3v3h-3zm102 0h3v3h-3zm0 3h3v3h-3zm-132 3h3v3h-3zm0 3h3v3h-3zm33 0h3v3h-3zm96 0h3v3h-3zm0 3h3v3h-3zm-132 3h3v3h-3zm129 0h3v3h-3zm-201 3h3v3h-3zm114 0h3v3h-3zm84 0h3v3h-3zm-81 3h3v3h-3zm75 0h3v3h-3zm-189 3h3v3h-3zm60 0h3v3h-3zm57 0h3v3h-3zm66 0h3v3h-3zm-180 3h3v3h-3zm51 0h3v3h-3zm66 0h3v3h-3zm57 0h3v3h-3zm-168 3h3v3h-3zm36 0h6v3h-6zm126 0h3v3h-3zm-153 3h21v3h-21zm123 3h3v3h-3zm9 0h6v3h-6z"/>
<path fill="#84d4dc" d="M0 0m318 18h3v3h-3zm12 0h3v3h-3zm-18 3h3v3h-3zm-3 3h3v3h-3zm-6 12h3v3h-3zm45 6h3v3h-3zm-48 3h3v3h-3zm51 9h3v3h-3zm-54 3h3v3h-3zm57 15h3v3h-3zm-147 3h18v3h-18zm87 0h3v3h-3zm60 0h3v3h-3zm-150 3h3v3h-3zm24 0h3v3h-3zm66 0h3v3h-3zm60 0h3v3h-3zm-153 3h3v3h-3zm30 0h6v3h-6zm63 0h3v3h-3zm-93 3h3v3h-3zm36 0h3v3h-3zm57 0h3v3h-3zm-93 3h3v3h-3zm39 0h3v3h-3zm54 0h3v3h-3zm60 0h3v3h-3zm-111 3h3v3h-3zm51 0h3v3h-3zm60 0h3v3h-3zm-60 3h3v3h-3zm60 0h3v3h-3zm-108 3h3v3h-3zm48 0h3v3h-3zm-93 3h3v3h-3zm48 0h3v3h-3zm-48 3h3v3h-3zm48 0h3v3h-3zm-48 3h3v3h-3zm51 0h3v3h-3zm-51 3h3v3h-3zm0 3h3v3h-3zm54 0h3v3h-3zm93 0h3v3h-3zm-147 3h3v3h-3zm57 3h3v3h-3zm87 0h3v3h-3zm-147 3h3v3h-3zm63 0h3v3h-3zm-63 3h3v3h-3zm66 3h3v3h-3zm75 0h3v3h-3zm-144 3h3v3h-3zm72 0h3v3h-3zm-72 3h3v3h-3zm99 0h3v3h-3zm42 0h3v3h-3zm-66 3h3v3h-3zm24 0h3v3h-3zm42 0h3v3h-3zm-144 3h3v3h-3zm81 0h3v3h-3zm21 0h3v3h-3zm-102 3h3v3h-3zm84 0h3v3h-3zm18 0h3v3h-3zm39 0h3v3h-3zm-57 3h3v3h-3zm15 0h6v3h-6zm42 0h3v3h-3zm-54 3h3v3h-3zm12 0h3v3h-3zm42 0h3v3h-3zm-54 3h6v3h-6zm12 0h3v3h-3zm-102 3h3v3h-3zm93 0h3v3h-3zm9 0h3v3h-3zm-102 3h3v3h-3zm93 0h6v3h-6zm9 0h3v3h-3zm-9 3h6v3h-6zm9 0h6v3h-6zm-9 3h6v3h-6zm12 0h3v3h-3zm36 0h3v3h-3zm-48 3h3v3h-3zm12 0h3v3h-3zm36 0h3v3h-3zm-48 3h3v3h-3zm15 0h3v3h-3zm-15 3h3v3h-3zm15 0h3v3h-3zm-15 3h3v3h-3zm18 0h3v3h-3zm27 0h3v3h-3zm-27 3h6v3h-6zm27 0h3v3h-3zm-24 3h3v3h-3zm24 0h3v3h-3zm-24 3h3v3h-3zm24 0h3v3h-3zm-24 3h6v3h-6zm24 0h3v3h-3zm-138 3h3v3h-3zm96 0h3v3h-3zm18 0h3v3h-3zm24 0h3v3h-3zm-138 3h3v3h-3zm96 0h3v3h-3zm18 0h3v3h-3zm-15 3h3v3h-3zm12 0h6v3h-6zm30 0h3v3h-3zm-39 3h12v3h-12zm42 3h3v3h-3zm3 3h3v3h-3zm-144 6h3v3h-3zm0 3h3v3h-3zm147 0h3v3h-3zm-147 3h3v3h-3zm147 0h3v3h-3zm-243 3h15v3h-15zm-3 3h6v3h-6zm15 0h6v3h-6zm-15 3h3v3h-3zm21 0h3v3h-3zm78 0h3v3h-3zm147 0h3v3h-3zm-246 3h3v3h-3zm24 0h3v3h-3zm75 0h3v3h-3zm147 0h3v3h-3zm-246 3h3v3h-3zm27 0h3v3h-3zm72 0h3v3h-3zm-99 3h3v3h-3zm30 0h3v3h-3zm69 0h3v3h-3zm-99 3h3v3h-3zm33 0h3v3h-3zm66 0h3v3h-3zm144 0h3v3h-3zm-243 3h6v3h-6zm36 0h3v3h-3zm-33 3h3v3h-3zm36 0h3v3h-3zm57 0h3v3h-3zm144 0h3v3h-3zm-234 3h3v3h-3zm33 0h3v3h-3zm57 0h3v3h-3zm-87 3h3v3h-3zm30 0h3v3h-3zm57 0h3v3h-3zm-84 3h3v3h-3zm27 0h3v3h-3zm57 0h3v3h-3zm141 0h3v3h-3zm-222 3h6v3h-6zm21 0h6v3h-6zm60 0h3v3h-3zm87 0h6v3h-6zm-165 3h21v3h-21zm78 0h3v3h-3zm84 0h15v3h-15zm-153 3h6v3h-6zm69 0h6v3h-6zm81 0h3v3h-3zm15 0h3v3h-3zm42 0h3v3h-3zm-135 3h3v3h-3zm78 0h3v3h-3zm15 0h6v3h-6zm42 0h3v3h-3zm-132 3h3v3h-3zm72 0h3v3h-3zm21 0h3v3h-3zm-93 3h6v3h-6zm72 0h3v3h-3zm21 0h3v3h-3zm-90 3h6v3h-6zm72 0h3v3h-3zm18 0h3v3h-3zm36 0h3v3h-3zm-123 3h3v3h-3zm69 0h6v3h-6zm15 0h6v3h-6zm39 0h3v3h-3zm-120 3h3v3h-3zm69 0h15v3h-15zm51 0h3v3h-3zm-117 3h3v3h-3zm3 3h3v3h-3zm111 0h3v3h-3zm-108 3h3v3h-3zm108 0h3v3h-3zm-108 3h3v3h-3zm108 0h3v3h-3zm-180 3h9v3h-9zm30 0h6v3h-6zm45 0h3v3h-3zm-84 3h6v3h-6zm45 0h3v3h-3zm39 0h3v3h-3zm-87 3h3v3h-3zm51 0h3v3h-3zm138 0h3v3h-3zm-195 3h3v3h-3zm60 0h3v3h-3zm135 0h3v3h-3zm-198 3h3v3h-3zm99 0h3v3h-3zm99 0h3v3h-3zm-132 3h3v3h-3zm33 0h3v3h-3zm99 0h3v3h-3zm-201 3h3v3h-3zm201 0h3v3h-3zm0 3h3v3h-3zm-204 3h3v3h-3zm75 0h3v3h-3zm33 0h3v3h-3zm96 0h3v3h-3zm-204 3h3v3h-3zm108 0h3v3h-3zm96 0h3v3h-3zm-204 3h3v3h-3zm0 3h3v3h-3zm72 0h3v3h-3zm39 0h3v3h-3zm90 0h3v3h-3zm-201 3h3v3h-3zm198 0h3v3h-3zm-129 3h3v3h-3zm126 0h3v3h-3zm-192 3h3v3h-3zm63 0h3v3h-3zm123 0h3v3h-3zm-183 3h3v3h-3zm54 0h3v3h-3zm123 0h3v3h-3zm-174 3h3v3h-3zm45 0h3v3h-3zm123 0h3v3h-3zm-162 3h3v3h-3zm30 0h3v3h-3zm84 0h3v3h-3zm42 0h3v3h-3zm-36 3h3v3h-3zm30 0h3v3h-3zm-18 3h6v3h-6z"/>
<path fill="#8ad6d8" d="M0 0m321 18h9v3h-9zm-15 12h3v3h-3zm36 0h3v3h-3zm-45 30h3v3h-3zm-90 18h21v3h-21zm-3 3h6v3h-6zm24 0h3v3h-3zm126 0h3v3h-3zm-150 3h3v3h-3zm27 0h6v3h-6zm123 0h3v3h-3zm-150 3h3v3h-3zm33 0h3v3h-3zm-36 3h3v3h-3zm39 0h3v3h-3zm-39 3h3v3h-3zm42 0h3v3h-3zm-42 3h3v3h-3zm42 0h3v3h-3zm3 3h3v3h-3zm105 3h3v3h-3zm-102 3h3v3h-3zm48 0h3v3h-3zm-45 3h3v3h-3zm45 0h3v3h-3zm51 0h3v3h-3zm-96 3h3v3h-3zm45 0h3v3h-3zm-42 3h3v3h-3zm42 0h3v3h-3zm48 0h3v3h-3zm-144 3h3v3h-3zm96 0h3v3h-3zm-96 3h3v3h-3zm57 0h3v3h-3zm39 0h3v3h-3zm45 0h3v3h-3zm-81 3h3v3h-3zm36 0h3v3h-3zm42 0h3v3h-3zm-141 3h3v3h-3zm99 0h3v3h-3zm-33 3h3v3h-3zm33 0h3v3h-3zm39 0h3v3h-3zm-69 3h3v3h-3zm30 0h3v3h-3zm-102 3h3v3h-3zm102 0h3v3h-3zm36 0h3v3h-3zm-36 3h3v3h-3zm36 0h3v3h-3zm-60 3h3v3h-3zm24 0h3v3h-3zm-105 3h3v3h-3zm84 3h3v3h-3zm18 0h3v3h-3zm0 3h3v3h-3zm36 0h3v3h-3zm-51 3h3v3h-3zm15 0h3v3h-3zm36 0h3v3h-3zm-51 3h3v3h-3zm15 0h3v3h-3zm36 0h3v3h-3zm-141 3h3v3h-3zm108 0h3v3h-3zm33 0h3v3h-3zm-141 3h3v3h-3zm108 0h3v3h-3zm-108 3h3v3h-3zm108 0h3v3h-3zm-108 3h3v3h-3zm111 0h3v3h-3zm27 0h3v3h-3zm-27 3h3v3h-3zm27 0h3v3h-3zm-24 3h3v3h-3zm-21 3h3v3h-3zm24 0h3v3h-3zm18 0h3v3h-3zm-135 3h3v3h-3zm93 0h3v3h-3zm24 0h3v3h-3zm18 0h3v3h-3zm-135 3h3v3h-3zm93 0h3v3h-3zm24 0h6v3h-6zm18 0h3v3h-3zm-135 3h3v3h-3zm93 0h3v3h-3zm27 0h3v3h-3zm15 0h3v3h-3zm-18 3h6v3h-6zm18 0h3v3h-3zm-18 3h3v3h-3zm21 0h3v3h-3zm-42 3h3v3h-3zm21 0h3v3h-3zm21 0h3v3h-3zm-39 3h3v3h-3zm15 0h3v3h-3zm27 0h3v3h-3zm-42 3h15v3h-15zm-96 3h3v3h-3zm141 0h3v3h-3zm-141 3h3v3h-3zm144 0h3v3h-3zm0 3h3v3h-3zm3 9h3v3h-3zm-240 3h9v3h-9zm240 0h3v3h-3zm-243 3h18v3h-18zm0 3h6v3h-6zm15 0h6v3h-6zm-15 3h3v3h-3zm18 0h6v3h-6zm-18 3h3v3h-3zm21 0h6v3h-6zm219 0h3v3h-3zm-240 3h6v3h-6zm24 0h6v3h-6zm-21 3h3v3h-3zm24 0h6v3h-6zm69 0h3v3h-3zm141 0h3v3h-3zm-234 3h6v3h-6zm27 0h6v3h-6zm66 0h3v3h-3zm-90 3h6v3h-6zm24 0h6v3h-6zm66 0h3v3h-3zm-87 3h6v3h-6zm21 0h6v3h-6zm66 0h3v3h-3zm138 0h3v3h-3zm-222 3h24v3h-24zm84 0h3v3h-3zm84 0h9v3h-9zm-162 3h15v3h-15zm78 0h3v3h-3zm81 0h3v3h-3zm9 0h6v3h-6zm45 0h3v3h-3zm-135 3h3v3h-3zm78 0h3v3h-3zm18 0h3v3h-3zm39 0h3v3h-3zm-132 3h3v3h-3zm72 0h3v3h-3zm21 0h3v3h-3zm-93 3h3v3h-3zm72 0h3v3h-3zm24 0h3v3h-3zm-93 3h3v3h-3zm93 0h3v3h-3zm33 0h3v3h-3zm-123 3h3v3h-3zm90 0h3v3h-3zm33 0h3v3h-3zm-120 3h3v3h-3zm63 0h3v3h-3zm24 0h3v3h-3zm-87 3h3v3h-3zm63 0h3v3h-3zm24 0h3v3h-3zm-84 3h3v3h-3zm63 0h3v3h-3zm18 0h6v3h-6zm33 0h3v3h-3zm-111 3h3v3h-3zm63 0h18v3h-18zm48 0h3v3h-3zm-3 6h3v3h-3zm-102 3h3v3h-3zm102 0h3v3h-3zm-168 3h21v3h-21zm168 0h3v3h-3zm-180 3h6v3h-6zm36 0h3v3h-3zm144 0h3v3h-3zm-186 3h3v3h-3zm45 0h3v3h-3zm42 0h3v3h-3zm-93 3h3v3h-3zm54 0h3v3h-3zm39 0h3v3h-3zm-96 3h3v3h-3zm60 0h3v3h-3zm-63 3h3v3h-3zm66 3h3v3h-3zm-69 3h3v3h-3zm69 0h3v3h-3zm36 0h3v3h-3zm-105 3h3v3h-3zm69 0h3v3h-3zm129 0h3v3h-3zm-129 3h3v3h-3zm129 0h3v3h-3zm-129 3h3v3h-3zm39 0h3v3h-3zm90 0h3v3h-3zm-3 3h3v3h-3zm-129 3h3v3h-3zm45 0h3v3h-3zm81 0h3v3h-3zm-192 3h3v3h-3zm63 0h3v3h-3zm126 0h3v3h-3zm-186 3h3v3h-3zm57 0h3v3h-3zm123 0h3v3h-3zm-174 6h3v3h-3zm39 0h3v3h-3zm75 0h3v3h-3zm-108 3h6v3h-6zm18 0h9v3h-9zm102 3h3v3h-3zm24 0h3v3h-3z"/>
<path fill="#8fd8d2" d="M0 0m315 21h3v3h-3zm18 0h3v3h-3zm3 3h3v3h-3zm-27 3h3v3h-3zm30 0h3v3h-3zm6 9h3v3h-3zm-42 3h3v3h-3zm45 6h3v3h-3zm-48 3h3v3h-3zm51 9h3v3h-3zm0 3h3v3h-3zm-54 3h3v3h-3zm-87 18h18v3h-18zm-3 3h6v3h-6zm18 0h6v3h-6zm-18 3h3v3h-3zm24 0h6v3h-6zm-27 3h3v3h-3zm33 0h3v3h-3zm-33 3h3v3h-3zm36 0h3v3h-3zm-36 3h3v3h-3zm36 0h3v3h-3zm57 0h3v3h-3zm-93 3h3v3h-3zm39 0h3v3h-3zm54 0h3v3h-3zm54 0h3v3h-3zm-147 3h3v3h-3zm42 0h3v3h-3zm51 0h3v3h-3zm-93 3h3v3h-3zm42 0h3v3h-3zm102 0h3v3h-3zm-144 3h3v3h-3zm45 0h3v3h-3zm-45 3h3v3h-3zm0 3h3v3h-3zm48 0h3v3h-3zm48 0h3v3h-3zm-45 3h3v3h-3zm45 0h3v3h-3zm42 0h3v3h-3zm-42 3h3v3h-3zm-99 3h3v3h-3zm99 0h3v3h-3zm-39 3h3v3h-3zm39 0h3v3h-3zm36 0h3v3h-3zm-138 3h3v3h-3zm102 0h3v3h-3zm0 3h3v3h-3zm33 0h3v3h-3zm-66 3h3v3h-3zm33 0h3v3h-3zm-105 3h3v3h-3zm75 0h3v3h-3zm30 0h3v3h-3zm30 3h3v3h-3zm-57 3h3v3h-3zm24 0h3v3h-3zm33 0h3v3h-3zm-138 3h3v3h-3zm105 0h3v3h-3zm33 0h3v3h-3zm-138 3h3v3h-3zm84 0h3v3h-3zm21 0h3v3h-3zm-21 3h3v3h-3zm21 0h3v3h-3zm0 3h3v3h-3zm-18 3h3v3h-3zm21 0h3v3h-3zm27 0h3v3h-3zm-48 3h3v3h-3zm21 0h3v3h-3zm27 0h3v3h-3zm-48 3h3v3h-3zm21 0h3v3h-3zm27 0h3v3h-3zm-48 3h3v3h-3zm24 0h3v3h-3zm-114 3h3v3h-3zm90 0h3v3h-3zm24 0h6v3h-6zm21 0h3v3h-3zm-135 3h3v3h-3zm90 0h3v3h-3zm27 0h3v3h-3zm18 0h3v3h-3zm-135 3h3v3h-3zm120 0h3v3h-3zm12 0h3v3h-3zm-12 3h15v3h-15zm3 3h12v3h-12zm0 3h12v3h-12zm-30 3h3v3h-3zm30 0h12v3h-12zm-30 3h3v3h-3zm27 0h9v3h-9zm12 0h6v3h-6zm-12 3h3v3h-3zm15 0h3v3h-3zm-132 3h3v3h-3zm93 0h3v3h-3zm21 0h3v3h-3zm21 0h3v3h-3zm-135 3h3v3h-3zm111 0h3v3h-3zm27 0h3v3h-3zm-42 3h15v3h-15zm45 3h3v3h-3zm3 6h3v3h-3zm-141 6h3v3h-3zm0 3h3v3h-3zm0 3h3v3h-3zm-93 3h9v3h-9zm93 0h3v3h-3zm-96 3h15v3h-15zm96 0h3v3h-3zm141 0h3v3h-3zm-237 3h18v3h-18zm96 0h3v3h-3zm-93 3h18v3h-18zm93 0h3v3h-3zm138 0h3v3h-3zm-231 3h21v3h-21zm93 0h3v3h-3zm-90 3h21v3h-21zm90 0h3v3h-3zm-87 3h18v3h-18zm87 0h3v3h-3zm135 0h3v3h-3zm-219 3h15v3h-15zm84 0h3v3h-3zm81 0h9v3h-9zm-81 3h3v3h-3zm78 0h3v3h-3zm12 0h3v3h-3zm42 0h3v3h-3zm-132 3h3v3h-3zm75 0h3v3h-3zm18 0h3v3h-3zm-93 3h3v3h-3zm72 0h3v3h-3zm24 0h3v3h-3zm-93 3h3v3h-3zm66 0h3v3h-3zm27 0h3v3h-3zm33 0h3v3h-3zm-126 3h3v3h-3zm66 0h3v3h-3zm30 0h3v3h-3zm30 0h3v3h-3zm-123 3h3v3h-3zm63 0h3v3h-3zm30 0h3v3h-3zm-90 3h3v3h-3zm60 0h3v3h-3zm30 0h3v3h-3zm27 0h3v3h-3zm-57 3h3v3h-3zm30 0h3v3h-3zm27 0h3v3h-3zm-114 3h3v3h-3zm57 0h3v3h-3zm30 0h6v3h-6zm27 0h3v3h-3zm-111 3h3v3h-3zm57 0h3v3h-3zm27 0h3v3h-3zm24 0h3v3h-3zm-48 3h3v3h-3zm21 0h6v3h-6zm27 0h3v3h-3zm-105 3h3v3h-3zm63 0h18v3h-18zm42 0h3v3h-3zm-102 3h3v3h-3zm99 0h3v3h-3zm0 3h3v3h-3zm0 3h3v3h-3zm-171 3h6v3h-6zm24 0h6v3h-6zm51 0h3v3h-3zm96 0h3v3h-3zm-180 3h3v3h-3zm39 0h3v3h-3zm141 0h3v3h-3zm-186 3h3v3h-3zm186 0h3v3h-3zm-189 3h3v3h-3zm54 0h3v3h-3zm135 0h3v3h-3zm-192 3h3v3h-3zm60 0h3v3h-3zm39 0h3v3h-3zm93 0h3v3h-3zm-195 3h3v3h-3zm63 0h3v3h-3zm39 0h3v3h-3zm93 0h3v3h-3zm-195 3h3v3h-3zm195 0h3v3h-3zm-198 6h3v3h-3zm108 0h3v3h-3zm87 0h3v3h-3zm-195 3h3v3h-3zm195 0h3v3h-3zm-195 3h3v3h-3zm66 0h3v3h-3zm45 0h3v3h-3zm81 0h3v3h-3zm-192 3h3v3h-3zm189 0h3v3h-3zm-75 3h3v3h-3zm72 0h3v3h-3zm-129 3h3v3h-3zm60 0h3v3h-3zm-111 3h3v3h-3zm45 0h6v3h-6zm69 0h3v3h-3zm57 0h3v3h-3zm-165 3h3v3h-3zm30 0h6v3h-6zm129 0h3v3h-3zm-150 3h12v3h-12zm108 0h3v3h-3zm36 0h3v3h-3zm-9 3h3v3h-3z"/>
<path fill="#94d9cb" d="M0 0m330 21h3v3h-3zm-18 3h3v3h-3zm-6 9h3v3h-3zm-6 18h3v3h-3zm51 12h3v3h-3zm-54 3h3v3h-3zm0 3h3v3h-3zm-84 15h12v3h-12zm-3 3h9v3h-9zm12 0h9v3h-9zm75 0h3v3h-3zm-90 3h6v3h-6zm24 0h6v3h-6zm66 0h3v3h-3zm-90 3h6v3h-6zm27 0h6v3h-6zm63 0h3v3h-3zm54 0h3v3h-3zm-144 3h3v3h-3zm30 0h3v3h-3zm114 0h3v3h-3zm-144 3h3v3h-3zm33 0h3v3h-3zm-33 3h3v3h-3zm36 0h3v3h-3zm-36 3h3v3h-3zm93 0h3v3h-3zm-93 3h3v3h-3zm39 0h3v3h-3zm54 0h3v3h-3zm-93 3h3v3h-3zm42 0h3v3h-3zm51 0h3v3h-3zm45 0h3v3h-3zm-3 3h3v3h-3zm-138 3h3v3h-3zm48 0h3v3h-3zm-48 3h3v3h-3zm51 0h3v3h-3zm84 0h3v3h-3zm-81 3h3v3h-3zm78 0h3v3h-3zm-135 3h3v3h-3zm102 0h3v3h-3zm-42 3h3v3h-3zm42 0h3v3h-3zm30 0h3v3h-3zm-135 3h3v3h-3zm66 0h3v3h-3zm39 0h3v3h-3zm27 3h3v3h-3zm-63 3h3v3h-3zm63 0h3v3h-3zm-135 3h3v3h-3zm75 0h3v3h-3zm30 0h3v3h-3zm0 3h3v3h-3zm-27 3h3v3h-3zm27 0h3v3h-3zm27 0h3v3h-3zm-27 3h3v3h-3zm27 0h3v3h-3zm-135 3h3v3h-3zm108 0h3v3h-3zm27 0h3v3h-3zm-51 3h3v3h-3zm24 0h3v3h-3zm27 0h3v3h-3zm-24 3h3v3h-3zm0 3h3v3h-3zm21 0h3v3h-3zm-21 3h3v3h-3zm21 0h3v3h-3zm-18 3h3v3h-3zm18 0h3v3h-3zm-15 3h3v3h-3zm12 0h3v3h-3zm-12 3h15v3h-15zm-30 3h3v3h-3zm33 0h9v3h-9zm-33 3h3v3h-3zm0 3h3v3h-3zm0 3h3v3h-3zm39 6h3v3h-3zm-126 3h3v3h-3zm90 0h3v3h-3zm30 0h12v3h-12zm-30 3h3v3h-3zm27 0h6v3h-6zm15 0h3v3h-3zm-39 3h3v3h-3zm21 0h6v3h-6zm21 0h3v3h-3zm-42 3h3v3h-3zm18 0h3v3h-3zm27 0h3v3h-3zm-42 3h15v3h-15zm-93 3h3v3h-3zm138 0h3v3h-3zm-138 3h3v3h-3zm0 3h3v3h-3zm141 0h3v3h-3zm0 3h3v3h-3zm0 3h3v3h-3zm0 3h3v3h-3zm0 3h3v3h-3zm-3 6h3v3h-3zm-3 9h3v3h-3zm-51 3h6v3h-6zm-6 3h3v3h-3zm12 0h6v3h-6zm42 0h3v3h-3zm-129 3h3v3h-3zm72 0h3v3h-3zm18 0h6v3h-6zm-90 3h3v3h-3zm69 0h3v3h-3zm24 0h3v3h-3zm33 0h3v3h-3zm-126 3h3v3h-3zm66 0h3v3h-3zm30 0h3v3h-3zm30 0h3v3h-3zm-123 3h3v3h-3zm93 0h3v3h-3zm-93 3h3v3h-3zm60 0h3v3h-3zm36 0h3v3h-3zm24 0h3v3h-3zm-117 3h3v3h-3zm57 0h3v3h-3zm36 0h3v3h-3zm24 0h3v3h-3zm-60 3h3v3h-3zm36 0h3v3h-3zm-90 3h3v3h-3zm54 0h3v3h-3zm36 0h6v3h-6zm21 0h3v3h-3zm-108 3h3v3h-3zm51 0h3v3h-3zm39 0h3v3h-3zm18 0h3v3h-3zm-54 3h3v3h-3zm33 0h6v3h-6zm18 0h3v3h-3zm-102 3h3v3h-3zm54 0h3v3h-3zm30 0h6v3h-6zm18 0h3v3h-3zm-99 3h3v3h-3zm54 0h6v3h-6zm24 0h9v3h-9zm18 0h6v3h-6zm-33 3h21v3h-21zm30 0h6v3h-6zm0 3h6v3h-6zm-90 3h3v3h-3zm90 0h6v3h-6zm-159 3h18v3h-18zm159 0h6v3h-6zm-171 3h6v3h-6zm33 0h3v3h-3zm138 0h6v3h-6zm-177 3h3v3h-3zm45 0h3v3h-3zm45 0h3v3h-3zm90 0h3v3h-3zm-183 3h3v3h-3zm93 0h3v3h-3zm90 0h3v3h-3zm-186 3h3v3h-3zm54 0h3v3h-3zm132 0h3v3h-3zm-189 3h3v3h-3zm189 0h3v3h-3zm-129 3h3v3h-3zm129 0h3v3h-3zm-192 3h3v3h-3zm63 0h3v3h-3zm42 0h3v3h-3zm87 0h3v3h-3zm-129 3h3v3h-3zm0 3h3v3h-3zm126 0h3v3h-3zm-3 3h3v3h-3zm-186 3h3v3h-3zm60 0h3v3h-3zm51 0h3v3h-3zm72 0h3v3h-3zm-183 3h3v3h-3zm57 0h3v3h-3zm123 0h3v3h-3zm-177 3h3v3h-3zm174 0h3v3h-3zm-171 3h3v3h-3zm39 0h3v3h-3zm126 0h3v3h-3zm-159 3h3v3h-3zm21 0h6v3h-6zm102 6h3v3h-3zm15 0h3v3h-3z"/>
<path fill="#99dac3" d="M0 0m318 21h3v3h-3zm24 12h3v3h-3zm3 6h3v3h-3zm-42 3h3v3h-3zm45 6h3v3h-3zm-48 6h3v3h-3zm51 12h3v3h-3zm0 3h3v3h-3zm-54 3h3v3h-3zm0 3h3v3h-3zm0 3h3v3h-3zm0 3h3v3h-3zm0 3h3v3h-3zm-78 3h3v3h-3zm132 0h3v3h-3zm-138 3h18v3h-18zm138 0h3v3h-3zm-138 3h6v3h-6zm15 0h6v3h-6zm-18 3h6v3h-6zm24 0h3v3h-3zm-24 3h6v3h-6zm27 0h3v3h-3zm63 0h3v3h-3zm-90 3h3v3h-3zm30 0h3v3h-3zm60 0h3v3h-3zm48 0h3v3h-3zm-138 3h3v3h-3zm33 0h3v3h-3zm-33 3h3v3h-3zm33 0h3v3h-3zm102 0h3v3h-3zm-135 3h3v3h-3zm36 0h3v3h-3zm-39 3h3v3h-3zm42 0h3v3h-3zm54 0h3v3h-3zm-96 3h3v3h-3zm96 0h3v3h-3zm36 0h3v3h-3zm-36 3h3v3h-3zm-99 3h3v3h-3zm51 0h3v3h-3zm48 0h3v3h-3zm-45 3h3v3h-3zm75 0h3v3h-3zm-132 3h3v3h-3zm129 3h3v3h-3zm-132 3h3v3h-3zm66 0h3v3h-3zm39 0h3v3h-3zm0 3h3v3h-3zm24 0h3v3h-3zm-24 3h3v3h-3zm24 0h3v3h-3zm-132 3h3v3h-3zm75 0h3v3h-3zm33 0h3v3h-3zm24 0h3v3h-3zm-24 3h3v3h-3zm-30 3h3v3h-3zm30 0h3v3h-3zm0 3h3v3h-3zm21 0h3v3h-3zm-132 3h3v3h-3zm111 0h3v3h-3zm21 0h3v3h-3zm-132 3h3v3h-3zm84 0h3v3h-3zm30 0h3v3h-3zm18 0h3v3h-3zm-132 3h3v3h-3zm84 0h3v3h-3zm30 0h3v3h-3zm-30 3h3v3h-3zm30 0h6v3h-6zm15 0h3v3h-3zm-12 3h6v3h-6zm9 0h6v3h-6zm-6 3h9v3h-9zm-120 18h3v3h-3zm87 0h3v3h-3zm-87 3h3v3h-3zm87 0h3v3h-3zm36 6h9v3h-9zm-33 3h3v3h-3zm30 0h3v3h-3zm12 0h3v3h-3zm-18 3h6v3h-6zm21 0h3v3h-3zm-132 3h3v3h-3zm90 0h3v3h-3zm18 0h3v3h-3zm27 0h3v3h-3zm-42 3h15v3h-15zm45 3h3v3h-3zm-135 15h3v3h-3zm0 3h3v3h-3zm135 0h3v3h-3zm-135 3h3v3h-3zm0 3h3v3h-3zm0 3h3v3h-3zm132 0h3v3h-3zm-132 3h3v3h-3zm81 0h9v3h-9zm-81 3h3v3h-3zm75 0h6v3h-6zm12 0h6v3h-6zm42 0h3v3h-3zm-129 3h3v3h-3zm72 0h3v3h-3zm21 0h3v3h-3zm-24 3h3v3h-3zm27 0h3v3h-3zm30 0h3v3h-3zm-123 3h3v3h-3zm63 0h3v3h-3zm30 0h3v3h-3zm-93 3h3v3h-3zm96 0h3v3h-3zm24 0h3v3h-3zm-60 3h3v3h-3zm36 0h3v3h-3zm24 0h3v3h-3zm-117 3h3v3h-3zm96 0h3v3h-3zm-93 3h3v3h-3zm93 0h3v3h-3zm18 0h3v3h-3zm-111 3h3v3h-3zm93 0h6v3h-6zm15 0h6v3h-6zm-105 3h3v3h-3zm93 0h6v3h-6zm12 0h3v3h-3zm-12 3h15v3h-15zm-90 3h3v3h-3zm48 0h3v3h-3zm42 0h12v3h-12zm-39 3h3v3h-3zm39 0h12v3h-12zm-36 3h3v3h-3zm36 0h9v3h-9zm-30 3h6v3h-6zm27 0h9v3h-9zm-81 3h3v3h-3zm66 0h24v3h-24zm15 3h9v3h-9zm6 3h3v3h-3zm-162 3h6v3h-6zm24 0h3v3h-3zm54 0h3v3h-3zm84 0h3v3h-3zm-171 3h6v3h-6zm39 0h3v3h-3zm132 0h6v3h-6zm-174 3h3v3h-3zm45 0h3v3h-3zm132 0h3v3h-3zm0 3h3v3h-3zm-129 3h3v3h-3zm45 0h3v3h-3zm84 0h3v3h-3zm-186 3h3v3h-3zm102 0h3v3h-3zm84 0h3v3h-3zm0 3h3v3h-3zm-189 3h3v3h-3zm189 0h3v3h-3zm-189 3h3v3h-3zm108 0h3v3h-3zm78 0h3v3h-3zm-186 3h3v3h-3zm60 0h3v3h-3zm-3 3h3v3h-3zm-54 3h3v3h-3zm51 0h3v3h-3zm60 0h3v3h-3zm-108 3h3v3h-3zm45 0h3v3h-3zm123 0h3v3h-3zm-165 3h3v3h-3zm33 0h3v3h-3zm78 0h3v3h-3zm-105 3h18v3h-18zm108 0h3v3h-3zm42 0h3v3h-3zm-36 3h3v3h-3zm30 0h3v3h-3zm-21 3h12v3h-12z"/>
<path fill="#9edbbb" d="M0 0m321 21h9v3h-9zm-6 3h3v3h-3zm18 0h3v3h-3zm-24 6h3v3h-3zm30 0h3v3h-3zm-33 6h3v3h-3zm42 15h3v3h-3zm-48 6h3v3h-3zm51 15h3v3h-3zm0 3h3v3h-3zm0 3h3v3h-3zm0 3h3v3h-3zm0 3h3v3h-3zm-132 9h9v3h-9zm-3 3h18v3h-18zm84 0h3v3h-3zm-84 3h6v3h-6zm12 0h9v3h-9zm120 0h3v3h-3zm-135 3h6v3h-6zm21 0h6v3h-6zm-21 3h6v3h-6zm24 0h6v3h-6zm108 0h3v3h-3zm-132 3h3v3h-3zm27 0h3v3h-3zm63 0h3v3h-3zm-90 3h3v3h-3zm30 0h3v3h-3zm60 0h3v3h-3zm39 0h3v3h-3zm-132 3h3v3h-3zm36 0h3v3h-3zm3 3h3v3h-3zm-42 3h3v3h-3zm45 0h3v3h-3zm54 0h3v3h-3zm30 0h3v3h-3zm-30 3h3v3h-3zm27 0h3v3h-3zm-129 3h3v3h-3zm102 0h3v3h-3zm24 0h3v3h-3zm-72 3h3v3h-3zm48 0h3v3h-3zm24 0h3v3h-3zm-129 3h3v3h-3zm60 0h3v3h-3zm45 0h3v3h-3zm21 0h3v3h-3zm-21 3h3v3h-3zm21 0h3v3h-3zm-129 3h3v3h-3zm108 0h3v3h-3zm18 0h3v3h-3zm-57 3h3v3h-3zm39 0h3v3h-3zm18 0h3v3h-3zm-18 3h3v3h-3zm18 0h3v3h-3zm-129 3h3v3h-3zm75 0h3v3h-3zm36 0h3v3h-3zm18 0h3v3h-3zm-18 3h3v3h-3zm18 0h3v3h-3zm-51 3h3v3h-3zm33 0h3v3h-3zm15 0h3v3h-3zm-48 3h3v3h-3zm33 0h3v3h-3zm15 0h3v3h-3zm-12 3h3v3h-3zm12 0h3v3h-3zm-12 3h6v3h-6zm9 0h6v3h-6zm-126 3h3v3h-3zm120 0h9v3h-9zm-120 3h3v3h-3zm84 0h3v3h-3zm39 0h3v3h-3zm-123 3h3v3h-3zm84 0h3v3h-3zm-84 3h3v3h-3zm84 0h3v3h-3zm-84 3h3v3h-3zm84 0h3v3h-3zm-84 3h3v3h-3zm0 3h3v3h-3zm0 3h3v3h-3zm87 9h3v3h-3zm-84 6h3v3h-3zm120 0h9v3h-9zm-120 3h3v3h-3zm87 0h3v3h-3zm30 0h6v3h-6zm12 0h3v3h-3zm-18 3h6v3h-6zm21 0h3v3h-3zm-42 3h3v3h-3zm18 0h3v3h-3zm27 0h3v3h-3zm-42 3h15v3h-15zm45 3h3v3h-3zm-135 3h3v3h-3zm135 0h3v3h-3zm-135 3h3v3h-3zm135 0h3v3h-3zm-135 3h3v3h-3zm135 0h3v3h-3zm0 3h3v3h-3zm-3 9h3v3h-3zm-48 3h6v3h-6zm-81 3h3v3h-3zm75 0h3v3h-3zm12 0h6v3h-6zm39 0h3v3h-3zm-126 3h3v3h-3zm69 0h3v3h-3zm21 0h6v3h-6zm-90 3h3v3h-3zm66 0h3v3h-3zm27 0h3v3h-3zm30 0h3v3h-3zm-123 3h3v3h-3zm63 0h3v3h-3zm33 0h3v3h-3zm0 3h6v3h-6zm24 0h3v3h-3zm-117 3h3v3h-3zm57 0h3v3h-3zm39 0h3v3h-3zm-96 3h3v3h-3zm96 0h6v3h-6zm18 0h3v3h-3zm-111 3h3v3h-3zm51 0h3v3h-3zm45 0h3v3h-3zm12 0h6v3h-6zm-57 3h3v3h-3zm45 0h15v3h-15zm-93 3h3v3h-3zm48 0h3v3h-3zm48 0h9v3h-9zm-48 3h3v3h-3zm51 0h6v3h-6zm-96 3h3v3h-3zm45 0h3v3h-3zm0 3h3v3h-3zm-42 3h3v3h-3zm45 0h3v3h-3zm3 3h3v3h-3zm-45 3h3v3h-3zm48 0h6v3h-6zm9 3h9v3h-9zm-54 3h3v3h-3zm66 0h12v3h-12zm-66 3h3v3h-3zm75 0h9v3h-9zm-147 3h18v3h-18zm153 0h3v3h-3zm-162 3h3v3h-3zm30 0h3v3h-3zm132 0h3v3h-3zm-168 3h3v3h-3zm39 0h3v3h-3zm51 0h3v3h-3zm81 0h3v3h-3zm-177 3h3v3h-3zm48 0h3v3h-3zm48 0h3v3h-3zm81 0h3v3h-3zm-180 3h3v3h-3zm180 0h3v3h-3zm-126 3h3v3h-3zm126 0h3v3h-3zm-183 3h3v3h-3zm57 0h3v3h-3zm126 0h3v3h-3zm-183 3h3v3h-3zm57 0h3v3h-3zm48 0h3v3h-3zm78 0h3v3h-3zm-126 3h3v3h-3zm-57 3h3v3h-3zm108 0h3v3h-3zm72 0h3v3h-3zm-180 3h3v3h-3zm177 0h3v3h-3zm-3 3h3v3h-3zm-132 3h6v3h-6zm72 0h3v3h-3zm-105 3h3v3h-3zm21 0h9v3h-9zm135 0h3v3h-3z"/>
<path fill="#a3dcb3" d="M0 0m312 27h3v3h-3zm24 0h3v3h-3zm9 15h3v3h-3zm-42 3h3v3h-3zm45 9h3v3h-3zm-48 6h3v3h-3zm0 30h3v3h-3zm0 3h3v3h-3zm48 3h3v3h-3zm-126 3h6v3h-6zm-3 3h15v3h-15zm84 0h3v3h-3zm-84 3h6v3h-6zm12 0h6v3h-6zm72 0h3v3h-3zm-87 3h6v3h-6zm21 0h3v3h-3zm-21 3h3v3h-3zm24 0h3v3h-3zm-27 3h3v3h-3zm30 0h3v3h-3zm63 0h3v3h-3zm33 0h3v3h-3zm-129 3h3v3h-3zm36 0h3v3h-3zm60 0h3v3h-3zm30 0h3v3h-3zm-126 3h3v3h-3zm39 0h3v3h-3zm84 0h3v3h-3zm-126 3h3v3h-3zm45 0h3v3h-3zm57 0h3v3h-3zm21 0h3v3h-3zm-75 3h3v3h-3zm54 0h3v3h-3zm-105 3h3v3h-3zm105 0h3v3h-3zm18 0h3v3h-3zm-18 3h6v3h-6zm15 0h3v3h-3zm-63 3h3v3h-3zm48 0h6v3h-6zm12 0h6v3h-6zm-57 3h3v3h-3zm45 0h6v3h-6zm9 0h6v3h-6zm-120 3h3v3h-3zm111 0h15v3h-15zm-42 3h3v3h-3zm42 0h15v3h-15zm0 3h15v3h-15zm-114 3h3v3h-3zm75 0h3v3h-3zm39 0h15v3h-15zm-114 3h3v3h-3zm114 0h12v3h-12zm0 3h12v3h-12zm-36 3h3v3h-3zm39 0h9v3h-9zm3 3h3v3h-3zm-39 18h3v3h-3zm0 3h3v3h-3zm0 3h3v3h-3zm-81 12h3v3h-3zm84 0h3v3h-3zm39 6h6v3h-6zm-36 3h3v3h-3zm30 0h3v3h-3zm12 0h3v3h-3zm-18 3h6v3h-6zm21 0h3v3h-3zm-129 3h3v3h-3zm87 0h3v3h-3zm18 0h3v3h-3zm27 0h3v3h-3zm-132 3h3v3h-3zm90 0h15v3h-15zm0 3h9v3h-9zm42 12h3v3h-3zm-129 3h3v3h-3zm129 0h3v3h-3zm-129 3h3v3h-3zm81 0h9v3h-9zm-81 3h3v3h-3zm75 0h6v3h-6zm12 0h6v3h-6zm39 0h3v3h-3zm-54 3h3v3h-3zm21 0h3v3h-3zm30 0h3v3h-3zm-57 3h3v3h-3zm30 0h3v3h-3zm27 0h3v3h-3zm-120 3h3v3h-3zm60 0h3v3h-3zm33 0h3v3h-3zm24 0h3v3h-3zm-117 3h3v3h-3zm96 0h3v3h-3zm21 0h3v3h-3zm-117 3h3v3h-3zm57 0h3v3h-3zm42 0h3v3h-3zm15 0h3v3h-3zm-111 3h3v3h-3zm96 0h6v3h-6zm12 0h6v3h-6zm-108 3h3v3h-3zm51 0h3v3h-3zm48 0h12v3h-12zm0 3h9v3h-9zm-96 3h3v3h-3zm3 6h3v3h-3zm3 6h3v3h-3zm42 3h3v3h-3zm-39 3h3v3h-3zm42 0h3v3h-3zm3 3h3v3h-3zm-42 3h3v3h-3zm48 0h6v3h-6zm12 3h6v3h-6zm9 3h6v3h-6zm6 3h6v3h-6zm-153 3h3v3h-3zm24 0h3v3h-3zm57 0h3v3h-3zm75 0h3v3h-3zm-162 3h3v3h-3zm33 0h3v3h-3zm132 0h3v3h-3zm-171 3h3v3h-3zm42 0h3v3h-3zm129 0h3v3h-3zm-174 3h3v3h-3zm48 0h3v3h-3zm126 0h3v3h-3zm-177 3h3v3h-3zm102 0h3v3h-3zm-102 3h3v3h-3zm102 0h3v3h-3zm75 0h3v3h-3zm0 3h3v3h-3zm-180 3h3v3h-3zm180 0h3v3h-3zm-126 3h3v3h-3zm123 0h3v3h-3zm-174 3h3v3h-3zm48 0h3v3h-3zm60 0h3v3h-3zm63 0h3v3h-3zm-171 3h3v3h-3zm45 0h3v3h-3zm123 0h3v3h-3zm-165 3h3v3h-3zm33 0h3v3h-3zm129 0h3v3h-3zm-156 3h18v3h-18zm111 3h3v3h-3zm36 0h3v3h-3zm-30 3h3v3h-3zm24 0h3v3h-3z"/>
<path fill="#a8ddac" d="M0 0m318 24h3v3h-3zm12 0h3v3h-3zm12 12h3v3h-3zm-36 3h3v3h-3zm-3 9h3v3h-3zm45 9h3v3h-3zm-48 6h3v3h-3zm0 21h3v3h-3zm0 3h3v3h-3zm48 6h3v3h-3zm-45 6h3v3h-3zm42 3h3v3h-3zm-120 3h6v3h-6zm-3 3h15v3h-15zm84 0h3v3h-3zm36 0h3v3h-3zm-123 3h3v3h-3zm18 0h3v3h-3zm69 0h3v3h-3zm33 0h3v3h-3zm-123 3h3v3h-3zm24 0h3v3h-3zm-27 3h3v3h-3zm96 0h3v3h-3zm0 3h3v3h-3zm3 3h3v3h-3zm15 0h3v3h-3zm-120 3h3v3h-3zm105 0h6v3h-6zm12 0h6v3h-6zm-69 3h3v3h-3zm57 0h15v3h-15zm-54 3h3v3h-3zm57 0h9v3h-9zm-114 3h3v3h-3zm114 0h6v3h-6zm0 3h3v3h-3zm-51 3h3v3h-3zm-66 3h3v3h-3zm69 3h3v3h-3zm3 6h3v3h-3zm-75 3h3v3h-3zm78 6h3v3h-3zm0 3h3v3h-3zm0 3h3v3h-3zm3 21h3v3h-3zm-81 3h3v3h-3zm81 0h3v3h-3zm-81 3h3v3h-3zm84 6h3v3h-3zm0 3h3v3h-3zm36 3h9v3h-9zm-117 3h3v3h-3zm84 0h3v3h-3zm30 0h3v3h-3zm12 0h3v3h-3zm-42 3h3v3h-3zm24 0h6v3h-6zm21 0h3v3h-3zm-42 3h3v3h-3zm18 0h3v3h-3zm27 0h3v3h-3zm-45 3h3v3h-3zm12 0h6v3h-6zm33 0h3v3h-3zm-45 3h15v3h-15zm45 0h3v3h-3zm-129 3h3v3h-3zm87 0h9v3h-9zm42 0h3v3h-3zm-129 3h3v3h-3zm84 0h9v3h-9zm45 0h3v3h-3zm-129 3h3v3h-3zm84 0h9v3h-9zm-3 3h15v3h-15zm45 0h3v3h-3zm-51 3h6v3h-6zm15 0h6v3h-6zm36 0h3v3h-3zm-54 3h3v3h-3zm21 0h6v3h-6zm30 0h3v3h-3zm-120 3h3v3h-3zm66 0h3v3h-3zm27 0h3v3h-3zm-93 3h3v3h-3zm96 0h3v3h-3zm21 0h3v3h-3zm-21 3h6v3h-6zm18 0h3v3h-3zm-57 3h3v3h-3zm42 0h6v3h-6zm12 0h6v3h-6zm-108 3h3v3h-3zm51 0h3v3h-3zm48 0h12v3h-12zm-48 3h3v3h-3zm51 0h6v3h-6zm-99 3h3v3h-3zm0 3h3v3h-3zm45 0h3v3h-3zm0 3h3v3h-3zm-42 3h3v3h-3zm42 0h3v3h-3zm0 3h3v3h-3zm-39 3h3v3h-3zm39 0h3v3h-3zm0 3h3v3h-3zm-36 3h3v3h-3zm39 3h3v3h-3zm3 3h3v3h-3zm6 3h3v3h-3zm9 3h6v3h-6zm-51 3h3v3h-3zm60 0h6v3h-6zm-60 3h3v3h-3zm69 0h3v3h-3zm-147 3h21v3h-21zm150 0h3v3h-3zm-156 3h3v3h-3zm27 0h3v3h-3zm132 0h3v3h-3zm-165 3h3v3h-3zm165 0h3v3h-3zm-168 3h3v3h-3zm96 0h3v3h-3zm-99 3h3v3h-3zm48 0h3v3h-3zm126 0h3v3h-3zm-126 3h3v3h-3zm-51 3h3v3h-3zm51 0h3v3h-3zm-51 3h3v3h-3zm51 0h3v3h-3zm54 0h3v3h-3zm69 0h3v3h-3zm-174 3h3v3h-3zm48 0h3v3h-3zm-3 3h3v3h-3zm-42 3h3v3h-3zm36 0h6v3h-6zm72 0h3v3h-3zm-105 3h6v3h-6zm21 0h9v3h-9zm87 0h3v3h-3zm3 3h3v3h-3zm42 0h3v3h-3zm-30 6h3v3h-3zm18 0h3v3h-3z"/>
<path fill="#addea4" d="M0 0m321 24h3v3h-3zm6 0h3v3h-3zm-18 9h3v3h-3zm30 0h3v3h-3zm6 12h3v3h-3zm3 15h3v3h-3zm-48 6h3v3h-3zm0 3h3v3h-3zm0 3h3v3h-3zm0 3h3v3h-3zm0 3h3v3h-3zm0 3h3v3h-3zm48 6h3v3h-3zm0 3h3v3h-3zm-45 6h3v3h-3zm42 3h3v3h-3zm-39 6h3v3h-3zm36 0h3v3h-3zm-120 6h15v3h-15zm87 0h3v3h-3zm-90 3h6v3h-6zm18 0h3v3h-3zm72 0h3v3h-3zm27 0h3v3h-3zm-120 3h3v3h-3zm27 0h3v3h-3zm69 0h3v3h-3zm21 0h3v3h-3zm-120 3h3v3h-3zm33 0h3v3h-3zm66 0h3v3h-3zm18 0h3v3h-3zm-120 3h3v3h-3zm39 0h3v3h-3zm66 0h12v3h-12zm-63 3h3v3h-3zm66 0h6v3h-6zm-111 3h3v3h-3zm-3 3h3v3h-3zm-3 6h3v3h-3zm60 0h3v3h-3zm-63 9h3v3h-3zm72 9h3v3h-3zm-75 3h3v3h-3zm0 3h3v3h-3zm0 3h3v3h-3zm78 6h3v3h-3zm0 3h3v3h-3zm-78 12h3v3h-3zm0 3h3v3h-3zm81 6h3v3h-3zm-78 9h3v3h-3zm0 3h3v3h-3zm81 0h3v3h-3zm36 3h9v3h-9zm-3 3h6v3h-6zm12 0h3v3h-3zm-42 3h3v3h-3zm24 0h6v3h-6zm21 0h3v3h-3zm-45 3h3v3h-3zm21 0h6v3h-6zm24 0h3v3h-3zm-126 3h3v3h-3zm81 0h3v3h-3zm18 0h6v3h-6zm-18 3h6v3h-6zm15 0h6v3h-6zm-15 3h3v3h-3zm12 0h6v3h-6zm33 0h3v3h-3zm-48 3h6v3h-6zm15 0h6v3h-6zm33 0h3v3h-3zm-51 3h6v3h-6zm21 0h3v3h-3zm-93 3h3v3h-3zm69 0h3v3h-3zm24 0h6v3h-6zm27 0h3v3h-3zm-120 3h3v3h-3zm66 0h3v3h-3zm30 0h3v3h-3zm-33 3h3v3h-3zm33 0h6v3h-6zm21 0h3v3h-3zm-57 3h3v3h-3zm39 0h6v3h-6zm15 0h3v3h-3zm-111 3h3v3h-3zm54 0h3v3h-3zm45 0h12v3h-12zm-99 3h3v3h-3zm102 0h6v3h-6zm-99 6h3v3h-3zm45 3h3v3h-3zm-42 3h3v3h-3zm0 3h3v3h-3zm3 6h3v3h-3zm3 6h3v3h-3zm36 3h3v3h-3zm0 3h3v3h-3zm-33 3h3v3h-3zm36 0h3v3h-3zm6 3h3v3h-3zm-39 3h3v3h-3zm45 0h6v3h-6zm12 3h3v3h-3zm6 3h6v3h-6zm6 3h3v3h-3zm-150 3h3v3h-3zm21 0h3v3h-3zm63 0h3v3h-3zm69 0h3v3h-3zm-159 3h3v3h-3zm33 0h3v3h-3zm57 0h3v3h-3zm-93 3h3v3h-3zm39 0h3v3h-3zm126 0h3v3h-3zm-168 3h3v3h-3zm42 0h3v3h-3zm126 0h3v3h-3zm-171 3h3v3h-3zm171 0h3v3h-3zm-171 3h3v3h-3zm102 0h3v3h-3zm69 0h3v3h-3zm-126 3h3v3h-3zm-45 3h3v3h-3zm105 0h3v3h-3zm63 0h3v3h-3zm-168 3h3v3h-3zm39 0h3v3h-3zm126 0h3v3h-3zm-162 3h3v3h-3zm30 0h3v3h-3zm129 0h3v3h-3zm-153 3h15v3h-15zm150 0h3v3h-3zm-39 6h3v3h-3zm30 0h3v3h-3zm-21 3h3v3h-3zm12 0h3v3h-3z"/>
<path fill="#b3df9b" d="M0 0m324 24h3v3h-3zm-9 3h3v3h-3zm18 0h3v3h-3zm-21 3h3v3h-3zm24 0h3v3h-3zm6 9h3v3h-3zm-36 3h3v3h-3zm39 6h3v3h-3zm-42 3h3v3h-3zm45 12h3v3h-3zm0 3h3v3h-3zm0 3h3v3h-3zm0 9h3v3h-3zm0 3h3v3h-3zm0 3h3v3h-3zm-45 9h3v3h-3zm42 3h3v3h-3zm-39 6h3v3h-3zm3 6h3v3h-3zm30 0h3v3h-3zm-3 3h3v3h-3zm-111 3h12v3h-12zm87 0h3v3h-3zm21 0h3v3h-3zm-114 3h6v3h-6zm18 0h6v3h-6zm78 0h3v3h-3zm15 0h3v3h-3zm-114 3h3v3h-3zm27 0h3v3h-3zm72 0h15v3h-15zm-102 3h3v3h-3zm33 0h3v3h-3zm-36 3h3v3h-3zm39 0h3v3h-3zm3 3h3v3h-3zm3 3h3v3h-3zm-51 3h3v3h-3zm54 0h3v3h-3zm-57 6h3v3h-3zm63 3h3v3h-3zm-66 6h3v3h-3zm69 0h3v3h-3zm3 9h3v3h-3zm-75 9h3v3h-3zm0 3h3v3h-3zm0 3h3v3h-3zm0 3h3v3h-3zm78 0h3v3h-3zm-78 3h3v3h-3zm78 0h3v3h-3zm-78 3h3v3h-3zm78 0h3v3h-3zm3 15h3v3h-3zm-78 3h3v3h-3zm78 0h3v3h-3zm3 9h3v3h-3zm0 3h3v3h-3zm39 0h6v3h-6zm-117 3h3v3h-3zm78 0h3v3h-3zm33 0h6v3h-6zm9 0h6v3h-6zm-120 3h3v3h-3zm108 0h3v3h-3zm15 0h3v3h-3zm-18 3h3v3h-3zm21 0h3v3h-3zm-48 3h3v3h-3zm24 0h3v3h-3zm24 0h3v3h-3zm-48 3h3v3h-3zm21 0h6v3h-6zm-96 3h3v3h-3zm72 0h3v3h-3zm24 0h6v3h-6zm24 0h3v3h-3zm-120 3h3v3h-3zm96 0h6v3h-6zm24 0h3v3h-3zm-21 3h3v3h-3zm18 0h3v3h-3zm-18 3h6v3h-6zm15 0h6v3h-6zm-111 3h3v3h-3zm99 0h15v3h-15zm-99 3h3v3h-3zm102 0h9v3h-9zm-99 6h3v3h-3zm48 0h3v3h-3zm-48 3h3v3h-3zm45 3h3v3h-3zm-42 3h3v3h-3zm39 6h3v3h-3zm-36 3h3v3h-3zm36 0h3v3h-3zm0 3h3v3h-3zm-33 3h3v3h-3zm33 0h3v3h-3zm0 3h3v3h-3zm0 3h3v3h-3zm-30 3h3v3h-3zm33 3h3v3h-3zm-30 3h3v3h-3zm33 0h6v3h-6zm9 3h3v3h-3zm9 3h6v3h-6zm9 3h3v3h-3zm-57 3h3v3h-3zm63 0h3v3h-3zm-144 3h18v3h-18zm147 0h3v3h-3zm-153 3h3v3h-3zm27 0h3v3h-3zm129 0h3v3h-3zm-126 3h3v3h-3zm126 0h3v3h-3zm-66 3h3v3h-3zm66 0h3v3h-3zm-165 3h3v3h-3zm42 0h3v3h-3zm57 0h3v3h-3zm-57 3h3v3h-3zm123 0h3v3h-3zm-168 3h3v3h-3zm105 0h3v3h-3zm63 0h3v3h-3zm-126 3h3v3h-3zm-39 3h3v3h-3zm33 0h3v3h-3zm72 0h3v3h-3zm-102 3h6v3h-6zm15 0h12v3h-12zm111 12h9v3h-9z"/>
<path fill="#bae091" d="M0 0m309 36h3v3h-3zm-6 18h3v3h-3zm45 18h3v3h-3zm0 3h3v3h-3zm-45 12h3v3h-3zm0 3h3v3h-3zm42 3h3v3h-3zm-39 6h3v3h-3zm36 3h3v3h-3zm-33 3h3v3h-3zm30 0h3v3h-3zm-27 6h3v3h-3zm3 3h3v3h-3zm15 0h3v3h-3zm-105 3h12v3h-12zm93 0h12v3h-12zm-99 3h3v3h-3zm21 0h3v3h-3zm-24 3h3v3h-3zm-3 3h3v3h-3zm-3 3h3v3h-3zm-3 3h3v3h-3zm-3 6h3v3h-3zm57 3h3v3h-3zm-60 3h3v3h-3zm63 3h3v3h-3zm-66 6h3v3h-3zm69 0h3v3h-3zm-69 3h3v3h-3zm72 6h3v3h-3zm0 3h3v3h-3zm3 21h3v3h-3zm0 3h3v3h-3zm-75 9h3v3h-3zm78 6h3v3h-3zm0 3h3v3h-3zm-75 6h3v3h-3zm117 3h3v3h-3zm-39 3h3v3h-3zm33 0h12v3h-12zm-33 3h3v3h-3zm30 0h6v3h-6zm12 0h6v3h-6zm-15 3h6v3h-6zm18 0h3v3h-3zm-120 3h3v3h-3zm72 0h3v3h-3zm30 0h6v3h-6zm15 0h6v3h-6zm-15 3h6v3h-6zm15 0h3v3h-3zm-48 3h3v3h-3zm33 0h6v3h-6zm12 0h6v3h-6zm-111 3h3v3h-3zm63 0h3v3h-3zm36 0h15v3h-15zm-99 3h3v3h-3zm60 0h3v3h-3zm42 0h9v3h-9zm-45 3h3v3h-3zm-3 3h3v3h-3zm-51 3h3v3h-3zm48 0h3v3h-3zm-3 6h3v3h-3zm-42 3h3v3h-3zm39 3h3v3h-3zm0 3h3v3h-3zm-36 3h3v3h-3zm3 6h3v3h-3zm3 9h3v3h-3zm30 3h3v3h-3zm0 3h3v3h-3zm3 3h3v3h-3zm6 3h6v3h-6zm-33 3h3v3h-3zm45 0h3v3h-3zm-45 3h3v3h-3zm54 0h3v3h-3zm6 3h3v3h-3zm3 3h3v3h-3zm-147 3h6v3h-6zm21 0h3v3h-3zm66 0h3v3h-3zm63 0h3v3h-3zm-156 3h3v3h-3zm30 0h3v3h-3zm63 0h3v3h-3zm-96 3h3v3h-3zm36 0h3v3h-3zm0 3h3v3h-3zm126 0h3v3h-3zm-165 3h3v3h-3zm39 0h3v3h-3zm63 0h3v3h-3zm-102 3h3v3h-3zm39 0h3v3h-3zm-39 3h3v3h-3zm36 0h3v3h-3zm126 0h3v3h-3zm-159 3h6v3h-6zm24 0h6v3h-6zm132 0h3v3h-3zm-150 3h9v3h-9zm99 0h3v3h-3zm3 3h3v3h-3zm42 0h3v3h-3zm-39 3h3v3h-3zm36 0h3v3h-3zm-30 3h3v3h-3zm24 0h3v3h-3z"/>
<path fill="#c1e287" d="M0 0m318 27h3v3h-3zm12 0h3v3h-3zm9 9h3v3h-3zm3 6h3v3h-3zm-36 3h3v3h-3zm39 6h3v3h-3zm-42 6h3v3h-3zm0 27h3v3h-3zm42 6h3v3h-3zm-39 6h3v3h-3zm36 3h3v3h-3zm-33 3h3v3h-3zm3 6h3v3h-3zm24 0h3v3h-3zm-21 3h3v3h-3zm18 0h3v3h-3zm-15 3h12v3h-12zm-96 6h9v3h-9zm12 0h6v3h-6zm-15 3h3v3h-3zm24 0h3v3h-3zm3 3h3v3h-3zm3 3h3v3h-3zm3 3h3v3h-3zm-45 3h3v3h-3zm48 0h3v3h-3zm3 3h3v3h-3zm-57 9h3v3h-3zm66 9h3v3h-3zm-69 3h3v3h-3zm72 9h3v3h-3zm0 3h3v3h-3zm-72 21h3v3h-3zm75 0h3v3h-3zm-75 3h3v3h-3zm75 0h3v3h-3zm-72 12h3v3h-3zm0 3h3v3h-3zm75 0h3v3h-3zm0 3h3v3h-3zm-72 9h3v3h-3zm72 0h3v3h-3zm39 0h6v3h-6zm-111 3h3v3h-3zm72 0h3v3h-3zm36 0h12v3h-12zm0 3h9v3h-9zm-39 3h3v3h-3zm39 0h9v3h-9zm-105 3h3v3h-3zm63 0h3v3h-3zm42 0h6v3h-6zm-45 3h3v3h-3zm-3 3h3v3h-3zm-54 3h3v3h-3zm51 0h3v3h-3zm-51 3h3v3h-3zm3 6h3v3h-3zm42 0h3v3h-3zm-42 3h3v3h-3zm39 3h3v3h-3zm-36 3h3v3h-3zm0 3h3v3h-3zm3 6h3v3h-3zm30 0h3v3h-3zm0 3h3v3h-3zm0 3h3v3h-3zm-27 3h3v3h-3zm27 0h3v3h-3zm0 3h3v3h-3zm0 3h3v3h-3zm-24 3h3v3h-3zm27 3h3v3h-3zm-24 3h3v3h-3zm27 0h6v3h-6zm12 3h6v3h-6zm12 3h3v3h-3zm-48 3h3v3h-3zm54 0h3v3h-3zm-54 3h3v3h-3zm57 0h3v3h-3zm-138 3h15v3h-15zm141 0h3v3h-3zm-150 3h6v3h-6zm24 0h3v3h-3zm129 0h3v3h-3zm-156 3h3v3h-3zm30 0h3v3h-3zm126 0h3v3h-3zm-159 3h3v3h-3zm33 0h3v3h-3zm66 0h3v3h-3zm60 0h3v3h-3zm-159 3h3v3h-3zm33 0h3v3h-3zm126 0h3v3h-3zm-159 3h3v3h-3zm33 0h3v3h-3zm126 0h3v3h-3zm-159 3h6v3h-6zm27 0h6v3h-6zm75 0h3v3h-3zm-96 3h18v3h-18zm147 3h3v3h-3z"/>
<path fill="#c8e37d" d="M0 0m321 27h3v3h-3zm6 0h3v3h-3zm-12 3h3v3h-3zm18 0h3v3h-3zm-21 3h3v3h-3zm24 0h3v3h-3zm-27 6h3v3h-3zm36 15h3v3h-3zm-42 6h3v3h-3zm0 3h3v3h-3zm0 15h3v3h-3zm0 3h3v3h-3zm42 6h3v3h-3zm-39 6h3v3h-3zm36 3h3v3h-3zm-33 3h3v3h-3zm30 3h3v3h-3zm-27 3h3v3h-3zm24 0h3v3h-3zm-21 3h3v3h-3zm18 0h3v3h-3zm-15 3h3v3h-3zm12 0h3v3h-3zm-99 9h3v3h-3zm-9 3h3v3h-3zm15 0h6v3h-6zm-21 3h3v3h-3zm27 0h3v3h-3zm-30 3h3v3h-3zm-3 3h3v3h-3zm-6 9h3v3h-3zm54 0h3v3h-3zm3 3h3v3h-3zm-60 6h3v3h-3zm63 0h3v3h-3zm3 9h3v3h-3zm-69 3h3v3h-3zm0 3h3v3h-3zm72 9h3v3h-3zm0 3h3v3h-3zm-72 9h3v3h-3zm0 3h3v3h-3zm75 9h3v3h-3zm0 3h3v3h-3zm-72 3h3v3h-3zm75 12h3v3h-3zm-72 3h3v3h-3zm72 0h3v3h-3zm-3 9h3v3h-3zm-66 3h3v3h-3zm3 9h3v3h-3zm48 6h3v3h-3zm-45 3h3v3h-3zm42 0h3v3h-3zm-3 6h3v3h-3zm-36 3h3v3h-3zm33 6h3v3h-3zm-30 3h3v3h-3zm30 0h3v3h-3zm-27 9h3v3h-3zm3 9h3v3h-3zm24 3h3v3h-3zm-21 3h3v3h-3zm21 0h3v3h-3zm3 3h3v3h-3zm9 3h6v3h-6zm-30 3h3v3h-3zm42 0h6v3h-6zm9 3h3v3h-3zm-135 9h6v3h-6zm12 0h6v3h-6zm75 0h3v3h-3zm57 0h3v3h-3zm-150 3h6v3h-6zm24 0h3v3h-3zm69 0h3v3h-3zm-96 3h6v3h-6zm27 0h3v3h-3zm-27 3h3v3h-3zm27 0h3v3h-3zm-27 3h6v3h-6zm24 0h6v3h-6zm75 0h3v3h-3zm-96 3h21v3h-21zm150 0h3v3h-3zm-51 3h3v3h-3zm9 9h3v3h-3zm30 0h3v3h-3zm-24 3h3v3h-3zm18 0h3v3h-3z"/>
<path fill="#cfe474" d="M0 0m324 27h3v3h-3zm18 18h3v3h-3zm-36 3h3v3h-3zm39 9h3v3h-3zm0 3h3v3h-3zm-42 6h3v3h-3zm0 3h3v3h-3zm0 3h3v3h-3zm0 3h3v3h-3zm42 9h3v3h-3zm-39 6h3v3h-3zm3 6h3v3h-3zm3 6h3v3h-3zm3 3h3v3h-3zm3 3h3v3h-3zm12 0h3v3h-3zm-9 3h9v3h-9zm-96 12h12v3h-12zm-6 3h3v3h-3zm27 3h3v3h-3zm3 3h3v3h-3zm3 3h3v3h-3zm-45 3h3v3h-3zm48 0h3v3h-3zm-51 6h3v3h-3zm57 3h3v3h-3zm-60 6h3v3h-3zm63 0h3v3h-3zm3 9h3v3h-3zm-69 6h3v3h-3zm0 3h3v3h-3zm0 3h3v3h-3zm0 3h3v3h-3zm0 3h3v3h-3zm72 0h3v3h-3zm-72 3h3v3h-3zm72 0h3v3h-3zm-69 18h3v3h-3zm72 3h3v3h-3zm0 3h3v3h-3zm-69 9h3v3h-3zm69 6h3v3h-3zm0 3h3v3h-3zm-66 3h3v3h-3zm63 3h3v3h-3zm-3 3h3v3h-3zm-57 3h3v3h-3zm54 0h3v3h-3zm-3 3h3v3h-3zm-3 3h3v3h-3zm-45 3h3v3h-3zm3 6h3v3h-3zm36 0h3v3h-3zm-36 3h3v3h-3zm33 3h3v3h-3zm0 3h3v3h-3zm-30 3h3v3h-3zm3 9h3v3h-3zm24 3h3v3h-3zm0 3h3v3h-3zm-21 3h3v3h-3zm21 0h3v3h-3zm0 3h3v3h-3zm-18 3h3v3h-3zm18 0h3v3h-3zm0 3h3v3h-3zm3 3h3v3h-3zm-18 3h3v3h-3zm21 0h9v3h-9zm18 3h3v3h-3zm-36 3h3v3h-3zm45 0h3v3h-3zm-45 3h3v3h-3zm51 0h3v3h-3zm-51 3h3v3h-3zm54 0h3v3h-3zm-135 3h6v3h-6zm-6 3h6v3h-6zm12 0h6v3h-6zm132 0h3v3h-3zm-147 3h3v3h-3zm18 0h3v3h-3zm129 0h3v3h-3zm-150 3h6v3h-6zm21 0h3v3h-3zm75 0h3v3h-3zm54 0h3v3h-3zm-147 3h18v3h-18zm147 0h3v3h-3zm-3 6h3v3h-3zm-45 3h3v3h-3zm42 0h3v3h-3zm-39 3h3v3h-3zm36 0h3v3h-3zm-24 6h3v3h-3zm12 0h3v3h-3z"/>
<path fill="#d6e66a" d="M0 0m318 30h3v3h-3zm-6 6h3v3h-3zm27 3h3v3h-3zm-33 12h3v3h-3zm39 12h3v3h-3zm0 3h3v3h-3zm0 3h3v3h-3zm0 3h3v3h-3zm0 3h3v3h-3zm0 3h3v3h-3zm0 3h3v3h-3zm-39 6h3v3h-3zm36 6h3v3h-3zm-30 6h3v3h-3zm27 0h3v3h-3zm-3 3h3v3h-3zm-3 3h3v3h-3zm-12 3h9v3h-9zm-99 18h3v3h-3zm15 0h6v3h-6zm-21 3h3v3h-3zm-3 3h3v3h-3zm-3 3h3v3h-3zm48 9h3v3h-3zm-54 3h3v3h-3zm-3 9h3v3h-3zm63 0h3v3h-3zm3 9h3v3h-3zm3 21h3v3h-3zm0 3h3v3h-3zm0 3h3v3h-3zm-69 6h3v3h-3zm72 12h3v3h-3zm-69 3h3v3h-3zm69 0h3v3h-3zm0 3h3v3h-3zm0 3h3v3h-3zm-66 6h3v3h-3zm63 3h3v3h-3zm-60 6h3v3h-3zm3 9h3v3h-3zm42 3h3v3h-3zm-39 3h3v3h-3zm36 0h3v3h-3zm-3 6h3v3h-3zm-30 3h3v3h-3zm0 3h3v3h-3zm27 6h3v3h-3zm-24 3h3v3h-3zm24 0h3v3h-3zm0 3h3v3h-3zm-21 6h3v3h-3zm3 6h3v3h-3zm3 9h3v3h-3zm15 0h3v3h-3zm-12 3h3v3h-3zm12 0h6v3h-6zm-12 3h3v3h-3zm27 0h9v3h-9zm15 3h3v3h-3zm6 3h3v3h-3zm-45 3h3v3h-3zm48 0h3v3h-3zm-48 3h3v3h-3zm51 0h3v3h-3zm-135 3h6v3h-6zm84 0h3v3h-3zm-90 3h15v3h-15zm90 0h3v3h-3zm-90 3h15v3h-15zm93 6h3v3h-3zm48 0h3v3h-3zm-36 12h3v3h-3zm24 0h3v3h-3zm-15 3h9v3h-9z"/>
<path fill="#dde760" d="M0 0m330 30h3v3h-3zm-15 3h3v3h-3zm21 3h3v3h-3zm-27 6h3v3h-3zm33 6h3v3h-3zm-36 36h3v3h-3zm36 6h3v3h-3zm-33 3h3v3h-3zm30 3h3v3h-3zm-24 6h3v3h-3zm3 3h6v3h-6zm12 0h3v3h-3zm-105 21h12v3h-12zm-6 3h3v3h-3zm24 0h3v3h-3zm3 3h3v3h-3zm-36 6h3v3h-3zm-3 3h3v3h-3zm48 0h3v3h-3zm-51 9h3v3h-3zm57 0h3v3h-3zm-60 9h3v3h-3zm0 3h3v3h-3zm66 6h3v3h-3zm0 3h3v3h-3zm-66 21h3v3h-3zm0 3h3v3h-3zm69 0h3v3h-3zm-66 15h3v3h-3zm3 12h3v3h-3zm63 3h3v3h-3zm-60 6h3v3h-3zm57 0h3v3h-3zm-3 3h3v3h-3zm-3 3h3v3h-3zm-48 3h3v3h-3zm45 0h3v3h-3zm-42 6h3v3h-3zm33 6h3v3h-3zm-30 3h3v3h-3zm27 6h3v3h-3zm-24 3h3v3h-3zm24 0h3v3h-3zm-24 3h3v3h-3zm3 9h3v3h-3zm18 6h3v3h-3zm0 3h3v3h-3zm0 3h3v3h-3zm-12 3h3v3h-3zm12 0h3v3h-3zm-9 3h3v3h-3zm6 0h6v3h-6zm-3 3h9v3h-9zm0 3h24v3h-24zm0 3h6v3h-6zm36 0h3v3h-3zm-36 3h3v3h-3zm42 0h3v3h-3zm9 9h3v3h-3zm0 3h3v3h-3zm0 3h3v3h-3zm-48 3h3v3h-3zm48 0h3v3h-3zm-45 6h3v3h-3zm42 0h3v3h-3zm-6 6h3v3h-3z"/>
<path fill="#e3e857" d="M0 0m321 30h9v3h-9zm12 3h3v3h-3zm6 9h3v3h-3zm3 9h3v3h-3zm-36 3h3v3h-3zm0 27h3v3h-3zm36 6h3v3h-3zm-33 3h3v3h-3zm30 3h3v3h-3zm-27 3h3v3h-3zm3 3h3v3h-3zm21 0h3v3h-3zm-18 3h3v3h-3zm15 0h3v3h-3zm-9 3h6v3h-6zm-102 24h3v3h-3zm18 0h3v3h-3zm-24 3h3v3h-3zm-3 3h3v3h-3zm36 0h3v3h-3zm3 3h3v3h-3zm-45 6h3v3h-3zm51 3h3v3h-3zm6 12h3v3h-3zm-63 6h3v3h-3zm0 3h3v3h-3zm66 6h3v3h-3zm0 3h3v3h-3zm-66 9h3v3h-3zm0 3h3v3h-3zm69 9h3v3h-3zm0 3h3v3h-3zm-66 3h3v3h-3zm66 0h3v3h-3zm-66 3h3v3h-3zm3 12h3v3h-3zm63 0h3v3h-3zm0 3h3v3h-3zm-60 6h3v3h-3zm57 0h3v3h-3zm-54 9h3v3h-3zm3 6h3v3h-3zm39 0h3v3h-3zm-3 3h3v3h-3zm-33 3h3v3h-3zm0 3h3v3h-3zm27 6h3v3h-3zm-24 3h3v3h-3zm3 12h3v3h-3zm18 0h3v3h-3zm0 3h3v3h-3zm0 3h3v3h-3zm-15 3h3v3h-3zm3 6h3v3h-3zm9 0h3v3h-3zm-6 3h9v3h-9zm3 3h3v3h-3zm6 9h12v3h-12zm24 0h6v3h-6zm-27 3h6v3h-6zm36 0h3v3h-3zm-36 3h3v3h-3zm42 0h3v3h-3zm-42 3h3v3h-3zm45 0h3v3h-3zm-45 3h3v3h-3zm0 3h3v3h-3zm0 3h3v3h-3zm6 12h3v3h-3zm36 0h3v3h-3zm-33 3h3v3h-3zm6 3h3v3h-3zm18 0h3v3h-3z"/>
<path fill="#e9e950" d="M0 0m312 39h3v3h-3zm-3 6h3v3h-3zm33 9h3v3h-3zm-36 3h3v3h-3zm0 3h3v3h-3zm0 15h3v3h-3zm0 3h3v3h-3zm36 6h3v3h-3zm-33 3h3v3h-3zm3 6h3v3h-3zm24 3h3v3h-3zm-3 3h3v3h-3zm-12 3h12v3h-12zm-96 27h15v3h-15zm-6 3h3v3h-3zm24 0h3v3h-3zm-33 9h3v3h-3zm45 3h3v3h-3zm-48 3h3v3h-3zm-3 6h3v3h-3zm57 0h3v3h-3zm-57 3h3v3h-3zm60 6h3v3h-3zm-63 9h3v3h-3zm0 3h3v3h-3zm0 3h3v3h-3zm0 3h3v3h-3zm66 0h3v3h-3zm-66 3h3v3h-3zm66 0h3v3h-3zm-63 18h3v3h-3zm66 6h3v3h-3zm0 3h3v3h-3zm0 3h3v3h-3zm-63 3h3v3h-3zm63 0h3v3h-3zm-60 9h3v3h-3zm57 0h3v3h-3zm-3 6h3v3h-3zm-51 3h3v3h-3zm48 0h3v3h-3zm-3 3h3v3h-3zm-42 3h3v3h-3zm3 6h3v3h-3zm30 3h3v3h-3zm-27 6h3v3h-3zm24 0h3v3h-3zm-24 3h3v3h-3zm21 9h3v3h-3zm-18 3h3v3h-3zm18 0h3v3h-3zm-15 9h3v3h-3zm12 3h3v3h-3zm-9 3h3v3h-3zm9 0h3v3h-3zm-6 3h6v3h-6zm21 15h12v3h-12zm-9 3h3v3h-3zm27 0h3v3h-3zm-30 3h3v3h-3zm36 0h3v3h-3zm3 3h3v3h-3zm3 3h3v3h-3zm0 3h3v3h-3zm0 6h3v3h-3zm-42 3h3v3h-3zm42 0h3v3h-3z"/>
<path fill="#efea49" d="M0 0m318 33h3v3h-3zm12 0h3v3h-3zm-15 3h3v3h-3zm21 3h3v3h-3zm3 6h3v3h-3zm-30 3h3v3h-3zm33 9h3v3h-3zm-36 6h3v3h-3zm0 3h3v3h-3zm0 3h3v3h-3zm0 3h3v3h-3zm36 6h3v3h-3zm0 3h3v3h-3zm-33 3h3v3h-3zm30 6h3v3h-3zm-24 6h3v3h-3zm3 3h3v3h-3zm-96 33h3v3h-3zm18 0h3v3h-3zm-24 3h3v3h-3zm30 0h3v3h-3zm-33 3h3v3h-3zm36 0h3v3h-3zm3 3h3v3h-3zm6 9h3v3h-3zm3 6h3v3h-3zm-57 3h3v3h-3zm60 6h3v3h-3zm3 21h3v3h-3zm0 3h3v3h-3zm-63 9h3v3h-3zm3 15h3v3h-3zm60 9h3v3h-3zm-3 6h3v3h-3zm-51 3h3v3h-3zm3 6h3v3h-3zm39 3h3v3h-3zm-3 3h3v3h-3zm-3 3h3v3h-3zm-27 6h3v3h-3zm24 0h3v3h-3zm-3 9h3v3h-3zm-18 3h3v3h-3zm18 0h3v3h-3zm-18 3h3v3h-3zm3 9h3v3h-3zm12 0h3v3h-3zm0 3h3v3h-3zm-9 3h3v3h-3zm6 0h3v3h-3zm-3 3h6v3h-6zm15 21h6v3h-6zm21 0h3v3h-3zm-24 3h3v3h-3zm30 0h3v3h-3zm-33 3h3v3h-3zm0 3h3v3h-3zm0 3h3v3h-3zm0 3h3v3h-3zm42 0h3v3h-3zm-42 3h3v3h-3zm3 6h3v3h-3zm36 0h3v3h-3zm-3 3h3v3h-3zm-27 3h3v3h-3zm24 0h3v3h-3zm-18 3h3v3h-3zm12 0h3v3h-3z"/>
<path fill="#f5ea42" d="M0 0m321 33h3v3h-3zm12 3h3v3h-3zm-21 6h3v3h-3zm30 18h3v3h-3zm0 3h3v3h-3zm0 3h3v3h-3zm0 3h3v3h-3zm0 3h3v3h-3zm0 3h3v3h-3zm-3 12h3v3h-3zm-27 3h3v3h-3zm3 3h3v3h-3zm21 0h3v3h-3zm-18 3h3v3h-3zm15 0h3v3h-3zm-12 3h12v3h-12zm-96 33h3v3h-3zm12 0h3v3h-3zm-18 3h3v3h-3zm24 0h3v3h-3zm-30 6h3v3h-3zm-3 3h3v3h-3zm45 3h3v3h-3zm-48 3h3v3h-3zm54 9h3v3h-3zm-57 3h3v3h-3zm60 6h3v3h-3zm0 3h3v3h-3zm-60 21h3v3h-3zm63 0h3v3h-3zm-63 3h3v3h-3zm63 0h3v3h-3zm0 3h3v3h-3zm-60 12h3v3h-3zm60 9h3v3h-3zm-57 3h3v3h-3zm51 9h3v3h-3zm-42 12h3v3h-3zm3 6h3v3h-3zm24 0h3v3h-3zm-3 6h3v3h-3zm-18 3h3v3h-3zm18 0h3v3h-3zm-18 3h3v3h-3zm3 9h3v3h-3zm12 0h3v3h-3zm-12 3h3v3h-3zm12 0h3v3h-3zm-9 6h3v3h-3zm6 0h3v3h-3zm-3 3h3v3h-3zm21 24h15v3h-15zm-6 3h3v3h-3zm-3 3h3v3h-3zm33 0h3v3h-3zm3 3h3v3h-3zm0 12h3v3h-3zm-33 6h3v3h-3zm12 6h9v3h-9z"/>
<path fill="#faea3c" d="M0 0m324 33h6v3h-6zm15 15h3v3h-3zm-30 3h3v3h-3zm0 30h3v3h-3zm30 3h3v3h-3zm-27 3h3v3h-3zm24 3h3v3h-3zm-15 6h3v3h-3zm9 0h3v3h-3zm-102 36h9v3h-9zm-6 3h3v3h-3zm18 0h3v3h-3zm-24 3h3v3h-3zm30 0h3v3h-3zm3 3h3v3h-3zm3 3h3v3h-3zm-42 3h3v3h-3zm-3 6h3v3h-3zm51 0h3v3h-3zm-54 12h3v3h-3zm0 3h3v3h-3zm0 3h3v3h-3zm60 3h3v3h-3zm0 3h3v3h-3zm-60 9h3v3h-3zm0 3h3v3h-3zm63 12h3v3h-3zm0 3h3v3h-3zm-60 3h3v3h-3zm60 0h3v3h-3zm0 3h3v3h-3zm0 3h3v3h-3zm0 3h3v3h-3zm-57 3h3v3h-3zm54 6h3v3h-3zm-51 3h3v3h-3zm3 6h3v3h-3zm42 0h3v3h-3zm-3 3h3v3h-3zm-36 3h3v3h-3zm33 0h3v3h-3zm-3 3h3v3h-3zm-27 3h3v3h-3zm3 6h3v3h-3zm18 0h3v3h-3zm-18 3h3v3h-3zm15 6h3v3h-3zm-12 3h3v3h-3zm12 0h3v3h-3zm-12 3h3v3h-3zm12 0h3v3h-3zm-9 6h3v3h-3zm6 0h3v3h-3zm-6 3h9v3h-9zm3 3h3v3h-3zm18 30h3v3h-3zm21 0h3v3h-3zm-24 3h3v3h-3zm-3 3h3v3h-3zm0 3h3v3h-3zm36 0h3v3h-3zm0 3h3v3h-3zm-36 3h3v3h-3zm36 0h3v3h-3zm-36 3h3v3h-3zm9 9h3v3h-3zm18 0h3v3h-3z"/>
<path fill="#fae13e" d="M0 0m318 36h3v3h-3zm-3 3h3v3h-3zm21 3h3v3h-3zm-24 3h3v3h-3zm-3 9h3v3h-3zm0 24h3v3h-3zm30 3h3v3h-3zm-24 9h3v3h-3zm3 3h3v3h-3zm15 0h3v3h-3zm-9 3h6v3h-6zm-99 39h3v3h-3zm12 0h3v3h-3zm-18 3h3v3h-3zm-6 6h3v3h-3zm42 6h3v3h-3zm-48 6h3v3h-3zm54 6h3v3h-3zm-57 12h3v3h-3zm0 3h3v3h-3zm0 3h3v3h-3zm60 0h3v3h-3zm-60 3h3v3h-3zm60 0h3v3h-3zm-57 18h3v3h-3zm0 3h3v3h-3zm3 12h3v3h-3zm54 6h3v3h-3zm-51 3h3v3h-3zm48 3h3v3h-3zm-45 3h3v3h-3zm3 6h3v3h-3zm3 6h3v3h-3zm24 3h3v3h-3zm-21 3h3v3h-3zm18 0h3v3h-3zm-15 9h3v3h-3zm12 0h3v3h-3zm-12 3h3v3h-3zm9 6h3v3h-3zm-6 3h3v3h-3zm6 0h3v3h-3zm-3 3h3v3h-3zm21 36h6v3h-6zm12 0h6v3h-6zm9 3h3v3h-3zm3 3h3v3h-3zm-33 6h3v3h-3zm3 9h3v3h-3zm30 0h3v3h-3zm-27 3h3v3h-3zm24 0h3v3h-3z"/>
<path fill="#f9d73f" d="M0 0m330 36h3v3h-3zm3 3h3v3h-3zm6 12h3v3h-3zm-30 6h3v3h-3zm0 15h3v3h-3zm0 3h3v3h-3zm30 3h3v3h-3zm-27 6h3v3h-3zm24 3h3v3h-3zm-3 3h3v3h-3zm-12 3h3v3h-3zm9 0h3v3h-3zm-102 42h9v3h-9zm15 3h3v3h-3zm-27 3h3v3h-3zm30 0h3v3h-3zm3 3h3v3h-3zm3 3h3v3h-3zm-42 3h3v3h-3zm48 6h3v3h-3zm-51 3h3v3h-3zm54 6h3v3h-3zm3 21h3v3h-3zm0 3h3v3h-3zm-57 9h3v3h-3zm3 15h3v3h-3zm54 6h3v3h-3zm-51 3h3v3h-3zm45 9h3v3h-3zm-3 3h3v3h-3zm-3 3h3v3h-3zm-30 3h3v3h-3zm27 0h3v3h-3zm-3 3h3v3h-3zm-21 3h3v3h-3zm15 6h3v3h-3zm-12 3h3v3h-3zm12 0h3v3h-3zm-9 6h3v3h-3zm6 0h3v3h-3zm-6 3h3v3h-3zm6 0h3v3h-3zm-6 3h6v3h-6zm3 3h3v3h-3zm27 39h6v3h-6zm-9 3h3v3h-3zm21 0h3v3h-3zm-24 3h3v3h-3zm27 0h3v3h-3zm3 3h3v3h-3zm-30 9h3v3h-3zm30 0h3v3h-3zm-21 9h3v3h-3zm12 0h3v3h-3z"/>
<path fill="#f9ce40" d="M0 0m321 36h3v3h-3zm6 0h3v3h-3zm-12 6h3v3h-3zm21 3h3v3h-3zm-24 3h3v3h-3zm27 6h3v3h-3zm-30 6h3v3h-3zm0 3h3v3h-3zm0 3h3v3h-3zm0 3h3v3h-3zm30 6h3v3h-3zm-27 6h3v3h-3zm24 3h3v3h-3zm-21 3h3v3h-3zm3 3h3v3h-3zm6 3h6v3h-6zm-102 45h3v3h-3zm18 0h3v3h-3zm-21 3h3v3h-3zm-6 6h3v3h-3zm-3 6h3v3h-3zm45 0h3v3h-3zm3 6h3v3h-3zm-51 3h3v3h-3zm0 3h3v3h-3zm54 3h3v3h-3zm0 3h3v3h-3zm-54 21h3v3h-3zm57 0h3v3h-3zm-57 3h3v3h-3zm57 0h3v3h-3zm-54 15h3v3h-3zm54 6h3v3h-3zm-3 9h3v3h-3zm-45 3h3v3h-3zm3 6h3v3h-3zm6 9h3v3h-3zm18 3h3v3h-3zm-15 3h3v3h-3zm12 0h3v3h-3zm-12 3h3v3h-3zm3 3h3v3h-3zm6 0h3v3h-3zm-6 3h9v3h-9zm3 3h3v3h-3zm0 3h3v3h-3zm21 48h3v3h-3zm15 0h3v3h-3zm-18 3h3v3h-3zm-3 3h3v3h-3zm0 3h3v3h-3zm30 0h3v3h-3zm-30 3h3v3h-3zm30 0h3v3h-3zm-3 6h3v3h-3zm-3 3h3v3h-3zm-12 3h9v3h-9z"/>
<path fill="#f9c542" d="M0 0m324 36h3v3h-3zm-6 3h3v3h-3zm21 18h3v3h-3zm0 3h3v3h-3zm0 3h3v3h-3zm0 3h3v3h-3zm0 3h3v3h-3zm0 3h3v3h-3zm-27 6h3v3h-3zm3 6h3v3h-3zm18 3h3v3h-3zm-12 3h3v3h-3zm9 0h3v3h-3zm-105 48h6v3h-6zm12 0h3v3h-3zm6 3h3v3h-3zm-27 3h3v3h-3zm36 6h3v3h-3zm-42 6h3v3h-3zm48 6h3v3h-3zm-51 6h3v3h-3zm0 3h3v3h-3zm0 3h3v3h-3zm54 0h3v3h-3zm-54 9h3v3h-3zm0 3h3v3h-3zm0 3h3v3h-3zm57 9h3v3h-3zm0 3h3v3h-3zm0 3h3v3h-3zm-54 3h3v3h-3zm54 0h3v3h-3zm0 3h3v3h-3zm0 3h3v3h-3zm-51 6h3v3h-3zm48 3h3v3h-3zm-45 3h3v3h-3zm42 3h3v3h-3zm-39 3h3v3h-3zm36 0h3v3h-3zm-3 3h3v3h-3zm-30 3h3v3h-3zm27 0h3v3h-3zm-3 3h3v3h-3zm-3 3h3v3h-3zm-15 3h3v3h-3zm3 6h9v3h-9zm3 3h3v3h-3zm24 57h12v3h-12zm15 3h3v3h-3zm3 3h3v3h-3zm-24 12h3v3h-3zm3 3h3v3h-3z"/>
<path fill="#f9bc43" d="M0 0m330 39h3v3h-3zm3 3h3v3h-3zm3 6h3v3h-3zm-24 3h3v3h-3zm0 24h3v3h-3zm24 6h3v3h-3zm-18 6h3v3h-3zm6 3h6v3h-6zm-93 48h6v3h-6zm-9 3h3v3h-3zm24 3h3v3h-3zm-30 3h3v3h-3zm33 0h3v3h-3zm-36 3h3v3h-3zm42 6h3v3h-3zm-45 3h3v3h-3zm-3 18h3v3h-3zm54 0h3v3h-3zm-54 3h3v3h-3zm54 0h3v3h-3zm-51 24h3v3h-3zm3 12h3v3h-3zm48 3h3v3h-3zm-36 21h3v3h-3zm3 3h3v3h-3zm12 3h3v3h-3zm-9 3h9v3h-9zm24 66h3v3h-3zm15 0h3v3h-3zm-18 3h3v3h-3zm0 3h3v3h-3zm24 0h3v3h-3zm0 3h3v3h-3zm-24 3h3v3h-3zm24 0h3v3h-3zm-3 3h3v3h-3zm-15 3h3v3h-3zm12 0h3v3h-3z"/>
<path fill="#f8b345" d="M0 0m321 39h3v3h-3zm6 0h3v3h-3zm-12 6h3v3h-3zm21 6h3v3h-3zm-24 3h3v3h-3zm0 18h3v3h-3zm24 6h3v3h-3zm-21 3h3v3h-3zm3 3h3v3h-3zm15 0h3v3h-3zm-12 3h3v3h-3zm9 0h3v3h-3zm-105 54h3v3h-3zm15 0h3v3h-3zm-21 3h3v3h-3zm-6 9h3v3h-3zm39 0h3v3h-3zm-42 9h3v3h-3zm48 3h3v3h-3zm3 18h3v3h-3zm0 3h3v3h-3zm-51 12h3v3h-3zm0 3h3v3h-3zm3 12h3v3h-3zm48 3h3v3h-3zm-45 6h3v3h-3zm42 3h3v3h-3zm-39 3h3v3h-3zm36 0h3v3h-3zm-33 6h3v3h-3zm3 3h3v3h-3zm21 0h3v3h-3zm-3 3h3v3h-3zm-3 3h3v3h-3zm-9 3h9v3h-9zm27 69h6v3h-6zm9 0h3v3h-3zm-12 3h3v3h-3zm18 0h3v3h-3zm-21 6h3v3h-3zm3 6h3v3h-3zm6 3h3v3h-3zm6 0h3v3h-3z"/>
<path fill="#f8aa46" d="M0 0m324 39h3v3h-3zm-6 3h3v3h-3zm12 0h3v3h-3zm3 3h3v3h-3zm-18 3h3v3h-3zm21 6h3v3h-3zm-24 3h3v3h-3zm0 3h3v3h-3zm0 6h3v3h-3zm0 3h3v3h-3zm24 3h3v3h-3zm0 3h3v3h-3zm-21 3h3v3h-3zm18 3h3v3h-3zm-3 3h3v3h-3zm-6 3h6v3h-6zm-96 54h12v3h-12zm-6 3h3v3h-3zm21 0h3v3h-3zm-24 3h3v3h-3zm27 0h3v3h-3zm-30 3h3v3h-3zm33 0h3v3h-3zm-36 6h3v3h-3zm42 3h3v3h-3zm-45 6h3v3h-3zm0 3h3v3h-3zm48 0h3v3h-3zm0 3h3v3h-3zm3 18h3v3h-3zm-51 3h3v3h-3zm51 0h3v3h-3zm-51 3h3v3h-3zm51 0h3v3h-3zm-48 15h3v3h-3zm48 3h3v3h-3zm-45 6h3v3h-3zm42 3h3v3h-3zm-36 9h3v3h-3zm30 0h3v3h-3zm-3 3h3v3h-3zm-21 6h3v3h-3zm3 3h3v3h-3zm6 0h3v3h-3zm27 72h3v3h-3zm6 3h3v3h-3zm-15 3h3v3h-3zm18 0h3v3h-3zm0 3h3v3h-3zm-18 3h3v3h-3zm18 0h3v3h-3zm-3 3h3v3h-3zm-6 3h3v3h-3z"/>
<path fill="#f7a147" d="M0 0m336 57h3v3h-3zm-24 6h3v3h-3zm24 6h3v3h-3zm-3 9h3v3h-3zm-15 3h3v3h-3zm3 3h9v3h-9zm-96 60h3v3h-3zm15 0h3v3h-3zm12 12h3v3h-3zm-39 3h3v3h-3zm42 3h3v3h-3zm-45 9h3v3h-3zm0 3h3v3h-3zm48 0h3v3h-3zm-48 3h3v3h-3zm0 3h3v3h-3zm0 3h3v3h-3zm0 3h3v3h-3zm0 3h3v3h-3zm51 9h3v3h-3zm0 3h3v3h-3zm0 3h3v3h-3zm-48 3h3v3h-3zm48 0h3v3h-3zm0 3h3v3h-3zm-42 15h3v3h-3zm36 0h3v3h-3zm-30 9h3v3h-3zm18 3h3v3h-3zm-12 3h3v3h-3zm9 0h3v3h-3zm-6 3h3v3h-3zm24 75h6v3h-6zm9 0h3v3h-3zm-12 6h3v3h-3zm3 6h3v3h-3z"/>
<path fill="#f69948" d="M0 0m321 42h9v3h-9zm-3 3h3v3h-3zm15 3h3v3h-3zm-18 3h3v3h-3zm21 9h3v3h-3zm0 3h3v3h-3zm0 3h3v3h-3zm-21 9h3v3h-3zm15 6h3v3h-3zm-102 63h3v3h-3zm9 0h3v3h-3zm-15 3h3v3h-3zm21 0h3v3h-3zm-24 3h3v3h-3zm27 0h3v3h-3zm-30 3h3v3h-3zm33 0h3v3h-3zm-36 9h3v3h-3zm42 3h3v3h-3zm3 12h3v3h-3zm0 3h3v3h-3zm-45 24h3v3h-3zm3 12h3v3h-3zm42 3h3v3h-3zm-39 3h3v3h-3zm3 6h3v3h-3zm30 0h3v3h-3zm-3 3h3v3h-3zm-3 3h3v3h-3zm-18 3h3v3h-3zm6 3h6v3h-6zm30 78h3v3h-3zm-6 3h3v3h-3zm12 0h3v3h-3zm-12 3h3v3h-3zm12 0h3v3h-3zm-12 3h3v3h-3zm12 0h3v3h-3zm-9 3h9v3h-9z"/>
<path fill="#f4914a" d="M0 0m330 45h3v3h-3zm3 6h3v3h-3zm-18 3h3v3h-3zm0 18h3v3h-3zm18 3h3v3h-3zm-15 3h3v3h-3zm12 0h3v3h-3zm-9 3h9v3h-9zm-90 63h6v3h-6zm9 3h3v3h-3zm-24 9h3v3h-3zm36 3h3v3h-3zm-39 6h3v3h-3zm42 3h3v3h-3zm3 15h3v3h-3zm0 3h3v3h-3zm-45 12h3v3h-3zm0 3h3v3h-3zm3 12h3v3h-3zm42 3h3v3h-3zm-3 6h3v3h-3zm-30 9h3v3h-3zm3 3h3v3h-3zm3 3h3v3h-3zm9 0h3v3h-3zm21 84h9v3h-9zm0 3h3v3h-3zm6 0h3v3h-3zm-6 3h9v3h-9z"/>
<path fill="#f3894b" d="M0 0m321 45h3v3h-3zm6 0h3v3h-3zm-9 3h3v3h-3zm15 6h3v3h-3zm-18 3h3v3h-3zm0 3h3v3h-3zm0 3h3v3h-3zm0 3h3v3h-3zm0 3h3v3h-3zm18 0h3v3h-3zm0 3h3v3h-3zm-15 3h3v3h-3zm3 3h3v3h-3zm-96 69h3v3h-3zm12 0h3v3h-3zm-15 3h3v3h-3zm21 0h3v3h-3zm-24 3h3v3h-3zm27 0h3v3h-3zm3 3h3v3h-3zm-33 3h3v3h-3zm36 3h3v3h-3zm-39 6h3v3h-3zm0 3h3v3h-3zm42 0h3v3h-3zm3 18h3v3h-3zm-45 3h3v3h-3zm45 0h3v3h-3zm-45 3h3v3h-3zm45 0h3v3h-3zm-42 15h3v3h-3zm42 0h3v3h-3zm0 3h3v3h-3zm-39 6h3v3h-3zm3 6h3v3h-3zm30 0h3v3h-3zm-3 3h3v3h-3zm-3 3h3v3h-3zm-3 3h3v3h-3zm-9 3h6v3h-6zm30 87h3v3h-3z"/>
<path fill="#f2814c" d="M0 0m324 45h3v3h-3zm6 3h3v3h-3zm-12 3h3v3h-3zm15 6h3v3h-3zm0 3h3v3h-3zm0 3h3v3h-3zm0 3h3v3h-3zm-15 6h3v3h-3zm12 3h3v3h-3zm-6 3h6v3h-6zm-96 69h9v3h-9zm-9 9h3v3h-3zm-3 6h3v3h-3zm-3 12h3v3h-3zm42 0h3v3h-3zm-42 3h3v3h-3zm0 3h3v3h-3zm0 3h3v3h-3zm0 3h3v3h-3zm0 3h3v3h-3zm45 9h3v3h-3zm0 3h3v3h-3zm0 3h3v3h-3zm-42 3h3v3h-3zm42 0h3v3h-3zm-39 9h3v3h-3zm36 3h3v3h-3zm-30 9h3v3h-3zm3 3h3v3h-3zm3 3h3v3h-3zm9 0h3v3h-3z"/>
<path fill="#f1784d" d="M0 0m321 48h3v3h-3zm6 0h3v3h-3zm3 3h3v3h-3zm-12 3h3v3h-3zm0 15h3v3h-3zm12 3h3v3h-3zm-9 3h9v3h-9zm-96 75h3v3h-3zm15 0h3v3h-3zm-18 3h3v3h-3zm21 0h3v3h-3zm3 3h3v3h-3zm3 3h3v3h-3zm-33 6h3v3h-3zm36 0h3v3h-3zm3 12h3v3h-3zm0 3h3v3h-3zm-39 24h3v3h-3zm39 12h3v3h-3zm-33 6h3v3h-3zm30 0h3v3h-3zm-3 3h3v3h-3zm-3 3h3v3h-3zm-3 3h3v3h-3zm-9 3h6v3h-6z"/>
<path fill="#f0704e" d="M0 0m324 48h3v3h-3zm-3 3h3v3h-3zm9 3h3v3h-3zm-12 3h3v3h-3zm0 3h3v3h-3zm0 3h3v3h-3zm0 3h3v3h-3zm12 3h3v3h-3zm-9 3h3v3h-3zm6 0h3v3h-3zm-99 78h12v3h-12zm-9 9h3v3h-3zm30 3h3v3h-3zm-33 6h3v3h-3zm36 0h3v3h-3zm-36 3h3v3h-3zm39 12h3v3h-3zm0 3h3v3h-3zm0 3h3v3h-3zm-39 9h3v3h-3zm0 3h3v3h-3zm3 12h3v3h-3zm36 0h3v3h-3zm-33 6h3v3h-3zm3 6h3v3h-3zm3 3h3v3h-3zm3 3h3v3h-3zm9 0h3v3h-3z"/>
<path fill="#ef684f" d="M0 0m324 51h6v3h-6zm6 6h3v3h-3zm0 3h3v3h-3zm0 3h3v3h-3zm0 3h3v3h-3zm-9 3h3v3h-3zm6 0h3v3h-3zm-3 3h3v3h-3zm-99 81h3v3h-3zm15 0h3v3h-3zm-18 3h3v3h-3zm21 0h3v3h-3zm3 3h3v3h-3zm-27 3h3v3h-3zm33 9h3v3h-3zm-36 3h3v3h-3zm0 3h3v3h-3zm0 3h3v3h-3zm0 3h3v3h-3zm0 3h3v3h-3zm0 3h3v3h-3zm0 3h3v3h-3zm39 0h3v3h-3zm-39 3h3v3h-3zm39 0h3v3h-3zm0 3h3v3h-3zm0 3h3v3h-3zm0 3h3v3h-3zm0 3h3v3h-3zm-36 3h3v3h-3zm36 0h3v3h-3zm-3 9h3v3h-3zm-3 3h3v3h-3zm-6 6h3v3h-3zm-9 3h6v3h-6z"/>
<path fill="#ed6250" d="M0 0m321 54h9v3h-9zm0 3h3v3h-3zm0 3h3v3h-3zm0 3h3v3h-3zm0 3h3v3h-3zm6 0h3v3h-3zm-3 3h3v3h-3zm-96 84h12v3h-12zm-3 3h3v3h-3zm-3 3h3v3h-3zm-3 6h3v3h-3zm30 0h3v3h-3zm3 9h3v3h-3zm0 3h3v3h-3zm-33 30h3v3h-3zm3 9h3v3h-3zm30 0h3v3h-3zm-27 6h3v3h-3zm3 3h3v3h-3zm18 0h3v3h-3zm-15 3h3v3h-3zm9 0h3v3h-3z"/>
<path fill="#ea5f50" d="M0 0m324 57h6v3h-6zm0 3h6v3h-6zm0 3h6v3h-6zm0 3h3v3h-3zm-96 90h3v3h-3zm12 0h3v3h-3zm3 3h3v3h-3zm-21 3h3v3h-3zm24 0h3v3h-3zm-27 6h3v3h-3zm30 0h3v3h-3zm-30 3h3v3h-3zm33 9h3v3h-3zm0 3h3v3h-3zm0 3h3v3h-3zm-33 15h3v3h-3zm0 3h3v3h-3zm3 9h3v3h-3zm30 0h3v3h-3zm-27 6h3v3h-3zm24 0h3v3h-3zm-6 6h3v3h-3zm-9 3h6v3h-6z"/>
<path fill="#e75b50" d="M0 0m231 156h9v3h-9zm-6 3h3v3h-3zm-3 6h3v3h-3zm24 0h3v3h-3zm3 6h3v3h-3zm-30 3h3v3h-3zm0 3h3v3h-3zm0 3h3v3h-3zm0 3h3v3h-3zm0 3h3v3h-3zm0 3h3v3h-3zm33 0h3v3h-3zm-33 3h3v3h-3zm33 0h3v3h-3zm-33 3h3v3h-3zm33 0h3v3h-3zm-33 3h3v3h-3zm33 9h3v3h-3zm-30 3h3v3h-3zm30 0h3v3h-3zm-24 12h3v3h-3zm18 0h3v3h-3zm-15 3h3v3h-3z"/>
<path fill="#e45850" d="M0 0m228 159h3v3h-3zm12 0h3v3h-3zm-15 3h3v3h-3zm18 0h3v3h-3zm-21 6h3v3h-3zm24 0h3v3h-3zm3 6h3v3h-3zm0 3h3v3h-3zm3 21h3v3h-3zm0 3h3v3h-3zm0 3h3v3h-3zm-30 3h3v3h-3zm3 9h3v3h-3zm24 0h3v3h-3zm-3 3h3v3h-3zm-3 3h3v3h-3zm-9 3h9v3h-9z"/>
<path fill="#e25450" d="M0 0m231 159h9v3h-9zm-3 3h3v3h-3zm12 0h3v3h-3zm-15 3h3v3h-3zm18 0h3v3h-3zm-21 6h3v3h-3zm24 0h3v3h-3zm-24 3h3v3h-3zm0 3h3v3h-3zm27 3h3v3h-3zm0 3h3v3h-3zm0 3h3v3h-3zm-27 15h3v3h-3zm0 3h3v3h-3zm3 9h3v3h-3zm24 0h3v3h-3zm-21 6h3v3h-3zm3 3h3v3h-3z"/>
<path fill="#df5150" d="M0 0m231 162h9v3h-9zm-3 3h3v3h-3zm-3 3h3v3h-3zm18 0h3v3h-3zm-18 3h3v3h-3zm21 3h3v3h-3zm-24 6h3v3h-3zm0 3h3v3h-3zm0 3h3v3h-3zm0 3h3v3h-3zm27 0h3v3h-3zm-27 3h3v3h-3zm27 0h3v3h-3zm-27 3h3v3h-3zm27 0h3v3h-3zm-27 3h3v3h-3zm27 0h3v3h-3zm0 6h3v3h-3zm0 3h3v3h-3zm-24 3h3v3h-3zm24 0h3v3h-3zm-21 6h3v3h-3zm18 0h3v3h-3zm-15 3h3v3h-3zm12 0h3v3h-3zm-9 3h9v3h-9z"/>
<path fill="#dc4d50" d="M0 0m231 165h3v3h-3zm6 0h6v3h-6zm-9 3h3v3h-3zm15 3h3v3h-3zm-18 3h3v3h-3zm0 3h3v3h-3zm21 0h3v3h-3zm0 3h3v3h-3zm3 21h3v3h-3zm-24 3h3v3h-3zm0 3h3v3h-3zm3 6h3v3h-3zm18 0h3v3h-3zm-12 6h3v3h-3zm6 0h3v3h-3z"/>
<path fill="#da4a50" d="M0 0m234 165h3v3h-3zm-3 3h3v3h-3zm6 0h6v3h-6zm-9 3h3v3h-3zm15 3h3v3h-3zm-18 6h3v3h-3zm0 3h3v3h-3zm21 0h3v3h-3zm-21 3h3v3h-3zm21 0h3v3h-3zm-21 3h3v3h-3zm21 0h3v3h-3zm-21 3h3v3h-3zm21 0h3v3h-3zm-21 3h3v3h-3zm0 3h3v3h-3zm0 3h3v3h-3zm21 6h3v3h-3zm-18 3h3v3h-3zm18 0h3v3h-3zm-15 6h3v3h-3zm12 0h3v3h-3zm-6 3h3v3h-3z"/>
<path fill="#d74650" d="M0 0m234 168h3v3h-3zm-3 3h12v3h-12zm-3 3h15v3h-15zm0 3h18v3h-18zm0 3h18v3h-18zm0 3h18v3h-18zm0 3h18v3h-18zm0 3h18v3h-18zm0 3h18v3h-18zm0 3h21v3h-21zm0 3h21v3h-21zm0 3h21v3h-21zm0 3h21v3h-21zm0 3h18v3h-18zm3 3h15v3h-15zm0 3h15v3h-15zm3 3h9v3h-9z"/>
</g>
</g></g>
<path fill="#000" d="M180.8 25.2L188.8 25.2L184.8 18.4zM189.4 33.8L197.4 33.8L193.4 27.0zM170.6 66.9L178.6 66.9L174.6 60.1zM213.6 70.5L221.6 70.5L217.6 63.7zM213.6 80.7L221.6 80.7L217.6 73.9zM181.9 82.1L189.9 82.1L185.9 75.3zM168.8 92.9L176.8 92.9L172.8 86.1zM176.0 95.6L184.0 95.6L180.0 88.8zM170.6 108.4L178.6 108.4L174.6 101.6zM168.8 114.3L176.8 114.3L172.8 107.5zM168.8 117.0L176.8 117.0L172.8 110.2zM282.2 95.6L290.2 95.6L286.2 88.8zM278.0 103.6L286.0 103.6L282.0 96.8zM259.3 132.2L267.3 132.2L263.3 125.4zM276.3 135.8L284.3 135.8L280.3 129.0zM246.7 143.0L254.7 143.0L250.7 136.2zM247.1 148.3L255.1 148.3L251.1 141.5zM263.7 151.9L271.7 151.9L267.7 145.1zM246.4 163.5L254.4 163.5L250.4 156.7zM256.6 168.9L264.6 168.9L260.6 162.1zM260.2 168.9L268.2 168.9L264.2 162.1zM251.2 175.7L259.2 175.7L255.2 168.9zM265.5 175.7L273.5 175.7L269.5 168.9zM373.4 16.8L381.4 16.8L377.4 10.0zM360.5 33.5L368.5 33.5L364.5 26.7zM361.0 51.7L369.0 51.7L365.0 44.9zM372.9 64.8L380.9 64.8L376.9 58.0zM393.9 61.2L401.9 61.2L397.9 54.4zM360.9 70.6L368.9 70.6L364.9 63.8zM361.6 73.9L369.6 73.9L365.6 67.1zM355.8 77.9L363.8 77.9L359.8 71.1zM371.0 77.0L379.0 77.0L375.0 70.2zM348.7 81.0L356.7 81.0L352.7 74.2zM395.5 72.2L403.5 72.2L399.5 65.4zM398.2 77.0L406.2 77.0L402.2 70.2zM402.0 77.6L410.0 77.6L406.0 70.8zM341.7 86.8L349.7 86.8L345.7 80.0zM361.9 86.4L369.9 86.4L365.9 79.6zM365.2 85.4L373.2 85.4L369.2 78.6zM368.3 86.4L376.3 86.4L372.3 79.6zM392.8 87.3L400.8 87.3L396.8 80.5zM400.2 92.7L408.2 92.7L404.2 85.9zM348.7 98.9L356.7 98.9L352.7 92.1zM369.7 97.1L377.7 97.1L373.7 90.3zM386.8 100.5L394.8 100.5L390.8 93.7zM370.0 106.5L378.0 106.5L374.0 99.7zM370.6 115.7L378.6 115.7L374.6 108.9zM375.2 116.3L383.2 116.3L379.2 109.5zM384.5 114.0L392.5 114.0L388.5 107.2zM390.2 110.5L398.2 110.5L394.2 103.7zM392.5 115.7L400.5 115.7L396.5 108.9zM370.0 120.3L378.0 120.3L374.0 113.5zM390.8 121.5L398.8 121.5L394.8 114.7zM356.8 124.4L364.8 124.4L360.8 117.6zM357.9 130.1L365.9 130.1L361.9 123.3zM359.1 131.9L367.1 131.9L363.1 125.1zM361.4 136.5L369.4 136.5L365.4 129.7zM351.0 141.7L359.0 141.7L355.0 134.9zM363.1 144.0L371.1 144.0L367.1 137.2zM372.9 147.4L380.9 147.4L376.9 140.6zM397.0 127.1L405.0 127.1L401.0 120.3zM395.8 130.5L403.8 130.5L399.8 123.7zM392.9 134.6L400.9 134.6L396.9 127.8zM390.0 137.4L398.0 137.4L394.0 130.6zM394.1 138.0L402.1 138.0L398.1 131.2zM395.8 148.4L403.8 148.4L399.8 141.6zM399.8 149.0L407.8 149.0L403.8 142.2zM417.7 110.9L425.7 110.9L421.7 104.1zM420.6 131.7L428.6 131.7L424.6 124.9zM418.9 142.6L426.9 142.6L422.9 135.8zM418.3 146.7L426.3 146.7L422.3 139.9zM351.8 155.7L359.8 155.7L355.8 148.9zM372.3 159.7L380.3 159.7L376.3 152.9zM361.2 165.9L369.2 165.9L365.2 159.1zM354.1 183.4L362.1 183.4L358.1 176.6zM379.5 175.9L387.5 175.9L383.5 169.1zM400.2 152.6L408.2 152.6L404.2 145.8zM406.2 156.1L414.2 156.1L410.2 149.3zM406.9 164.2L414.9 164.2L410.9 157.4zM385.2 160.7L393.2 160.7L389.2 153.9zM389.3 159.0L397.3 159.0L393.3 152.2zM391.0 161.9L399.0 161.9L395.0 155.1zM387.0 164.7L395.0 164.7L391.0 157.9zM384.7 167.1L392.7 167.1L388.7 160.3zM396.8 165.3L404.8 165.3L400.8 158.5zM391.0 171.1L399.0 171.1L395.0 164.3zM395.0 171.7L403.0 171.7L399.0 164.9zM397.9 171.7L405.9 171.7L401.9 164.9zM392.7 173.4L400.7 173.4L396.7 166.6zM396.2 180.3L404.2 180.3L400.2 173.5zM409.5 182.6L417.5 182.6L413.5 175.8zM413.5 180.9L421.5 180.9L417.5 174.1zM381.0 188.6L389.0 188.6L385.0 181.8zM386.2 190.9L394.2 190.9L390.2 184.1zM389.1 193.8L397.1 193.8L393.1 187.0zM384.5 196.7L392.5 196.7L388.5 189.9zM379.8 197.2L387.8 197.2L383.8 190.4zM393.7 196.7L401.7 196.7L397.7 189.9zM395.4 196.1L403.4 196.1L399.4 189.3zM389.1 199.0L397.1 199.0L393.1 192.2zM385.6 200.7L393.6 200.7L389.6 193.9zM376.4 203.6L384.4 203.6L380.4 196.8zM377.5 201.9L385.5 201.9L381.5 195.1zM403.5 189.2L411.5 189.2L407.5 182.4zM407.5 188.6L415.5 188.6L411.5 181.8zM405.8 192.6L413.8 192.6L409.8 185.8zM409.8 194.9L417.8 194.9L413.8 188.1zM413.3 197.2L421.3 197.2L417.3 190.4zM376.4 212.2L384.4 212.2L380.4 205.4zM381.0 214.6L389.0 214.6L385.0 207.8zM375.2 213.4L383.2 213.4L379.2 206.6zM390.2 212.8L398.2 212.8L394.2 206.0zM394.8 207.6L402.8 207.6L398.8 200.8zM397.2 212.2L405.2 212.2L401.2 205.4zM399.5 216.9L407.5 216.9L403.5 210.1zM407.5 214.6L415.5 214.6L411.5 207.8zM404.1 218.0L412.1 218.0L408.1 211.2zM409.3 220.3L417.3 220.3L413.3 213.5zM402.3 221.5L410.3 221.5L406.3 214.7zM400.0 227.8L408.0 227.8L404.0 221.0zM367.2 224.4L375.2 224.4L371.2 217.6zM361.6 202.4L369.6 202.4L365.6 195.6zM358.7 218.0L366.7 218.0L362.7 211.2zM339.1 224.9L347.1 224.9L343.1 218.1zM244.0 194.5L252.0 194.5L248.0 187.7zM242.7 210.1L250.7 210.1L246.7 203.3zM210.9 217.2L218.9 217.2L214.9 210.4zM234.1 229.8L242.1 229.8L238.1 223.0zM236.8 234.2L244.8 234.2L240.8 227.4zM228.8 240.5L236.8 240.5L232.8 233.7zM228.8 244.1L236.8 244.1L232.8 237.3zM227.0 248.5L235.0 248.5L231.0 241.7zM215.4 248.2L223.4 248.2L219.4 241.4zM201.9 253.0L209.9 253.0L205.9 246.2zM209.1 256.6L217.1 256.6L213.1 249.8zM171.5 243.2L179.5 243.2L175.5 236.4zM176.0 241.0L184.0 241.0L180.0 234.2zM176.9 244.6L184.9 244.6L180.9 237.8zM253.5 186.3L261.5 186.3L257.5 179.5zM267.3 186.3L275.3 186.3L271.3 179.5zM256.6 193.4L264.6 193.4L260.6 186.6zM260.7 200.6L268.7 200.6L264.7 193.8zM268.6 200.6L276.6 200.6L272.6 193.8zM250.3 217.8L258.3 217.8L254.3 211.0zM254.8 217.8L262.8 217.8L258.8 211.0zM254.3 225.3L262.3 225.3L258.3 218.5zM258.4 233.3L266.4 233.3L262.4 226.5zM264.6 231.0L272.6 231.0L268.6 224.2zM268.2 231.6L276.2 231.6L272.2 224.8zM270.4 239.2L278.4 239.2L274.4 232.4zM293.6 233.3L301.6 233.3L297.6 226.5zM296.0 239.6L304.0 239.6L300.0 232.8zM294.2 245.0L302.2 245.0L298.2 238.2zM298.6 250.0L306.6 250.0L302.6 243.2zM295.9 253.9L303.9 253.9L299.9 247.1zM311.1 246.4L319.1 246.4L315.1 239.6zM275.4 256.6L283.4 256.6L279.4 249.8zM280.7 256.6L288.7 256.6L284.7 249.8zM297.7 261.1L305.7 261.1L301.7 254.3zM188.5 270.9L196.5 270.9L192.5 264.1zM203.4 269.1L211.4 269.1L207.4 262.3zM194.4 276.3L202.4 276.3L198.4 269.5zM193.9 279.5L201.9 279.5L197.9 272.7zM184.0 284.4L192.0 284.4L188.0 277.6zM187.3 286.1L195.3 286.1L191.3 279.3zM235.0 294.2L243.0 294.2L239.0 287.4zM194.4 303.5L202.4 303.5L198.4 296.7zM223.4 304.9L231.4 304.9L227.4 298.1zM214.1 315.3L222.1 315.3L218.1 308.5zM200.2 321.9L208.2 321.9L204.2 315.1zM197.5 325.0L205.5 325.0L201.5 318.2zM198.0 333.2L206.0 333.2L202.0 326.4zM173.7 331.4L181.7 331.4L177.7 324.6zM248.5 268.2L256.5 268.2L252.5 261.4zM252.1 266.4L260.1 266.4L256.1 259.6zM281.6 266.4L289.6 266.4L285.6 259.6zM278.6 270.9L286.6 270.9L282.6 264.1zM285.7 272.4L293.7 272.4L289.7 265.6zM257.8 299.9L265.8 299.9L261.8 293.1zM268.6 296.9L276.6 296.9L272.6 290.1zM268.6 301.0L276.6 301.0L272.6 294.2zM301.3 299.2L309.3 299.2L305.3 292.4zM318.0 299.6L326.0 299.6L322.0 292.8zM318.7 304.0L326.7 304.0L322.7 297.2zM311.1 307.6L319.1 307.6L315.1 300.8zM319.2 310.3L327.2 310.3L323.2 303.5zM273.2 311.2L281.2 311.2L277.2 304.4zM282.5 318.9L290.5 318.9L286.5 312.1zM286.1 324.6L294.1 324.6L290.1 317.8zM290.6 329.1L298.6 329.1L294.6 322.3zM284.0 329.1L292.0 329.1L288.0 322.3zM281.6 334.4L289.6 334.4L285.6 327.6zM314.7 318.3L322.7 318.3L318.7 311.5zM312.9 321.9L320.9 321.9L316.9 315.1zM305.8 326.0L313.8 326.0L309.8 319.2zM310.3 326.4L318.3 326.4L314.3 319.6zM318.3 328.2L326.3 328.2L322.3 321.4zM304.0 335.0L312.0 335.0L308.0 328.2zM311.1 335.3L319.1 335.3L315.1 328.5zM292.4 339.8L300.4 339.8L296.4 333.0zM296.8 340.7L304.8 340.7L300.8 333.9zM261.0 342.1L269.0 342.1L265.0 335.3zM268.6 341.1L276.6 341.1L272.6 334.3zM333.9 240.6L341.9 240.6L337.9 233.8zM336.0 251.7L344.0 251.7L340.0 244.9zM341.9 263.3L349.9 263.3L345.9 256.5zM335.3 271.4L343.3 271.4L339.3 264.6zM326.7 276.4L334.7 276.4L330.7 269.6zM335.3 278.1L343.3 278.1L339.3 271.3zM358.9 242.7L366.9 242.7L362.9 235.9zM361.6 247.2L369.6 247.2L365.6 240.4zM361.6 254.3L369.6 254.3L365.6 247.5zM357.2 259.7L365.2 259.7L361.2 252.9zM357.2 287.4L365.2 287.4L361.2 280.6zM367.9 287.4L375.9 287.4L371.9 280.6zM398.7 296.4L406.7 296.4L402.7 289.6zM395.6 307.1L403.6 307.1L399.6 300.3zM392.9 315.2L400.9 315.2L396.9 308.4zM390.4 247.4L398.4 247.4L394.4 240.6zM391.0 253.2L399.0 253.2L395.0 246.4zM387.5 263.0L395.5 263.0L391.5 256.2zM387.0 267.6L395.0 267.6L391.0 260.8zM392.7 263.6L400.7 263.6L396.7 256.8zM397.9 263.6L405.9 263.6L401.9 256.8zM403.7 265.3L411.7 265.3L407.7 258.5zM391.0 269.4L399.0 269.4L395.0 262.6zM394.7 279.4L402.7 279.4L398.7 272.6zM394.7 283.9L402.7 283.9L398.7 277.1zM328.5 325.1L336.5 325.1L332.5 318.3zM330.4 323.2L338.4 323.2L334.4 316.4zM338.1 319.4L346.1 319.4L342.1 312.6zM339.1 324.2L347.1 324.2L343.1 317.4zM338.1 328.0L346.1 328.0L342.1 321.2zM345.8 335.7L353.8 335.7L349.8 328.9zM376.6 323.8L384.6 323.8L380.6 317.0zM387.2 320.3L395.2 320.3L391.2 313.5zM389.1 316.5L397.1 316.5L393.1 309.7zM389.1 328.0L397.1 328.0L393.1 321.2zM410.2 326.1L418.2 326.1L414.2 319.3zM412.2 324.2L420.2 324.2L416.2 317.4zM408.3 329.9L416.3 329.9L412.3 323.1zM412.2 346.3L420.2 346.3L416.2 339.5zM418.6 304.8L426.6 304.8L422.6 298.0zM425.3 302.1L433.3 302.1L429.3 295.3zM428.7 300.8L436.7 300.8L432.7 294.0zM427.3 314.9L435.3 314.9L431.3 308.1zM430.0 313.6L438.0 313.6L434.0 306.8zM424.6 319.0L432.6 319.0L428.6 312.2zM431.4 320.3L439.4 320.3L435.4 313.5zM428.0 325.7L436.0 325.7L432.0 318.9zM432.7 327.0L440.7 327.0L436.7 320.2zM424.6 329.1L432.6 329.1L428.6 322.3zM430.0 329.7L438.0 329.7L434.0 322.9zM417.2 327.0L425.2 327.0L421.2 320.2zM409.8 331.1L417.8 331.1L413.8 324.3zM420.6 333.1L428.6 333.1L424.6 326.3zM469.8 263.8L477.8 263.8L473.8 257.0zM471.6 270.0L479.6 270.0L475.6 263.2zM470.4 276.3L478.4 276.3L474.4 269.5zM468.6 283.4L476.6 283.4L472.6 276.6zM442.5 281.7L450.5 281.7L446.5 274.9zM459.6 289.7L467.6 289.7L463.6 282.9zM466.8 291.5L474.8 291.5L470.8 284.7zM494.9 288.5L502.9 288.5L498.9 281.7zM462.7 298.7L470.7 298.7L466.7 291.9zM460.9 303.1L468.9 303.1L464.9 296.3zM474.7 305.3L482.7 305.3L478.7 298.5zM486.8 300.4L494.8 300.4L490.8 293.6zM458.6 311.7L466.6 311.7L462.6 304.9zM450.7 321.9L458.7 321.9L454.7 315.1zM463.2 327.3L471.2 327.3L467.2 320.5zM468.9 326.4L476.9 326.4L472.9 319.6zM466.3 330.0L474.3 330.0L470.3 323.2zM474.7 331.4L482.7 331.4L478.7 324.6zM482.4 325.5L490.4 325.5L486.4 318.7zM490.4 336.2L498.4 336.2L494.4 329.4zM495.8 336.2L503.8 336.2L499.8 329.4zM495.8 346.4L503.8 346.4L499.8 339.6zM460.9 190.4L468.9 190.4L464.9 183.6zM447.8 198.4L455.8 198.4L451.8 191.6zM484.1 200.2L492.1 200.2L488.1 193.4zM475.7 205.6L483.7 205.6L479.7 198.8zM486.8 210.1L494.8 210.1L490.8 203.3zM487.7 213.7L495.7 213.7L491.7 206.9zM488.6 217.2L496.6 217.2L492.6 210.4zM490.4 220.8L498.4 220.8L494.4 214.0zM491.3 224.4L499.3 224.4L495.3 217.6zM474.3 216.3L482.3 216.3L478.3 209.5zM476.1 220.3L484.1 220.3L480.1 213.5zM479.7 222.6L487.7 222.6L483.7 215.8zM485.9 224.4L493.9 224.4L489.9 217.6zM477.9 227.1L485.9 227.1L481.9 220.3zM477.0 230.7L485.0 230.7L481.0 223.9zM473.4 235.1L481.4 235.1L477.4 228.3zM450.7 220.8L458.7 220.8L454.7 214.0zM449.3 225.3L457.3 225.3L453.3 218.5zM447.1 228.9L455.1 228.9L451.1 222.1zM429.6 225.3L437.6 225.3L433.6 218.5zM435.8 228.0L443.8 228.0L439.8 221.2zM437.1 235.1L445.1 235.1L441.1 228.3zM460.0 235.1L468.0 235.1L464.0 228.3zM492.2 241.0L500.2 241.0L496.2 234.2zM473.4 252.1L481.4 252.1L477.4 245.3zM470.7 256.6L478.7 256.6L474.7 249.8zM469.8 261.1L477.8 261.1L473.8 254.3zM444.8 260.2L452.8 260.2L448.8 253.4zM486.8 260.2L494.8 260.2L490.8 253.4zM483.3 261.1L491.3 261.1L487.3 254.3zM425.8 97.3L433.8 97.3L429.8 90.5zM446.1 114.9L454.1 114.9L450.1 108.1zM449.1 126.0L457.1 126.0L453.1 119.2zM466.1 117.0L474.1 117.0L470.1 110.2zM470.6 117.0L478.6 117.0L474.6 110.2zM479.5 109.0L487.5 109.0L483.5 102.2zM487.6 108.1L495.6 108.1L491.6 101.3zM491.1 109.0L499.1 109.0L495.1 102.2zM495.6 108.1L503.6 108.1L499.6 101.3zM487.2 114.9L495.2 114.9L491.2 108.1zM496.9 113.4L504.9 113.4L500.9 106.6zM446.6 85.7L454.6 85.7L450.6 78.9zM465.2 131.4L473.2 131.4L469.2 124.6zM467.9 136.4L475.9 136.4L471.9 129.6zM449.1 144.2L457.1 144.2L453.1 137.4zM490.3 132.2L498.3 132.2L494.3 125.4zM487.6 146.0L495.6 146.0L491.6 139.2zM465.2 149.6L473.2 149.6L469.2 142.8zM478.6 150.1L486.6 150.1L482.6 143.3zM462.9 156.7L470.9 156.7L466.9 149.9zM464.3 160.9L472.3 160.9L468.3 154.1zM481.3 159.1L489.3 159.1L485.3 152.3zM478.6 168.6L486.6 168.6L482.6 161.8zM491.1 168.6L499.1 168.6L495.1 161.8zM464.3 168.9L472.3 168.9L468.3 162.1zM463.4 175.2L471.4 175.2L467.4 168.4zM462.7 178.8L470.7 178.8L466.7 172.0zM471.3 14.7L479.3 14.7L475.3 7.9zM482.5 16.7L490.5 16.7L486.5 9.9zM486.2 20.9L494.2 20.9L490.2 14.1zM494.1 31.5L502.1 31.5L498.1 24.7zM472.2 35.0L480.2 35.0L476.2 28.2zM479.3 33.7L487.3 33.7L483.3 26.9zM478.4 39.9L486.4 39.9L482.4 33.1zM477.5 44.0L485.5 44.0L481.5 37.2zM482.5 43.5L490.5 43.5L486.5 36.7zM491.9 46.2L499.9 46.2L495.9 39.4zM471.3 49.8L479.3 49.8L475.3 43.0zM478.9 52.9L486.9 52.9L482.9 46.1zM483.4 54.7L491.4 54.7L487.4 47.9zM495.4 56.0L503.4 56.0L499.4 49.2zM486.9 59.6L494.9 59.6L490.9 52.8zM486.9 62.8L494.9 62.8L490.9 56.0zM467.7 66.9L475.7 66.9L471.7 60.1zM474.1 68.6L482.1 68.6L478.1 61.8zM485.6 69.7L493.6 69.7L489.6 62.9zM490.8 70.3L498.8 70.3L494.8 63.5zM473.5 78.6L481.5 78.6L477.5 71.8zM490.2 79.0L498.2 79.0L494.2 72.2zM466.0 83.0L474.0 83.0L470.0 76.2zM499.5 82.4L507.5 82.4L503.5 75.6zM480.4 86.5L488.4 86.5L484.4 79.7zM493.7 85.3L501.7 85.3L497.7 78.5zM501.8 87.6L509.8 87.6L505.8 80.8zM491.4 92.2L499.4 92.2L495.4 85.4zM489.1 94.6L497.1 94.6L493.1 87.8zM497.7 95.1L505.7 95.1L501.7 88.3zM492.5 95.7L500.5 95.7L496.5 88.9zM492.0 98.2L500.0 98.2L496.0 91.4zM480.2 38.2L488.2 38.2L484.2 31.4zM483.8 40.8L491.8 40.8L487.8 34.0zM476.7 55.6L484.7 55.6L480.7 48.8z"/>
<rect x="55" y="173.8" width="97.2" height="30.8" fill="#dedede"/>
<rect x="55" y="230.8" width="97.7" height="28.2" fill="#c8c8c8"/>
<rect x="68.5" y="305.5" width="7" height="25" fill="#8a8a8a"/>
<rect x="82.5" y="305.5" width="7" height="25" fill="#8a8a8a"/>
<rect x="96.3" y="305.5" width="7" height="25" fill="#8a8a8a"/>
<rect x="110.9" y="305.5" width="7" height="25" fill="#8a8a8a"/>
<rect x="125.7" y="305.5" width="7" height="25" fill="#8a8a8a"/>
<rect x="139.8" y="305.5" width="7" height="25" fill="#8a8a8a"/>
<rect x="54.7" y="8.90" width="11.38" height="11.05" fill="#2f2d8a" stroke="#5a5c8c" stroke-width="0.8"/>
<rect x="54.7" y="19.95" width="8.54" height="11.05" fill="#2f2d8a" stroke="#5a5c8c" stroke-width="0.8"/>
<rect x="54.7" y="31.00" width="19.92" height="11.05" fill="#2f2d8a" stroke="#5a5c8c" stroke-width="0.8"/>
<rect x="54.7" y="42.05" width="31.30" height="11.05" fill="#2f2d8a" stroke="#5a5c8c" stroke-width="0.8"/>
<rect x="54.7" y="53.10" width="25.61" height="11.05" fill="#2f2d8a" stroke="#5a5c8c" stroke-width="0.8"/>
<rect x="54.7" y="64.15" width="28.45" height="11.05" fill="#2f2d8a" stroke="#5a5c8c" stroke-width="0.8"/>
<rect x="54.7" y="75.20" width="56.90" height="11.05" fill="#2f2d8a" stroke="#5a5c8c" stroke-width="0.8"/>
<rect x="54.7" y="86.25" width="34.14" height="11.05" fill="#2f2d8a" stroke="#5a5c8c" stroke-width="0.8"/>
<rect x="54.7" y="97.30" width="28.45" height="11.05" fill="#2f2d8a" stroke="#5a5c8c" stroke-width="0.8"/>
<rect x="54.7" y="108.35" width="45.52" height="11.05" fill="#2f2d8a" stroke="#5a5c8c" stroke-width="0.8"/>
<rect x="54.7" y="119.40" width="31.30" height="11.05" fill="#2f2d8a" stroke="#5a5c8c" stroke-width="0.8"/>
<rect x="54.7" y="130.45" width="31.30" height="11.05" fill="#2f2d8a" stroke="#5a5c8c" stroke-width="0.8"/>
<rect x="54.7" y="141.50" width="34.14" height="11.05" fill="#2f2d8a" stroke="#5a5c8c" stroke-width="0.8"/>
<rect x="54.7" y="152.55" width="42.68" height="11.05" fill="#2f2d8a" stroke="#5a5c8c" stroke-width="0.8"/>
<rect x="54.7" y="163.60" width="42.68" height="11.05" fill="#2f2d8a" stroke="#5a5c8c" stroke-width="0.8"/>
<rect x="54.7" y="174.65" width="25.61" height="11.05" fill="#2f2d8a" stroke="#5a5c8c" stroke-width="0.8"/>
<rect x="54.7" y="185.70" width="56.90" height="11.05" fill="#2f2d8a" stroke="#5a5c8c" stroke-width="0.8"/>
<rect x="54.7" y="196.75" width="25.61" height="11.05" fill="#2f2d8a" stroke="#5a5c8c" stroke-width="0.8"/>
<rect x="54.7" y="207.80" width="68.28" height="11.05" fill="#2f2d8a" stroke="#5a5c8c" stroke-width="0.8"/>
<rect x="54.7" y="218.85" width="56.90" height="11.05" fill="#2f2d8a" stroke="#5a5c8c" stroke-width="0.8"/>
<rect x="54.7" y="229.90" width="39.83" height="11.05" fill="#2f2d8a" stroke="#5a5c8c" stroke-width="0.8"/>
<rect x="54.7" y="240.95" width="54.06" height="11.05" fill="#2f2d8a" stroke="#5a5c8c" stroke-width="0.8"/>
<rect x="54.7" y="252.00" width="54.06" height="11.05" fill="#2f2d8a" stroke="#5a5c8c" stroke-width="0.8"/>
<rect x="54.7" y="263.05" width="34.14" height="11.05" fill="#2f2d8a" stroke="#5a5c8c" stroke-width="0.8"/>
<rect x="54.7" y="274.10" width="39.83" height="11.05" fill="#2f2d8a" stroke="#5a5c8c" stroke-width="0.8"/>
<rect x="54.7" y="285.15" width="42.68" height="11.05" fill="#2f2d8a" stroke="#5a5c8c" stroke-width="0.8"/>
<rect x="54.7" y="296.20" width="34.14" height="11.05" fill="#2f2d8a" stroke="#5a5c8c" stroke-width="0.8"/>
<rect x="54.7" y="307.25" width="71.12" height="11.05" fill="#2f2d8a" stroke="#5a5c8c" stroke-width="0.8"/>
<rect x="54.7" y="318.30" width="93.89" height="11.05" fill="#2f2d8a" stroke="#5a5c8c" stroke-width="0.8"/>
<rect x="54.7" y="329.35" width="17.07" height="11.05" fill="#2f2d8a" stroke="#5a5c8c" stroke-width="0.8"/>
<path d="M154.4 2.5H54.7V352.3H154.4" fill="none" stroke="#000" stroke-width="1.1"/>
<line x1="154.4" y1="2.5" x2="154.4" y2="352.3" stroke="#555" stroke-width="1"/>
<line x1="68.9" y1="2.5" x2="68.9" y2="6.5" stroke="#000" stroke-width="1"/>
<line x1="68.9" y1="352.3" x2="68.9" y2="348.3" stroke="#000" stroke-width="1"/>
<line x1="83.2" y1="2.5" x2="83.2" y2="6.5" stroke="#000" stroke-width="1"/>
<line x1="83.2" y1="352.3" x2="83.2" y2="348.3" stroke="#000" stroke-width="1"/>
<line x1="97.4" y1="2.5" x2="97.4" y2="6.5" stroke="#000" stroke-width="1"/>
<line x1="97.4" y1="352.3" x2="97.4" y2="348.3" stroke="#000" stroke-width="1"/>
<line x1="111.7" y1="2.5" x2="111.7" y2="6.5" stroke="#000" stroke-width="1"/>
<line x1="111.7" y1="352.3" x2="111.7" y2="348.3" stroke="#000" stroke-width="1"/>
<line x1="125.9" y1="2.5" x2="125.9" y2="6.5" stroke="#000" stroke-width="1"/>
<line x1="125.9" y1="352.3" x2="125.9" y2="348.3" stroke="#000" stroke-width="1"/>
<line x1="140.1" y1="2.5" x2="140.1" y2="6.5" stroke="#000" stroke-width="1"/>
<line x1="140.1" y1="352.3" x2="140.1" y2="348.3" stroke="#000" stroke-width="1"/>
<line x1="154.4" y1="71.6" x2="155.9" y2="71.6" stroke="#444" stroke-width="1"/>
<line x1="154.4" y1="165.3" x2="155.9" y2="165.3" stroke="#444" stroke-width="1"/>
<text x="44.6" y="27.4" text-anchor="end" class="tk">70</text>
<text x="44.6" y="75.4" text-anchor="end" class="tk">60</text>
<text x="44.6" y="123.3" text-anchor="end" class="tk">50</text>
<text x="44.6" y="171.3" text-anchor="end" class="tk">40</text>
<text x="44.6" y="219.3" text-anchor="end" class="tk">30</text>
<text x="44.6" y="267.2" text-anchor="end" class="tk">20</text>
<text x="44.6" y="315.2" text-anchor="end" class="tk">10</text>
<text x="44.6" y="357.3" text-anchor="end" class="tk">0</text>
<text x="117.2" y="204" class="rg" textLength="33.4" lengthAdjust="spacingAndGlyphs">Dome</text>
<text x="117.8" y="257.2" class="rg" textLength="32.8" lengthAdjust="spacingAndGlyphs">InSAR</text>
<text x="109.8" y="302.4" class="rg" textLength="41.4" lengthAdjust="spacingAndGlyphs">Graben</text>
<text transform="translate(13.8,338.3) rotate(-90)" x="0" y="0" class="ax" textLength="322.5" lengthAdjust="spacing">Radial distance from uplift center (km)</text>
<rect x="164.00" y="428.5" width="11.77" height="25.1" fill="#2f2d8a" stroke="#5a5c8c" stroke-width="0.8"/>
<rect x="175.77" y="440" width="11.77" height="13.6" fill="#2f2d8a" stroke="#5a5c8c" stroke-width="0.8"/>
<rect x="187.53" y="437.5" width="11.77" height="16.1" fill="#2f2d8a" stroke="#5a5c8c" stroke-width="0.8"/>
<rect x="199.30" y="444.7" width="11.77" height="8.9" fill="#2f2d8a" stroke="#5a5c8c" stroke-width="0.8"/>
<rect x="211.07" y="442" width="11.77" height="11.6" fill="#2f2d8a" stroke="#5a5c8c" stroke-width="0.8"/>
<rect x="222.83" y="442" width="11.77" height="11.6" fill="#2f2d8a" stroke="#5a5c8c" stroke-width="0.8"/>
<rect x="234.60" y="444.7" width="11.77" height="8.9" fill="#2f2d8a" stroke="#5a5c8c" stroke-width="0.8"/>
<rect x="246.37" y="428.5" width="11.77" height="25.1" fill="#2f2d8a" stroke="#5a5c8c" stroke-width="0.8"/>
<rect x="258.13" y="417.7" width="11.77" height="35.9" fill="#2f2d8a" stroke="#5a5c8c" stroke-width="0.8"/>
<rect x="269.90" y="440" width="11.77" height="13.6" fill="#2f2d8a" stroke="#5a5c8c" stroke-width="0.8"/>
<rect x="281.67" y="433.4" width="11.77" height="20.2" fill="#2f2d8a" stroke="#5a5c8c" stroke-width="0.8"/>
<rect x="293.43" y="433.4" width="11.77" height="20.2" fill="#2f2d8a" stroke="#5a5c8c" stroke-width="0.8"/>
<rect x="305.20" y="435.5" width="11.77" height="18.1" fill="#2f2d8a" stroke="#5a5c8c" stroke-width="0.8"/>
<rect x="316.97" y="440" width="11.77" height="13.6" fill="#2f2d8a" stroke="#5a5c8c" stroke-width="0.8"/>
<rect x="328.73" y="433.4" width="11.77" height="20.2" fill="#2f2d8a" stroke="#5a5c8c" stroke-width="0.8"/>
<rect x="340.50" y="437.8" width="11.77" height="15.8" fill="#2f2d8a" stroke="#5a5c8c" stroke-width="0.8"/>
<rect x="352.27" y="428.5" width="11.77" height="25.1" fill="#2f2d8a" stroke="#5a5c8c" stroke-width="0.8"/>
<rect x="364.03" y="408.7" width="11.77" height="44.9" fill="#2f2d8a" stroke="#5a5c8c" stroke-width="0.8"/>
<rect x="375.80" y="418" width="11.77" height="35.6" fill="#2f2d8a" stroke="#5a5c8c" stroke-width="0.8"/>
<rect x="387.57" y="371" width="11.77" height="82.6" fill="#2f2d8a" stroke="#5a5c8c" stroke-width="0.8"/>
<rect x="399.33" y="369.2" width="11.77" height="84.4" fill="#2f2d8a" stroke="#5a5c8c" stroke-width="0.8"/>
<rect x="411.10" y="409" width="11.77" height="44.6" fill="#2f2d8a" stroke="#5a5c8c" stroke-width="0.8"/>
<rect x="422.87" y="424.9" width="11.77" height="28.7" fill="#2f2d8a" stroke="#5a5c8c" stroke-width="0.8"/>
<rect x="434.63" y="424.9" width="11.77" height="28.7" fill="#2f2d8a" stroke="#5a5c8c" stroke-width="0.8"/>
<rect x="446.40" y="435.9" width="11.77" height="17.7" fill="#2f2d8a" stroke="#5a5c8c" stroke-width="0.8"/>
<rect x="458.17" y="433.5" width="11.77" height="20.1" fill="#2f2d8a" stroke="#5a5c8c" stroke-width="0.8"/>
<rect x="469.93" y="384.8" width="11.77" height="68.8" fill="#2f2d8a" stroke="#5a5c8c" stroke-width="0.8"/>
<rect x="481.70" y="382.2" width="11.77" height="71.4" fill="#2f2d8a" stroke="#5a5c8c" stroke-width="0.8"/>
<rect x="493.47" y="375.9" width="11.77" height="77.7" fill="#2f2d8a" stroke="#5a5c8c" stroke-width="0.8"/>
<rect x="505.23" y="429.2" width="11.77" height="24.4" fill="#2f2d8a" stroke="#5a5c8c" stroke-width="0.8"/>
<rect x="164.0" y="364.8" width="353.0" height="88.8" fill="none" stroke="#000" stroke-width="1"/>
<line x1="164.0" y1="376.3" x2="168.5" y2="376.3" stroke="#000" stroke-width="1"/>
<line x1="517.0" y1="376.3" x2="512.5" y2="376.3" stroke="#000" stroke-width="1"/>
<line x1="164.0" y1="387.3" x2="168.5" y2="387.3" stroke="#000" stroke-width="1"/>
<line x1="517.0" y1="387.3" x2="512.5" y2="387.3" stroke="#000" stroke-width="1"/>
<line x1="164.0" y1="398.1" x2="168.5" y2="398.1" stroke="#000" stroke-width="1"/>
<line x1="517.0" y1="398.1" x2="512.5" y2="398.1" stroke="#000" stroke-width="1"/>
<line x1="164.0" y1="409.1" x2="168.5" y2="409.1" stroke="#000" stroke-width="1"/>
<line x1="517.0" y1="409.1" x2="512.5" y2="409.1" stroke="#000" stroke-width="1"/>
<line x1="164.0" y1="420.5" x2="168.5" y2="420.5" stroke="#000" stroke-width="1"/>
<line x1="517.0" y1="420.5" x2="512.5" y2="420.5" stroke="#000" stroke-width="1"/>
<line x1="261.7" y1="364.8" x2="261.7" y2="367.8" stroke="#000" stroke-width="1"/>
<line x1="359.8" y1="364.8" x2="359.8" y2="367.8" stroke="#000" stroke-width="1"/>
<line x1="458" y1="364.8" x2="458" y2="367.8" stroke="#000" stroke-width="1"/>
<text x="169" y="477" text-anchor="middle" class="dir">E</text>
<text x="256.8" y="477" text-anchor="middle" class="dir">N</text>
<text x="340.7" y="477" text-anchor="middle" class="dir">W</text>
<text x="430.8" y="477" text-anchor="middle" class="dir">S</text>
<text x="516" y="477" text-anchor="middle" class="dir">E</text>
<text x="168.6" y="498.7" class="ax" textLength="334" lengthAdjust="spacing">Bearing from uplift center (CCW from East)</text>
</svg>
</body></html>
